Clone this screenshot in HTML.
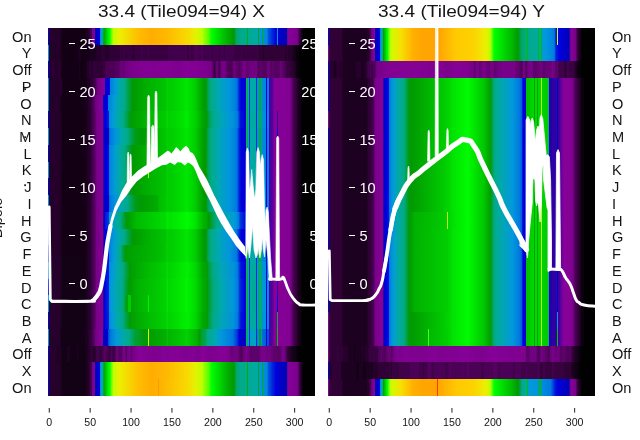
<!DOCTYPE html><html><head><meta charset="utf-8"><title>chart</title><style>html,body{margin:0;padding:0;background:#fff}body{width:640px;height:440px;overflow:hidden;position:relative;font-family:"Liberation Sans",sans-serif}svg{position:absolute;left:0;top:0;display:block}text{font-family:"Liberation Sans",sans-serif}svg{will-change:transform;opacity:0.9999}</style></head><body><svg width="640" height="440" viewBox="0 0 640 440"><defs><linearGradient id="g1"><stop offset="0" stop-color="#0000dd"/><stop offset="0.00367" stop-color="#0000dd"/><stop offset="0.00382" stop-color="#25002b"/><stop offset="0.04307" stop-color="#25002b"/><stop offset="0.04682" stop-color="#1c0020"/><stop offset="0.05056" stop-color="#1c0020"/><stop offset="0.05431" stop-color="#130015"/><stop offset="0.1404" stop-color="#130015"/><stop offset="0.1442" stop-color="#1c0020"/><stop offset="0.1479" stop-color="#1c0020"/><stop offset="0.1554" stop-color="#2f0035"/><stop offset="0.1592" stop-color="#41004b"/><stop offset="0.1647" stop-color="#4b0055"/><stop offset="0.1649" stop-color="#770088"/><stop offset="0.176" stop-color="#820093"/><stop offset="0.1761" stop-color="#0000b1"/><stop offset="0.1779" stop-color="#0000b1"/><stop offset="0.1816" stop-color="#0000c5"/><stop offset="0.1947" stop-color="#0000dd"/><stop offset="0.1948" stop-color="#008add"/><stop offset="0.1966" stop-color="#008add"/><stop offset="0.2004" stop-color="#009fcb"/><stop offset="0.2041" stop-color="#00aaa3"/><stop offset="0.2059" stop-color="#00aaa3"/><stop offset="0.2061" stop-color="#00a13d"/><stop offset="0.2097" stop-color="#00a13d"/><stop offset="0.2098" stop-color="#00aa00"/><stop offset="0.2116" stop-color="#00aa00"/><stop offset="0.2266" stop-color="#00f200"/><stop offset="0.2303" stop-color="#00fc00"/><stop offset="0.2341" stop-color="#2cff00"/><stop offset="0.2359" stop-color="#2cff00"/><stop offset="0.236" stop-color="#67ff00"/><stop offset="0.2378" stop-color="#67ff00"/><stop offset="0.2416" stop-color="#93ff00"/><stop offset="0.2434" stop-color="#93ff00"/><stop offset="0.2435" stop-color="#c0fd00"/><stop offset="0.2678" stop-color="#ecef00"/><stop offset="0.339" stop-color="#ffbd00"/><stop offset="0.3876" stop-color="#ffad00"/><stop offset="0.4476" stop-color="#ffb900"/><stop offset="0.5225" stop-color="#f8da00"/><stop offset="0.5524" stop-color="#e4f100"/><stop offset="0.5749" stop-color="#c0fd00"/><stop offset="0.5787" stop-color="#bcff00"/><stop offset="0.5824" stop-color="#a1ff00"/><stop offset="0.6011" stop-color="#58ff00"/><stop offset="0.6124" stop-color="#00ff00"/><stop offset="0.6685" stop-color="#00b400"/><stop offset="0.6948" stop-color="#009a00"/><stop offset="0.6985" stop-color="#009b13"/><stop offset="0.7022" stop-color="#00a13d"/><stop offset="0.704" stop-color="#00a13d"/><stop offset="0.7042" stop-color="#00a773"/><stop offset="0.7097" stop-color="#00a773"/><stop offset="0.7135" stop-color="#00a97d"/><stop offset="0.7172" stop-color="#00a97d"/><stop offset="0.721" stop-color="#00aa88"/><stop offset="0.7452" stop-color="#00aa93"/><stop offset="0.7454" stop-color="#00ac00"/><stop offset="0.749" stop-color="#00ac00"/><stop offset="0.7491" stop-color="#00aa95"/><stop offset="0.7809" stop-color="#00aaa0"/><stop offset="0.7864" stop-color="#00aaab"/><stop offset="0.7866" stop-color="#00ac00"/><stop offset="0.7902" stop-color="#00ac00"/><stop offset="0.7903" stop-color="#0098dd"/><stop offset="0.8014" stop-color="#0092dd"/><stop offset="0.8016" stop-color="#00ac00"/><stop offset="0.8052" stop-color="#00ac00"/><stop offset="0.8053" stop-color="#0090dd"/><stop offset="0.8184" stop-color="#0085dd"/><stop offset="0.8221" stop-color="#0078dd"/><stop offset="0.8258" stop-color="#0054dd"/><stop offset="0.8333" stop-color="#0041dd"/><stop offset="0.8408" stop-color="#0025dd"/><stop offset="0.8483" stop-color="#0013dd"/><stop offset="0.8521" stop-color="#0000dd"/><stop offset="0.8576" stop-color="#0000d9"/><stop offset="0.8578" stop-color="#0092dd"/><stop offset="0.8613" stop-color="#0092dd"/><stop offset="0.8615" stop-color="#0000d1"/><stop offset="0.8951" stop-color="#0000b1"/><stop offset="0.8952" stop-color="#6d009c"/><stop offset="0.897" stop-color="#6d009c"/><stop offset="0.9007" stop-color="#870098"/><stop offset="0.9307" stop-color="#7b008c"/><stop offset="0.9345" stop-color="#770088"/><stop offset="0.9419" stop-color="#41004b"/><stop offset="0.9532" stop-color="#09000b"/><stop offset="0.9569" stop-color="#000000"/><stop offset="1" stop-color="#000000"/></linearGradient><linearGradient id="g2"><stop offset="0" stop-color="#0098dd"/><stop offset="0.00367" stop-color="#0098dd"/><stop offset="0.00382" stop-color="#25002b"/><stop offset="0.02434" stop-color="#25002b"/><stop offset="0.02809" stop-color="#1c0020"/><stop offset="0.03184" stop-color="#25002b"/><stop offset="0.04307" stop-color="#25002b"/><stop offset="0.04682" stop-color="#1c0020"/><stop offset="0.05056" stop-color="#1c0020"/><stop offset="0.05431" stop-color="#130015"/><stop offset="0.1105" stop-color="#130015"/><stop offset="0.1142" stop-color="#1c0020"/><stop offset="0.1217" stop-color="#1c0020"/><stop offset="0.1255" stop-color="#130015"/><stop offset="0.1517" stop-color="#130015"/><stop offset="0.1554" stop-color="#1c0020"/><stop offset="0.1779" stop-color="#1c0020"/><stop offset="0.1816" stop-color="#25002b"/><stop offset="0.1966" stop-color="#25002b"/><stop offset="0.2004" stop-color="#2f0035"/><stop offset="0.2116" stop-color="#2f0035"/><stop offset="0.2154" stop-color="#25002b"/><stop offset="0.2266" stop-color="#25002b"/><stop offset="0.2303" stop-color="#2f0035"/><stop offset="0.2678" stop-color="#2f0035"/><stop offset="0.2715" stop-color="#380040"/><stop offset="0.2903" stop-color="#380040"/><stop offset="0.294" stop-color="#2f0035"/><stop offset="0.2978" stop-color="#380040"/><stop offset="0.3127" stop-color="#380040"/><stop offset="0.3165" stop-color="#2f0035"/><stop offset="0.324" stop-color="#2f0035"/><stop offset="0.3277" stop-color="#380040"/><stop offset="0.3464" stop-color="#380040"/><stop offset="0.3502" stop-color="#41004b"/><stop offset="0.3539" stop-color="#380040"/><stop offset="0.3727" stop-color="#380040"/><stop offset="0.3764" stop-color="#41004b"/><stop offset="0.3801" stop-color="#380040"/><stop offset="0.4476" stop-color="#380040"/><stop offset="0.4513" stop-color="#41004b"/><stop offset="0.5187" stop-color="#41004b"/><stop offset="0.5225" stop-color="#380040"/><stop offset="0.5262" stop-color="#380040"/><stop offset="0.53" stop-color="#41004b"/><stop offset="0.5337" stop-color="#41004b"/><stop offset="0.5375" stop-color="#380040"/><stop offset="0.5412" stop-color="#380040"/><stop offset="0.5449" stop-color="#41004b"/><stop offset="0.5487" stop-color="#41004b"/><stop offset="0.5524" stop-color="#4b0055"/><stop offset="0.5599" stop-color="#4b0055"/><stop offset="0.5637" stop-color="#41004b"/><stop offset="0.5712" stop-color="#41004b"/><stop offset="0.5749" stop-color="#4b0055"/><stop offset="0.5787" stop-color="#4b0055"/><stop offset="0.5824" stop-color="#41004b"/><stop offset="0.6124" stop-color="#41004b"/><stop offset="0.6161" stop-color="#380040"/><stop offset="0.6199" stop-color="#41004b"/><stop offset="0.6386" stop-color="#41004b"/><stop offset="0.6423" stop-color="#380040"/><stop offset="0.6461" stop-color="#41004b"/><stop offset="0.6573" stop-color="#41004b"/><stop offset="0.661" stop-color="#380040"/><stop offset="0.6648" stop-color="#41004b"/><stop offset="0.6948" stop-color="#41004b"/><stop offset="0.6985" stop-color="#380040"/><stop offset="0.721" stop-color="#380040"/><stop offset="0.7247" stop-color="#41004b"/><stop offset="0.7285" stop-color="#380040"/><stop offset="0.7884" stop-color="#380040"/><stop offset="0.7921" stop-color="#2f0035"/><stop offset="0.8034" stop-color="#2f0035"/><stop offset="0.8071" stop-color="#25002b"/><stop offset="0.8109" stop-color="#2f0035"/><stop offset="0.8858" stop-color="#2f0035"/><stop offset="0.8895" stop-color="#25002b"/><stop offset="0.8933" stop-color="#25002b"/><stop offset="0.897" stop-color="#2f0035"/><stop offset="0.9007" stop-color="#25002b"/><stop offset="0.912" stop-color="#25002b"/><stop offset="0.9157" stop-color="#1c0020"/><stop offset="0.9195" stop-color="#1c0020"/><stop offset="0.9232" stop-color="#130015"/><stop offset="0.927" stop-color="#130015"/><stop offset="0.9307" stop-color="#09000b"/><stop offset="0.9382" stop-color="#09000b"/><stop offset="0.9419" stop-color="#000000"/><stop offset="1" stop-color="#000000"/></linearGradient><linearGradient id="g3"><stop offset="0" stop-color="#0000dd"/><stop offset="0.00367" stop-color="#0000dd"/><stop offset="0.00382" stop-color="#25002b"/><stop offset="0.01311" stop-color="#25002b"/><stop offset="0.01685" stop-color="#2f0035"/><stop offset="0.0206" stop-color="#2f0035"/><stop offset="0.02434" stop-color="#25002b"/><stop offset="0.03933" stop-color="#25002b"/><stop offset="0.04307" stop-color="#2f0035"/><stop offset="0.05431" stop-color="#130015"/><stop offset="0.1142" stop-color="#130015"/><stop offset="0.118" stop-color="#1c0020"/><stop offset="0.1217" stop-color="#130015"/><stop offset="0.1404" stop-color="#130015"/><stop offset="0.1479" stop-color="#25002b"/><stop offset="0.1517" stop-color="#25002b"/><stop offset="0.1554" stop-color="#2f0035"/><stop offset="0.1592" stop-color="#2f0035"/><stop offset="0.1629" stop-color="#25002b"/><stop offset="0.1667" stop-color="#25002b"/><stop offset="0.1742" stop-color="#380040"/><stop offset="0.1779" stop-color="#2f0035"/><stop offset="0.2041" stop-color="#2f0035"/><stop offset="0.2079" stop-color="#380040"/><stop offset="0.2116" stop-color="#380040"/><stop offset="0.2191" stop-color="#4b0055"/><stop offset="0.2491" stop-color="#4b0055"/><stop offset="0.2528" stop-color="#540060"/><stop offset="0.264" stop-color="#540060"/><stop offset="0.2753" stop-color="#700080"/><stop offset="0.279" stop-color="#670075"/><stop offset="0.2865" stop-color="#670075"/><stop offset="0.2903" stop-color="#700080"/><stop offset="0.3127" stop-color="#7a008b"/><stop offset="0.3614" stop-color="#830094"/><stop offset="0.3914" stop-color="#810092"/><stop offset="0.4326" stop-color="#820093"/><stop offset="0.4551" stop-color="#830094"/><stop offset="0.4888" stop-color="#7d008e"/><stop offset="0.5075" stop-color="#830094"/><stop offset="0.5187" stop-color="#850096"/><stop offset="0.5562" stop-color="#820093"/><stop offset="0.6086" stop-color="#79008a"/><stop offset="0.6124" stop-color="#700080"/><stop offset="0.6236" stop-color="#380040"/><stop offset="0.6273" stop-color="#4b0055"/><stop offset="0.6311" stop-color="#670075"/><stop offset="0.6348" stop-color="#670075"/><stop offset="0.6423" stop-color="#41004b"/><stop offset="0.6461" stop-color="#5d006b"/><stop offset="0.6498" stop-color="#700080"/><stop offset="0.6573" stop-color="#770088"/><stop offset="0.6648" stop-color="#700080"/><stop offset="0.6685" stop-color="#5d006b"/><stop offset="0.6723" stop-color="#540060"/><stop offset="0.676" stop-color="#540060"/><stop offset="0.6798" stop-color="#4b0055"/><stop offset="0.6873" stop-color="#4b0055"/><stop offset="0.691" stop-color="#540060"/><stop offset="0.6948" stop-color="#670075"/><stop offset="0.6985" stop-color="#700080"/><stop offset="0.706" stop-color="#5d006b"/><stop offset="0.7097" stop-color="#5d006b"/><stop offset="0.7135" stop-color="#540060"/><stop offset="0.7172" stop-color="#540060"/><stop offset="0.721" stop-color="#5d006b"/><stop offset="0.7247" stop-color="#5d006b"/><stop offset="0.7285" stop-color="#700080"/><stop offset="0.736" stop-color="#770088"/><stop offset="0.7434" stop-color="#670075"/><stop offset="0.7509" stop-color="#670075"/><stop offset="0.7547" stop-color="#700080"/><stop offset="0.7809" stop-color="#700080"/><stop offset="0.7846" stop-color="#5d006b"/><stop offset="0.7884" stop-color="#540060"/><stop offset="0.7921" stop-color="#540060"/><stop offset="0.7959" stop-color="#5d006b"/><stop offset="0.7996" stop-color="#5d006b"/><stop offset="0.8034" stop-color="#540060"/><stop offset="0.8146" stop-color="#540060"/><stop offset="0.8258" stop-color="#700080"/><stop offset="0.8371" stop-color="#540060"/><stop offset="0.8408" stop-color="#5d006b"/><stop offset="0.8446" stop-color="#5d006b"/><stop offset="0.8483" stop-color="#540060"/><stop offset="0.8633" stop-color="#540060"/><stop offset="0.8708" stop-color="#670075"/><stop offset="0.8745" stop-color="#670075"/><stop offset="0.882" stop-color="#540060"/><stop offset="0.8858" stop-color="#540060"/><stop offset="0.8895" stop-color="#41004b"/><stop offset="0.8933" stop-color="#41004b"/><stop offset="0.897" stop-color="#380040"/><stop offset="0.9045" stop-color="#380040"/><stop offset="0.9082" stop-color="#2f0035"/><stop offset="0.9157" stop-color="#2f0035"/><stop offset="0.9195" stop-color="#25002b"/><stop offset="0.9232" stop-color="#25002b"/><stop offset="0.9345" stop-color="#09000b"/><stop offset="0.9419" stop-color="#09000b"/><stop offset="0.9457" stop-color="#000000"/><stop offset="1" stop-color="#000000"/></linearGradient><linearGradient id="g4"><stop offset="0" stop-color="#0098dd"/><stop offset="0.00367" stop-color="#0098dd"/><stop offset="0.00382" stop-color="#25002b"/><stop offset="0.05056" stop-color="#25002b"/><stop offset="0.05805" stop-color="#130015"/><stop offset="0.1442" stop-color="#130015"/><stop offset="0.1479" stop-color="#1c0020"/><stop offset="0.1554" stop-color="#1c0020"/><stop offset="0.1629" stop-color="#2f0035"/><stop offset="0.1667" stop-color="#2f0035"/><stop offset="0.1779" stop-color="#4b0055"/><stop offset="0.1854" stop-color="#700080"/><stop offset="0.1966" stop-color="#7f0090"/><stop offset="0.2134" stop-color="#870098"/><stop offset="0.2136" stop-color="#0000c5"/><stop offset="0.2154" stop-color="#0000c5"/><stop offset="0.2191" stop-color="#0000d5"/><stop offset="0.2266" stop-color="#0000dd"/><stop offset="0.2321" stop-color="#0009dd"/><stop offset="0.2323" stop-color="#007ddd"/><stop offset="0.2528" stop-color="#009adb"/><stop offset="0.2603" stop-color="#00a0c7"/><stop offset="0.264" stop-color="#00a8af"/><stop offset="0.2865" stop-color="#00aa8b"/><stop offset="0.294" stop-color="#00a668"/><stop offset="0.2978" stop-color="#00a353"/><stop offset="0.3015" stop-color="#00a248"/><stop offset="0.3052" stop-color="#009f33"/><stop offset="0.309" stop-color="#009e28"/><stop offset="0.3127" stop-color="#009b13"/><stop offset="0.3202" stop-color="#009a00"/><stop offset="0.3801" stop-color="#00b200"/><stop offset="0.4401" stop-color="#00c400"/><stop offset="0.4476" stop-color="#00d200"/><stop offset="0.4551" stop-color="#00ca00"/><stop offset="0.5075" stop-color="#00df00"/><stop offset="0.5187" stop-color="#00e700"/><stop offset="0.5524" stop-color="#00cc00"/><stop offset="0.5824" stop-color="#009c00"/><stop offset="0.5899" stop-color="#009a00"/><stop offset="0.5936" stop-color="#009b13"/><stop offset="0.5974" stop-color="#00a13d"/><stop offset="0.6011" stop-color="#00a55d"/><stop offset="0.6049" stop-color="#00a773"/><stop offset="0.6124" stop-color="#00aa8b"/><stop offset="0.6386" stop-color="#00a8af"/><stop offset="0.6461" stop-color="#00a3bf"/><stop offset="0.6798" stop-color="#0095dd"/><stop offset="0.706" stop-color="#007add"/><stop offset="0.7135" stop-color="#0041dd"/><stop offset="0.7172" stop-color="#001cdd"/><stop offset="0.7247" stop-color="#0000dd"/><stop offset="0.7415" stop-color="#0000d1"/><stop offset="0.7416" stop-color="#00a7b3"/><stop offset="0.7452" stop-color="#00a7b3"/><stop offset="0.7454" stop-color="#00bc00"/><stop offset="0.749" stop-color="#00bc00"/><stop offset="0.7491" stop-color="#00a8af"/><stop offset="0.7527" stop-color="#00a8af"/><stop offset="0.7529" stop-color="#002fdd"/><stop offset="0.7565" stop-color="#002fdd"/><stop offset="0.7566" stop-color="#00aaab"/><stop offset="0.779" stop-color="#00aaa0"/><stop offset="0.7791" stop-color="#002fdd"/><stop offset="0.7827" stop-color="#002fdd"/><stop offset="0.7828" stop-color="#0090dd"/><stop offset="0.7864" stop-color="#0090dd"/><stop offset="0.7866" stop-color="#00bc00"/><stop offset="0.7902" stop-color="#00bc00"/><stop offset="0.7903" stop-color="#008ddd"/><stop offset="0.7977" stop-color="#008ddd"/><stop offset="0.7978" stop-color="#00bc00"/><stop offset="0.8014" stop-color="#00bc00"/><stop offset="0.8016" stop-color="#008add"/><stop offset="0.8164" stop-color="#0085dd"/><stop offset="0.8166" stop-color="#0000dd"/><stop offset="0.8201" stop-color="#0000dd"/><stop offset="0.8203" stop-color="#0080dd"/><stop offset="0.8276" stop-color="#007ddd"/><stop offset="0.8278" stop-color="#4d00a0"/><stop offset="0.8371" stop-color="#4d00a0"/><stop offset="0.8408" stop-color="#58009f"/><stop offset="0.8483" stop-color="#870098"/><stop offset="0.9045" stop-color="#810092"/><stop offset="0.912" stop-color="#700080"/><stop offset="0.9157" stop-color="#540060"/><stop offset="0.9419" stop-color="#130015"/><stop offset="0.9457" stop-color="#130015"/><stop offset="0.9532" stop-color="#000000"/><stop offset="1" stop-color="#000000"/></linearGradient><linearGradient id="g5"><stop offset="0" stop-color="#0098dd"/><stop offset="0.00367" stop-color="#0098dd"/><stop offset="0.00382" stop-color="#25002b"/><stop offset="0.04307" stop-color="#25002b"/><stop offset="0.05056" stop-color="#130015"/><stop offset="0.1367" stop-color="#130015"/><stop offset="0.1404" stop-color="#1c0020"/><stop offset="0.1479" stop-color="#1c0020"/><stop offset="0.1554" stop-color="#2f0035"/><stop offset="0.1592" stop-color="#2f0035"/><stop offset="0.1704" stop-color="#4b0055"/><stop offset="0.1779" stop-color="#700080"/><stop offset="0.1891" stop-color="#7f0090"/><stop offset="0.2059" stop-color="#870098"/><stop offset="0.2061" stop-color="#0000c5"/><stop offset="0.2079" stop-color="#0000c5"/><stop offset="0.2116" stop-color="#0000d5"/><stop offset="0.2191" stop-color="#0000dd"/><stop offset="0.2246" stop-color="#0009dd"/><stop offset="0.2248" stop-color="#007ddd"/><stop offset="0.2453" stop-color="#009adb"/><stop offset="0.2603" stop-color="#00a7b3"/><stop offset="0.2865" stop-color="#00aa8b"/><stop offset="0.294" stop-color="#00a668"/><stop offset="0.2978" stop-color="#00a353"/><stop offset="0.3015" stop-color="#00a248"/><stop offset="0.3052" stop-color="#009f33"/><stop offset="0.309" stop-color="#009e28"/><stop offset="0.3127" stop-color="#009b13"/><stop offset="0.3202" stop-color="#009a00"/><stop offset="0.3801" stop-color="#00b200"/><stop offset="0.4401" stop-color="#00c400"/><stop offset="0.4476" stop-color="#00d200"/><stop offset="0.4551" stop-color="#00ca00"/><stop offset="0.5075" stop-color="#00df00"/><stop offset="0.5187" stop-color="#00e700"/><stop offset="0.5524" stop-color="#00cc00"/><stop offset="0.5824" stop-color="#009c00"/><stop offset="0.5899" stop-color="#009a00"/><stop offset="0.5936" stop-color="#009b13"/><stop offset="0.5974" stop-color="#00a13d"/><stop offset="0.6011" stop-color="#00a55d"/><stop offset="0.6049" stop-color="#00a773"/><stop offset="0.6124" stop-color="#00aa8b"/><stop offset="0.6386" stop-color="#00a8af"/><stop offset="0.6461" stop-color="#00a3bf"/><stop offset="0.6798" stop-color="#0095dd"/><stop offset="0.706" stop-color="#007add"/><stop offset="0.7135" stop-color="#0041dd"/><stop offset="0.7172" stop-color="#001cdd"/><stop offset="0.7247" stop-color="#0000dd"/><stop offset="0.7415" stop-color="#0000d1"/><stop offset="0.7416" stop-color="#00a7b3"/><stop offset="0.7452" stop-color="#00a7b3"/><stop offset="0.7454" stop-color="#00bc00"/><stop offset="0.749" stop-color="#00bc00"/><stop offset="0.7491" stop-color="#00a8af"/><stop offset="0.7527" stop-color="#00a8af"/><stop offset="0.7529" stop-color="#002fdd"/><stop offset="0.7565" stop-color="#002fdd"/><stop offset="0.7566" stop-color="#00aaab"/><stop offset="0.779" stop-color="#00aaa0"/><stop offset="0.7791" stop-color="#002fdd"/><stop offset="0.7827" stop-color="#002fdd"/><stop offset="0.7828" stop-color="#0090dd"/><stop offset="0.7864" stop-color="#0090dd"/><stop offset="0.7866" stop-color="#00bc00"/><stop offset="0.7902" stop-color="#00bc00"/><stop offset="0.7903" stop-color="#008ddd"/><stop offset="0.7977" stop-color="#008ddd"/><stop offset="0.7978" stop-color="#00bc00"/><stop offset="0.8014" stop-color="#00bc00"/><stop offset="0.8016" stop-color="#008add"/><stop offset="0.8164" stop-color="#0085dd"/><stop offset="0.8166" stop-color="#0000dd"/><stop offset="0.8201" stop-color="#0000dd"/><stop offset="0.8203" stop-color="#0080dd"/><stop offset="0.8276" stop-color="#007ddd"/><stop offset="0.8278" stop-color="#4d00a0"/><stop offset="0.8371" stop-color="#4d00a0"/><stop offset="0.8408" stop-color="#58009f"/><stop offset="0.8483" stop-color="#870098"/><stop offset="0.9045" stop-color="#810092"/><stop offset="0.912" stop-color="#700080"/><stop offset="0.9157" stop-color="#540060"/><stop offset="0.9419" stop-color="#130015"/><stop offset="0.9457" stop-color="#130015"/><stop offset="0.9532" stop-color="#000000"/><stop offset="1" stop-color="#000000"/></linearGradient><linearGradient id="g6"><stop offset="0" stop-color="#0000dd"/><stop offset="0.00367" stop-color="#0000dd"/><stop offset="0.00382" stop-color="#25002b"/><stop offset="0.04307" stop-color="#25002b"/><stop offset="0.04682" stop-color="#1c0020"/><stop offset="0.05056" stop-color="#1c0020"/><stop offset="0.05431" stop-color="#130015"/><stop offset="0.1404" stop-color="#130015"/><stop offset="0.1442" stop-color="#1c0020"/><stop offset="0.1479" stop-color="#1c0020"/><stop offset="0.1517" stop-color="#25002b"/><stop offset="0.1554" stop-color="#25002b"/><stop offset="0.1742" stop-color="#540060"/><stop offset="0.1816" stop-color="#770088"/><stop offset="0.2059" stop-color="#860097"/><stop offset="0.2061" stop-color="#2d00a4"/><stop offset="0.2097" stop-color="#2d00a4"/><stop offset="0.2098" stop-color="#0000d1"/><stop offset="0.2154" stop-color="#0000dd"/><stop offset="0.2228" stop-color="#0013dd"/><stop offset="0.2284" stop-color="#0013dd"/><stop offset="0.2285" stop-color="#0088dd"/><stop offset="0.2416" stop-color="#009adb"/><stop offset="0.264" stop-color="#00aaa5"/><stop offset="0.2828" stop-color="#00aa88"/><stop offset="0.2865" stop-color="#00a773"/><stop offset="0.2903" stop-color="#00a668"/><stop offset="0.3015" stop-color="#009e28"/><stop offset="0.3052" stop-color="#009d1d"/><stop offset="0.309" stop-color="#009a08"/><stop offset="0.3165" stop-color="#009f00"/><stop offset="0.3839" stop-color="#00ba00"/><stop offset="0.4401" stop-color="#00cc00"/><stop offset="0.4476" stop-color="#00da00"/><stop offset="0.4513" stop-color="#00cf00"/><stop offset="0.5037" stop-color="#00e200"/><stop offset="0.5187" stop-color="#00ec00"/><stop offset="0.5562" stop-color="#00cc00"/><stop offset="0.5787" stop-color="#00a700"/><stop offset="0.5936" stop-color="#009a00"/><stop offset="0.6011" stop-color="#00a13d"/><stop offset="0.6086" stop-color="#00a668"/><stop offset="0.6124" stop-color="#00a773"/><stop offset="0.6161" stop-color="#00aa88"/><stop offset="0.6348" stop-color="#00aaa0"/><stop offset="0.6536" stop-color="#00a3bf"/><stop offset="0.691" stop-color="#0092dd"/><stop offset="0.7097" stop-color="#0078dd"/><stop offset="0.7172" stop-color="#002fdd"/><stop offset="0.721" stop-color="#0013dd"/><stop offset="0.736" stop-color="#0000d9"/><stop offset="0.7415" stop-color="#0000d9"/><stop offset="0.7416" stop-color="#00aaab"/><stop offset="0.7452" stop-color="#00aaab"/><stop offset="0.7454" stop-color="#00bc00"/><stop offset="0.749" stop-color="#00bc00"/><stop offset="0.7491" stop-color="#00aaa5"/><stop offset="0.7527" stop-color="#00aaa5"/><stop offset="0.7529" stop-color="#002fdd"/><stop offset="0.7565" stop-color="#002fdd"/><stop offset="0.7566" stop-color="#00aaa3"/><stop offset="0.779" stop-color="#00aa9b"/><stop offset="0.7791" stop-color="#002fdd"/><stop offset="0.7827" stop-color="#002fdd"/><stop offset="0.7828" stop-color="#0098dd"/><stop offset="0.7864" stop-color="#0098dd"/><stop offset="0.7866" stop-color="#00bc00"/><stop offset="0.7902" stop-color="#00bc00"/><stop offset="0.7903" stop-color="#0095dd"/><stop offset="0.7977" stop-color="#0092dd"/><stop offset="0.7978" stop-color="#00bc00"/><stop offset="0.8014" stop-color="#00bc00"/><stop offset="0.8016" stop-color="#0090dd"/><stop offset="0.8164" stop-color="#008add"/><stop offset="0.8166" stop-color="#0000dd"/><stop offset="0.8201" stop-color="#0000dd"/><stop offset="0.8203" stop-color="#0088dd"/><stop offset="0.8276" stop-color="#0082dd"/><stop offset="0.8278" stop-color="#4d00a0"/><stop offset="0.8371" stop-color="#4d00a0"/><stop offset="0.8408" stop-color="#58009f"/><stop offset="0.8483" stop-color="#870098"/><stop offset="0.8576" stop-color="#860097"/><stop offset="0.8578" stop-color="#3800a3"/><stop offset="0.8613" stop-color="#3800a3"/><stop offset="0.8615" stop-color="#860097"/><stop offset="0.9045" stop-color="#810092"/><stop offset="0.912" stop-color="#700080"/><stop offset="0.9157" stop-color="#540060"/><stop offset="0.9419" stop-color="#130015"/><stop offset="0.9457" stop-color="#130015"/><stop offset="0.9532" stop-color="#000000"/><stop offset="1" stop-color="#000000"/></linearGradient><linearGradient id="g7"><stop offset="0" stop-color="#0098dd"/><stop offset="0.00367" stop-color="#0098dd"/><stop offset="0.00382" stop-color="#25002b"/><stop offset="0.04307" stop-color="#25002b"/><stop offset="0.04682" stop-color="#1c0020"/><stop offset="0.05056" stop-color="#1c0020"/><stop offset="0.05431" stop-color="#130015"/><stop offset="0.1404" stop-color="#130015"/><stop offset="0.1442" stop-color="#1c0020"/><stop offset="0.1479" stop-color="#1c0020"/><stop offset="0.1517" stop-color="#25002b"/><stop offset="0.1554" stop-color="#25002b"/><stop offset="0.1742" stop-color="#540060"/><stop offset="0.1816" stop-color="#770088"/><stop offset="0.2059" stop-color="#860097"/><stop offset="0.2061" stop-color="#2d00a4"/><stop offset="0.2097" stop-color="#2d00a4"/><stop offset="0.2098" stop-color="#0000c5"/><stop offset="0.2284" stop-color="#0000d5"/><stop offset="0.2285" stop-color="#0067dd"/><stop offset="0.2303" stop-color="#0067dd"/><stop offset="0.2341" stop-color="#007add"/><stop offset="0.2528" stop-color="#0095dd"/><stop offset="0.279" stop-color="#00aaa3"/><stop offset="0.2978" stop-color="#00aa8b"/><stop offset="0.3165" stop-color="#00a13d"/><stop offset="0.3202" stop-color="#009f33"/><stop offset="0.324" stop-color="#009d1d"/><stop offset="0.3277" stop-color="#009d1d"/><stop offset="0.3315" stop-color="#009b13"/><stop offset="0.3352" stop-color="#009b13"/><stop offset="0.339" stop-color="#009a08"/><stop offset="0.3577" stop-color="#009c00"/><stop offset="0.4101" stop-color="#00ac00"/><stop offset="0.4139" stop-color="#00ba00"/><stop offset="0.4438" stop-color="#00ca00"/><stop offset="0.4476" stop-color="#00d200"/><stop offset="0.4551" stop-color="#00ca00"/><stop offset="0.5075" stop-color="#00df00"/><stop offset="0.5187" stop-color="#00e700"/><stop offset="0.5524" stop-color="#00cc00"/><stop offset="0.5824" stop-color="#009c00"/><stop offset="0.5899" stop-color="#009a00"/><stop offset="0.5936" stop-color="#009b13"/><stop offset="0.5974" stop-color="#00a13d"/><stop offset="0.6011" stop-color="#00a55d"/><stop offset="0.6049" stop-color="#00a773"/><stop offset="0.6124" stop-color="#00aa8b"/><stop offset="0.6386" stop-color="#00a8af"/><stop offset="0.6461" stop-color="#00a3bf"/><stop offset="0.6798" stop-color="#0095dd"/><stop offset="0.706" stop-color="#007add"/><stop offset="0.7135" stop-color="#0041dd"/><stop offset="0.7172" stop-color="#001cdd"/><stop offset="0.7247" stop-color="#0000dd"/><stop offset="0.7415" stop-color="#0000d1"/><stop offset="0.7416" stop-color="#00a7b3"/><stop offset="0.7452" stop-color="#00a7b3"/><stop offset="0.7454" stop-color="#00bc00"/><stop offset="0.749" stop-color="#00bc00"/><stop offset="0.7491" stop-color="#00a8af"/><stop offset="0.7527" stop-color="#00a8af"/><stop offset="0.7529" stop-color="#002fdd"/><stop offset="0.7565" stop-color="#002fdd"/><stop offset="0.7566" stop-color="#00aaab"/><stop offset="0.779" stop-color="#00aaa0"/><stop offset="0.7791" stop-color="#002fdd"/><stop offset="0.7827" stop-color="#002fdd"/><stop offset="0.7828" stop-color="#0090dd"/><stop offset="0.7864" stop-color="#0090dd"/><stop offset="0.7866" stop-color="#00bc00"/><stop offset="0.7902" stop-color="#00bc00"/><stop offset="0.7903" stop-color="#008ddd"/><stop offset="0.7977" stop-color="#008ddd"/><stop offset="0.7978" stop-color="#00bc00"/><stop offset="0.8014" stop-color="#00bc00"/><stop offset="0.8016" stop-color="#008add"/><stop offset="0.8164" stop-color="#0085dd"/><stop offset="0.8166" stop-color="#0000dd"/><stop offset="0.8201" stop-color="#0000dd"/><stop offset="0.8203" stop-color="#0080dd"/><stop offset="0.8276" stop-color="#007ddd"/><stop offset="0.8278" stop-color="#4d00a0"/><stop offset="0.8371" stop-color="#4d00a0"/><stop offset="0.8408" stop-color="#58009f"/><stop offset="0.8483" stop-color="#870098"/><stop offset="0.8576" stop-color="#860097"/><stop offset="0.8578" stop-color="#0000dd"/><stop offset="0.8613" stop-color="#0000dd"/><stop offset="0.8615" stop-color="#860097"/><stop offset="0.9045" stop-color="#810092"/><stop offset="0.912" stop-color="#700080"/><stop offset="0.9157" stop-color="#540060"/><stop offset="0.9419" stop-color="#130015"/><stop offset="0.9457" stop-color="#130015"/><stop offset="0.9532" stop-color="#000000"/><stop offset="1" stop-color="#000000"/></linearGradient><linearGradient id="g8"><stop offset="0" stop-color="#0000dd"/><stop offset="0.00367" stop-color="#0000dd"/><stop offset="0.00382" stop-color="#25002b"/><stop offset="0.04307" stop-color="#25002b"/><stop offset="0.04682" stop-color="#1c0020"/><stop offset="0.05056" stop-color="#1c0020"/><stop offset="0.05431" stop-color="#130015"/><stop offset="0.1404" stop-color="#130015"/><stop offset="0.1442" stop-color="#1c0020"/><stop offset="0.1479" stop-color="#1c0020"/><stop offset="0.1517" stop-color="#25002b"/><stop offset="0.1554" stop-color="#25002b"/><stop offset="0.1742" stop-color="#540060"/><stop offset="0.1816" stop-color="#770088"/><stop offset="0.2059" stop-color="#860097"/><stop offset="0.2061" stop-color="#2d00a4"/><stop offset="0.2097" stop-color="#2d00a4"/><stop offset="0.2098" stop-color="#0000cd"/><stop offset="0.2191" stop-color="#0000dd"/><stop offset="0.2284" stop-color="#0009dd"/><stop offset="0.2285" stop-color="#0080dd"/><stop offset="0.2491" stop-color="#009bd7"/><stop offset="0.2678" stop-color="#00aaa5"/><stop offset="0.2865" stop-color="#00aa8b"/><stop offset="0.294" stop-color="#00a668"/><stop offset="0.2978" stop-color="#00a353"/><stop offset="0.3015" stop-color="#00a248"/><stop offset="0.3052" stop-color="#009f33"/><stop offset="0.309" stop-color="#009e28"/><stop offset="0.3127" stop-color="#009b13"/><stop offset="0.3202" stop-color="#009a00"/><stop offset="0.3801" stop-color="#00b200"/><stop offset="0.4401" stop-color="#00c400"/><stop offset="0.4476" stop-color="#00d200"/><stop offset="0.4551" stop-color="#00ca00"/><stop offset="0.5075" stop-color="#00df00"/><stop offset="0.5187" stop-color="#00e700"/><stop offset="0.5524" stop-color="#00cc00"/><stop offset="0.5824" stop-color="#009c00"/><stop offset="0.5899" stop-color="#009a00"/><stop offset="0.5936" stop-color="#009b13"/><stop offset="0.5974" stop-color="#00a13d"/><stop offset="0.6011" stop-color="#00a55d"/><stop offset="0.6049" stop-color="#00a773"/><stop offset="0.6124" stop-color="#00aa8b"/><stop offset="0.6386" stop-color="#00a8af"/><stop offset="0.6461" stop-color="#00a3bf"/><stop offset="0.6798" stop-color="#0095dd"/><stop offset="0.706" stop-color="#007add"/><stop offset="0.7135" stop-color="#0041dd"/><stop offset="0.7172" stop-color="#001cdd"/><stop offset="0.7247" stop-color="#0000dd"/><stop offset="0.7415" stop-color="#0000d1"/><stop offset="0.7416" stop-color="#00a7b3"/><stop offset="0.7452" stop-color="#00a7b3"/><stop offset="0.7454" stop-color="#00bc00"/><stop offset="0.749" stop-color="#00bc00"/><stop offset="0.7491" stop-color="#00a8af"/><stop offset="0.7527" stop-color="#00a8af"/><stop offset="0.7529" stop-color="#002fdd"/><stop offset="0.7565" stop-color="#002fdd"/><stop offset="0.7566" stop-color="#00aaab"/><stop offset="0.779" stop-color="#00aaa0"/><stop offset="0.7791" stop-color="#002fdd"/><stop offset="0.7827" stop-color="#002fdd"/><stop offset="0.7828" stop-color="#0090dd"/><stop offset="0.7864" stop-color="#0090dd"/><stop offset="0.7866" stop-color="#00bc00"/><stop offset="0.7902" stop-color="#00bc00"/><stop offset="0.7903" stop-color="#008ddd"/><stop offset="0.7977" stop-color="#008ddd"/><stop offset="0.7978" stop-color="#00bc00"/><stop offset="0.8014" stop-color="#00bc00"/><stop offset="0.8016" stop-color="#008add"/><stop offset="0.8164" stop-color="#0085dd"/><stop offset="0.8166" stop-color="#0000dd"/><stop offset="0.8201" stop-color="#0000dd"/><stop offset="0.8203" stop-color="#0080dd"/><stop offset="0.8276" stop-color="#007ddd"/><stop offset="0.8278" stop-color="#4d00a0"/><stop offset="0.8371" stop-color="#4d00a0"/><stop offset="0.8408" stop-color="#58009f"/><stop offset="0.8483" stop-color="#870098"/><stop offset="0.8576" stop-color="#860097"/><stop offset="0.8578" stop-color="#0300aa"/><stop offset="0.8613" stop-color="#0300aa"/><stop offset="0.8615" stop-color="#860097"/><stop offset="0.9045" stop-color="#810092"/><stop offset="0.912" stop-color="#700080"/><stop offset="0.9157" stop-color="#540060"/><stop offset="0.9419" stop-color="#130015"/><stop offset="0.9457" stop-color="#130015"/><stop offset="0.9532" stop-color="#000000"/><stop offset="1" stop-color="#000000"/></linearGradient><linearGradient id="g9"><stop offset="0" stop-color="#0098dd"/><stop offset="0.00367" stop-color="#0098dd"/><stop offset="0.00382" stop-color="#25002b"/><stop offset="0.04307" stop-color="#25002b"/><stop offset="0.04682" stop-color="#1c0020"/><stop offset="0.05056" stop-color="#1c0020"/><stop offset="0.05431" stop-color="#130015"/><stop offset="0.1404" stop-color="#130015"/><stop offset="0.1442" stop-color="#1c0020"/><stop offset="0.1479" stop-color="#1c0020"/><stop offset="0.1517" stop-color="#25002b"/><stop offset="0.1554" stop-color="#25002b"/><stop offset="0.1742" stop-color="#540060"/><stop offset="0.1816" stop-color="#770088"/><stop offset="0.2059" stop-color="#860097"/><stop offset="0.2061" stop-color="#2d00a4"/><stop offset="0.2097" stop-color="#2d00a4"/><stop offset="0.2098" stop-color="#0000cd"/><stop offset="0.2191" stop-color="#0000dd"/><stop offset="0.2284" stop-color="#0009dd"/><stop offset="0.2285" stop-color="#0080dd"/><stop offset="0.2491" stop-color="#009bd7"/><stop offset="0.2678" stop-color="#00aaa5"/><stop offset="0.2865" stop-color="#00aa8b"/><stop offset="0.294" stop-color="#00a668"/><stop offset="0.2978" stop-color="#00a353"/><stop offset="0.3015" stop-color="#00a248"/><stop offset="0.3052" stop-color="#009f33"/><stop offset="0.309" stop-color="#009e28"/><stop offset="0.3127" stop-color="#009b13"/><stop offset="0.3202" stop-color="#009a00"/><stop offset="0.3727" stop-color="#00af00"/><stop offset="0.3745" stop-color="#00af00"/><stop offset="0.3746" stop-color="#c4fc00"/><stop offset="0.3782" stop-color="#c4fc00"/><stop offset="0.3784" stop-color="#00b200"/><stop offset="0.4401" stop-color="#00c400"/><stop offset="0.4476" stop-color="#00d200"/><stop offset="0.4551" stop-color="#00ca00"/><stop offset="0.5075" stop-color="#00df00"/><stop offset="0.5187" stop-color="#00e700"/><stop offset="0.5524" stop-color="#00cc00"/><stop offset="0.5824" stop-color="#009c00"/><stop offset="0.5899" stop-color="#009a00"/><stop offset="0.5936" stop-color="#009b13"/><stop offset="0.5974" stop-color="#00a13d"/><stop offset="0.6011" stop-color="#00a55d"/><stop offset="0.6049" stop-color="#00a773"/><stop offset="0.6124" stop-color="#00aa8b"/><stop offset="0.6386" stop-color="#00a8af"/><stop offset="0.6461" stop-color="#00a3bf"/><stop offset="0.6798" stop-color="#0095dd"/><stop offset="0.706" stop-color="#007add"/><stop offset="0.7135" stop-color="#0041dd"/><stop offset="0.7172" stop-color="#001cdd"/><stop offset="0.7247" stop-color="#0000dd"/><stop offset="0.7415" stop-color="#0000d1"/><stop offset="0.7416" stop-color="#00a7b3"/><stop offset="0.7452" stop-color="#00a7b3"/><stop offset="0.7454" stop-color="#00bc00"/><stop offset="0.749" stop-color="#00bc00"/><stop offset="0.7491" stop-color="#00a8af"/><stop offset="0.7527" stop-color="#00a8af"/><stop offset="0.7529" stop-color="#002fdd"/><stop offset="0.7565" stop-color="#002fdd"/><stop offset="0.7566" stop-color="#00aaab"/><stop offset="0.779" stop-color="#00aaa0"/><stop offset="0.7791" stop-color="#002fdd"/><stop offset="0.7827" stop-color="#002fdd"/><stop offset="0.7828" stop-color="#0090dd"/><stop offset="0.7864" stop-color="#0090dd"/><stop offset="0.7866" stop-color="#00bc00"/><stop offset="0.7902" stop-color="#00bc00"/><stop offset="0.7903" stop-color="#008ddd"/><stop offset="0.7977" stop-color="#008ddd"/><stop offset="0.7978" stop-color="#00bc00"/><stop offset="0.8014" stop-color="#00bc00"/><stop offset="0.8016" stop-color="#008add"/><stop offset="0.8164" stop-color="#0085dd"/><stop offset="0.8166" stop-color="#0000dd"/><stop offset="0.8201" stop-color="#0000dd"/><stop offset="0.8203" stop-color="#0080dd"/><stop offset="0.8276" stop-color="#007ddd"/><stop offset="0.8278" stop-color="#4d00a0"/><stop offset="0.8371" stop-color="#4d00a0"/><stop offset="0.8408" stop-color="#58009f"/><stop offset="0.8483" stop-color="#870098"/><stop offset="0.8576" stop-color="#860097"/><stop offset="0.8578" stop-color="#3800a3"/><stop offset="0.8613" stop-color="#3800a3"/><stop offset="0.8615" stop-color="#860097"/><stop offset="0.9045" stop-color="#810092"/><stop offset="0.912" stop-color="#700080"/><stop offset="0.9157" stop-color="#540060"/><stop offset="0.9419" stop-color="#130015"/><stop offset="0.9457" stop-color="#130015"/><stop offset="0.9532" stop-color="#000000"/><stop offset="1" stop-color="#000000"/></linearGradient><linearGradient id="g10"><stop offset="0" stop-color="#0000dd"/><stop offset="0.00367" stop-color="#0000dd"/><stop offset="0.00382" stop-color="#25002b"/><stop offset="0.04307" stop-color="#25002b"/><stop offset="0.04682" stop-color="#1c0020"/><stop offset="0.05056" stop-color="#1c0020"/><stop offset="0.05431" stop-color="#130015"/><stop offset="0.1404" stop-color="#130015"/><stop offset="0.1442" stop-color="#1c0020"/><stop offset="0.1479" stop-color="#1c0020"/><stop offset="0.1517" stop-color="#25002b"/><stop offset="0.1554" stop-color="#25002b"/><stop offset="0.1742" stop-color="#540060"/><stop offset="0.1816" stop-color="#770088"/><stop offset="0.2059" stop-color="#860097"/><stop offset="0.2061" stop-color="#2d00a4"/><stop offset="0.2097" stop-color="#2d00a4"/><stop offset="0.2098" stop-color="#0000cd"/><stop offset="0.2191" stop-color="#0000dd"/><stop offset="0.2284" stop-color="#0009dd"/><stop offset="0.2285" stop-color="#0080dd"/><stop offset="0.2491" stop-color="#009bd7"/><stop offset="0.2678" stop-color="#00aaa5"/><stop offset="0.2865" stop-color="#00aa8b"/><stop offset="0.294" stop-color="#00a668"/><stop offset="0.2978" stop-color="#00a353"/><stop offset="0.3015" stop-color="#00a248"/><stop offset="0.3052" stop-color="#009f33"/><stop offset="0.309" stop-color="#009e28"/><stop offset="0.3127" stop-color="#009b13"/><stop offset="0.3202" stop-color="#009a00"/><stop offset="0.3801" stop-color="#00b200"/><stop offset="0.4401" stop-color="#00c400"/><stop offset="0.4476" stop-color="#00d200"/><stop offset="0.4551" stop-color="#00ca00"/><stop offset="0.5075" stop-color="#00df00"/><stop offset="0.5187" stop-color="#00e700"/><stop offset="0.5524" stop-color="#00cc00"/><stop offset="0.5824" stop-color="#009c00"/><stop offset="0.5899" stop-color="#009a00"/><stop offset="0.5936" stop-color="#009b13"/><stop offset="0.5974" stop-color="#00a13d"/><stop offset="0.6011" stop-color="#00a55d"/><stop offset="0.6049" stop-color="#00a773"/><stop offset="0.6124" stop-color="#00aa8b"/><stop offset="0.6386" stop-color="#00a8af"/><stop offset="0.6461" stop-color="#00a3bf"/><stop offset="0.6798" stop-color="#0095dd"/><stop offset="0.706" stop-color="#007add"/><stop offset="0.7135" stop-color="#0041dd"/><stop offset="0.7172" stop-color="#001cdd"/><stop offset="0.7247" stop-color="#0000dd"/><stop offset="0.7415" stop-color="#0000d1"/><stop offset="0.7416" stop-color="#00a7b3"/><stop offset="0.7452" stop-color="#00a7b3"/><stop offset="0.7454" stop-color="#00bc00"/><stop offset="0.749" stop-color="#00bc00"/><stop offset="0.7491" stop-color="#00a8af"/><stop offset="0.7527" stop-color="#00a8af"/><stop offset="0.7529" stop-color="#002fdd"/><stop offset="0.7565" stop-color="#002fdd"/><stop offset="0.7566" stop-color="#00aaab"/><stop offset="0.779" stop-color="#00aaa0"/><stop offset="0.7791" stop-color="#002fdd"/><stop offset="0.7827" stop-color="#002fdd"/><stop offset="0.7828" stop-color="#0090dd"/><stop offset="0.7864" stop-color="#0090dd"/><stop offset="0.7866" stop-color="#00bc00"/><stop offset="0.7902" stop-color="#00bc00"/><stop offset="0.7903" stop-color="#008ddd"/><stop offset="0.7977" stop-color="#008ddd"/><stop offset="0.7978" stop-color="#00bc00"/><stop offset="0.8014" stop-color="#00bc00"/><stop offset="0.8016" stop-color="#008add"/><stop offset="0.8164" stop-color="#0085dd"/><stop offset="0.8166" stop-color="#0000dd"/><stop offset="0.8201" stop-color="#0000dd"/><stop offset="0.8203" stop-color="#0080dd"/><stop offset="0.8276" stop-color="#007ddd"/><stop offset="0.8278" stop-color="#4d00a0"/><stop offset="0.8371" stop-color="#4d00a0"/><stop offset="0.8408" stop-color="#58009f"/><stop offset="0.8483" stop-color="#870098"/><stop offset="0.8576" stop-color="#860097"/><stop offset="0.8578" stop-color="#58009f"/><stop offset="0.8613" stop-color="#58009f"/><stop offset="0.8615" stop-color="#860097"/><stop offset="0.9045" stop-color="#810092"/><stop offset="0.912" stop-color="#700080"/><stop offset="0.9157" stop-color="#540060"/><stop offset="0.9419" stop-color="#130015"/><stop offset="0.9457" stop-color="#130015"/><stop offset="0.9532" stop-color="#000000"/><stop offset="1" stop-color="#000000"/></linearGradient><linearGradient id="g11"><stop offset="0" stop-color="#0098dd"/><stop offset="0.00367" stop-color="#0098dd"/><stop offset="0.00382" stop-color="#25002b"/><stop offset="0.04307" stop-color="#25002b"/><stop offset="0.04682" stop-color="#1c0020"/><stop offset="0.05056" stop-color="#1c0020"/><stop offset="0.05431" stop-color="#130015"/><stop offset="0.1404" stop-color="#130015"/><stop offset="0.1442" stop-color="#1c0020"/><stop offset="0.1479" stop-color="#1c0020"/><stop offset="0.1517" stop-color="#25002b"/><stop offset="0.1554" stop-color="#25002b"/><stop offset="0.1742" stop-color="#540060"/><stop offset="0.1816" stop-color="#770088"/><stop offset="0.2059" stop-color="#860097"/><stop offset="0.2061" stop-color="#2d00a4"/><stop offset="0.2097" stop-color="#2d00a4"/><stop offset="0.2098" stop-color="#0000c5"/><stop offset="0.2284" stop-color="#0000d5"/><stop offset="0.2285" stop-color="#0067dd"/><stop offset="0.2303" stop-color="#0067dd"/><stop offset="0.2341" stop-color="#007add"/><stop offset="0.2528" stop-color="#0095dd"/><stop offset="0.279" stop-color="#00aaa3"/><stop offset="0.2978" stop-color="#00aa8b"/><stop offset="0.3165" stop-color="#00a13d"/><stop offset="0.3202" stop-color="#009f33"/><stop offset="0.324" stop-color="#009d1d"/><stop offset="0.3277" stop-color="#009d1d"/><stop offset="0.3315" stop-color="#009b13"/><stop offset="0.3352" stop-color="#009b13"/><stop offset="0.339" stop-color="#009a08"/><stop offset="0.3577" stop-color="#009c00"/><stop offset="0.4101" stop-color="#00ac00"/><stop offset="0.4139" stop-color="#00ba00"/><stop offset="0.4438" stop-color="#00ca00"/><stop offset="0.4476" stop-color="#00d200"/><stop offset="0.4551" stop-color="#00ca00"/><stop offset="0.5075" stop-color="#00df00"/><stop offset="0.5187" stop-color="#00e700"/><stop offset="0.5524" stop-color="#00cc00"/><stop offset="0.5824" stop-color="#009c00"/><stop offset="0.5899" stop-color="#009a00"/><stop offset="0.5936" stop-color="#009b13"/><stop offset="0.5974" stop-color="#00a13d"/><stop offset="0.6011" stop-color="#00a55d"/><stop offset="0.6049" stop-color="#00a773"/><stop offset="0.6124" stop-color="#00aa8b"/><stop offset="0.6386" stop-color="#00a8af"/><stop offset="0.6461" stop-color="#00a3bf"/><stop offset="0.6798" stop-color="#0095dd"/><stop offset="0.706" stop-color="#007add"/><stop offset="0.7135" stop-color="#0041dd"/><stop offset="0.7172" stop-color="#001cdd"/><stop offset="0.7247" stop-color="#0000dd"/><stop offset="0.7415" stop-color="#0000d1"/><stop offset="0.7416" stop-color="#00a7b3"/><stop offset="0.7452" stop-color="#00a7b3"/><stop offset="0.7454" stop-color="#00bc00"/><stop offset="0.749" stop-color="#00bc00"/><stop offset="0.7491" stop-color="#00a8af"/><stop offset="0.7527" stop-color="#00a8af"/><stop offset="0.7529" stop-color="#002fdd"/><stop offset="0.7565" stop-color="#002fdd"/><stop offset="0.7566" stop-color="#00aaab"/><stop offset="0.779" stop-color="#00aaa0"/><stop offset="0.7791" stop-color="#002fdd"/><stop offset="0.7827" stop-color="#002fdd"/><stop offset="0.7828" stop-color="#0090dd"/><stop offset="0.7864" stop-color="#0090dd"/><stop offset="0.7866" stop-color="#00bc00"/><stop offset="0.7902" stop-color="#00bc00"/><stop offset="0.7903" stop-color="#008ddd"/><stop offset="0.7977" stop-color="#008ddd"/><stop offset="0.7978" stop-color="#00bc00"/><stop offset="0.8014" stop-color="#00bc00"/><stop offset="0.8016" stop-color="#008add"/><stop offset="0.8164" stop-color="#0085dd"/><stop offset="0.8166" stop-color="#0000dd"/><stop offset="0.8201" stop-color="#0000dd"/><stop offset="0.8203" stop-color="#0080dd"/><stop offset="0.8276" stop-color="#007ddd"/><stop offset="0.8278" stop-color="#4d00a0"/><stop offset="0.8371" stop-color="#4d00a0"/><stop offset="0.8408" stop-color="#58009f"/><stop offset="0.8483" stop-color="#870098"/><stop offset="0.8576" stop-color="#860097"/><stop offset="0.8578" stop-color="#58009f"/><stop offset="0.8613" stop-color="#58009f"/><stop offset="0.8615" stop-color="#860097"/><stop offset="0.9045" stop-color="#810092"/><stop offset="0.912" stop-color="#700080"/><stop offset="0.9157" stop-color="#540060"/><stop offset="0.9419" stop-color="#130015"/><stop offset="0.9457" stop-color="#130015"/><stop offset="0.9532" stop-color="#000000"/><stop offset="1" stop-color="#000000"/></linearGradient><linearGradient id="g12"><stop offset="0" stop-color="#0000dd"/><stop offset="0.00367" stop-color="#0000dd"/><stop offset="0.00382" stop-color="#25002b"/><stop offset="0.04307" stop-color="#25002b"/><stop offset="0.04682" stop-color="#1c0020"/><stop offset="0.05056" stop-color="#1c0020"/><stop offset="0.05431" stop-color="#130015"/><stop offset="0.1404" stop-color="#130015"/><stop offset="0.1442" stop-color="#1c0020"/><stop offset="0.1479" stop-color="#1c0020"/><stop offset="0.1517" stop-color="#25002b"/><stop offset="0.1554" stop-color="#25002b"/><stop offset="0.1742" stop-color="#540060"/><stop offset="0.1816" stop-color="#770088"/><stop offset="0.2059" stop-color="#860097"/><stop offset="0.2061" stop-color="#2300a6"/><stop offset="0.2097" stop-color="#2300a6"/><stop offset="0.2098" stop-color="#0000dd"/><stop offset="0.2116" stop-color="#0000dd"/><stop offset="0.2154" stop-color="#001cdd"/><stop offset="0.2284" stop-color="#0038dd"/><stop offset="0.2285" stop-color="#0098dd"/><stop offset="0.2603" stop-color="#00aa9b"/><stop offset="0.2715" stop-color="#00aa88"/><stop offset="0.294" stop-color="#009a08"/><stop offset="0.3015" stop-color="#009f00"/><stop offset="0.3315" stop-color="#00ba00"/><stop offset="0.4401" stop-color="#00dc00"/><stop offset="0.4476" stop-color="#00ea00"/><stop offset="0.4551" stop-color="#00e200"/><stop offset="0.5037" stop-color="#00f400"/><stop offset="0.5225" stop-color="#00fc00"/><stop offset="0.5524" stop-color="#00e400"/><stop offset="0.5824" stop-color="#00b400"/><stop offset="0.5936" stop-color="#00ac00"/><stop offset="0.6011" stop-color="#009a00"/><stop offset="0.6199" stop-color="#00a353"/><stop offset="0.6236" stop-color="#00a668"/><stop offset="0.6273" stop-color="#00a773"/><stop offset="0.6311" stop-color="#00aa88"/><stop offset="0.6461" stop-color="#00aaa0"/><stop offset="0.6948" stop-color="#009cd3"/><stop offset="0.706" stop-color="#0090dd"/><stop offset="0.7135" stop-color="#007add"/><stop offset="0.7172" stop-color="#0054dd"/><stop offset="0.721" stop-color="#0038dd"/><stop offset="0.736" stop-color="#0013dd"/><stop offset="0.7415" stop-color="#0013dd"/><stop offset="0.7416" stop-color="#00aa98"/><stop offset="0.7452" stop-color="#00aa98"/><stop offset="0.7454" stop-color="#00bc00"/><stop offset="0.749" stop-color="#00bc00"/><stop offset="0.7491" stop-color="#00aa95"/><stop offset="0.7527" stop-color="#00aa95"/><stop offset="0.7529" stop-color="#002fdd"/><stop offset="0.7565" stop-color="#002fdd"/><stop offset="0.7566" stop-color="#00aa93"/><stop offset="0.779" stop-color="#00aa88"/><stop offset="0.7791" stop-color="#002fdd"/><stop offset="0.7827" stop-color="#002fdd"/><stop offset="0.7828" stop-color="#00a0c7"/><stop offset="0.7864" stop-color="#00a0c7"/><stop offset="0.7866" stop-color="#00bc00"/><stop offset="0.7902" stop-color="#00bc00"/><stop offset="0.7903" stop-color="#009fcb"/><stop offset="0.7977" stop-color="#009fcb"/><stop offset="0.7978" stop-color="#00bc00"/><stop offset="0.8014" stop-color="#00bc00"/><stop offset="0.8016" stop-color="#009ecf"/><stop offset="0.8164" stop-color="#009bd7"/><stop offset="0.8166" stop-color="#0000dd"/><stop offset="0.8201" stop-color="#0000dd"/><stop offset="0.8203" stop-color="#0098dd"/><stop offset="0.8276" stop-color="#0092dd"/><stop offset="0.8278" stop-color="#4300a2"/><stop offset="0.8408" stop-color="#58009f"/><stop offset="0.8483" stop-color="#870098"/><stop offset="0.8576" stop-color="#860097"/><stop offset="0.8578" stop-color="#58009f"/><stop offset="0.8613" stop-color="#58009f"/><stop offset="0.8615" stop-color="#860097"/><stop offset="0.9045" stop-color="#810092"/><stop offset="0.912" stop-color="#700080"/><stop offset="0.9157" stop-color="#540060"/><stop offset="0.9419" stop-color="#130015"/><stop offset="0.9457" stop-color="#130015"/><stop offset="0.9532" stop-color="#000000"/><stop offset="1" stop-color="#000000"/></linearGradient><linearGradient id="g13"><stop offset="0" stop-color="#0098dd"/><stop offset="0.00367" stop-color="#0098dd"/><stop offset="0.00382" stop-color="#25002b"/><stop offset="0.04307" stop-color="#25002b"/><stop offset="0.04682" stop-color="#1c0020"/><stop offset="0.05056" stop-color="#1c0020"/><stop offset="0.05431" stop-color="#130015"/><stop offset="0.1404" stop-color="#130015"/><stop offset="0.1442" stop-color="#1c0020"/><stop offset="0.1479" stop-color="#1c0020"/><stop offset="0.1517" stop-color="#25002b"/><stop offset="0.1554" stop-color="#25002b"/><stop offset="0.1742" stop-color="#540060"/><stop offset="0.1816" stop-color="#770088"/><stop offset="0.2059" stop-color="#860097"/><stop offset="0.2061" stop-color="#2d00a4"/><stop offset="0.2097" stop-color="#2d00a4"/><stop offset="0.2098" stop-color="#0000cd"/><stop offset="0.2191" stop-color="#0000dd"/><stop offset="0.2284" stop-color="#0009dd"/><stop offset="0.2285" stop-color="#0080dd"/><stop offset="0.2491" stop-color="#009bd7"/><stop offset="0.2678" stop-color="#00aaa5"/><stop offset="0.2865" stop-color="#00aa8b"/><stop offset="0.294" stop-color="#00a668"/><stop offset="0.2978" stop-color="#00a353"/><stop offset="0.3015" stop-color="#00a248"/><stop offset="0.3052" stop-color="#009f33"/><stop offset="0.309" stop-color="#009e28"/><stop offset="0.3127" stop-color="#009b13"/><stop offset="0.3202" stop-color="#009a00"/><stop offset="0.3801" stop-color="#00b200"/><stop offset="0.4401" stop-color="#00c400"/><stop offset="0.4476" stop-color="#00d200"/><stop offset="0.4551" stop-color="#00ca00"/><stop offset="0.5075" stop-color="#00df00"/><stop offset="0.5187" stop-color="#00e700"/><stop offset="0.5524" stop-color="#00cc00"/><stop offset="0.5824" stop-color="#009c00"/><stop offset="0.5899" stop-color="#009a00"/><stop offset="0.5936" stop-color="#009b13"/><stop offset="0.5974" stop-color="#00a13d"/><stop offset="0.6011" stop-color="#00a55d"/><stop offset="0.6049" stop-color="#00a773"/><stop offset="0.6124" stop-color="#00aa8b"/><stop offset="0.6386" stop-color="#00a8af"/><stop offset="0.6461" stop-color="#00a3bf"/><stop offset="0.6798" stop-color="#0095dd"/><stop offset="0.706" stop-color="#007add"/><stop offset="0.7135" stop-color="#0041dd"/><stop offset="0.7172" stop-color="#001cdd"/><stop offset="0.7247" stop-color="#0000dd"/><stop offset="0.7415" stop-color="#0000d1"/><stop offset="0.7416" stop-color="#00a7b3"/><stop offset="0.7452" stop-color="#00a7b3"/><stop offset="0.7454" stop-color="#00bc00"/><stop offset="0.749" stop-color="#00bc00"/><stop offset="0.7491" stop-color="#00a8af"/><stop offset="0.7527" stop-color="#00a8af"/><stop offset="0.7529" stop-color="#002fdd"/><stop offset="0.7565" stop-color="#002fdd"/><stop offset="0.7566" stop-color="#00aaab"/><stop offset="0.779" stop-color="#00aaa0"/><stop offset="0.7791" stop-color="#002fdd"/><stop offset="0.7827" stop-color="#002fdd"/><stop offset="0.7828" stop-color="#0090dd"/><stop offset="0.7864" stop-color="#0090dd"/><stop offset="0.7866" stop-color="#00bc00"/><stop offset="0.7902" stop-color="#00bc00"/><stop offset="0.7903" stop-color="#008ddd"/><stop offset="0.7977" stop-color="#008ddd"/><stop offset="0.7978" stop-color="#00bc00"/><stop offset="0.8014" stop-color="#00bc00"/><stop offset="0.8016" stop-color="#008add"/><stop offset="0.8164" stop-color="#0085dd"/><stop offset="0.8166" stop-color="#0000dd"/><stop offset="0.8201" stop-color="#0000dd"/><stop offset="0.8203" stop-color="#0080dd"/><stop offset="0.8276" stop-color="#007ddd"/><stop offset="0.8278" stop-color="#4d00a0"/><stop offset="0.8371" stop-color="#4d00a0"/><stop offset="0.8408" stop-color="#58009f"/><stop offset="0.8483" stop-color="#870098"/><stop offset="0.8576" stop-color="#860097"/><stop offset="0.8578" stop-color="#58009f"/><stop offset="0.8613" stop-color="#58009f"/><stop offset="0.8615" stop-color="#860097"/><stop offset="0.9045" stop-color="#810092"/><stop offset="0.912" stop-color="#700080"/><stop offset="0.9157" stop-color="#540060"/><stop offset="0.9419" stop-color="#130015"/><stop offset="0.9457" stop-color="#130015"/><stop offset="0.9532" stop-color="#000000"/><stop offset="1" stop-color="#000000"/></linearGradient><linearGradient id="g14"><stop offset="0" stop-color="#0000dd"/><stop offset="0.00367" stop-color="#0000dd"/><stop offset="0.00382" stop-color="#25002b"/><stop offset="0.04307" stop-color="#25002b"/><stop offset="0.04682" stop-color="#1c0020"/><stop offset="0.05056" stop-color="#1c0020"/><stop offset="0.05431" stop-color="#130015"/><stop offset="0.1404" stop-color="#130015"/><stop offset="0.1442" stop-color="#1c0020"/><stop offset="0.1479" stop-color="#1c0020"/><stop offset="0.1517" stop-color="#25002b"/><stop offset="0.1554" stop-color="#25002b"/><stop offset="0.1742" stop-color="#540060"/><stop offset="0.1816" stop-color="#770088"/><stop offset="0.2059" stop-color="#860097"/><stop offset="0.2061" stop-color="#2d00a4"/><stop offset="0.2097" stop-color="#2d00a4"/><stop offset="0.2098" stop-color="#0000cd"/><stop offset="0.2191" stop-color="#0000dd"/><stop offset="0.2284" stop-color="#0009dd"/><stop offset="0.2285" stop-color="#0080dd"/><stop offset="0.2453" stop-color="#009adb"/><stop offset="0.2566" stop-color="#00a6b7"/><stop offset="0.2715" stop-color="#00aa8d"/><stop offset="0.2828" stop-color="#009f33"/><stop offset="0.2903" stop-color="#009a08"/><stop offset="0.2978" stop-color="#009f00"/><stop offset="0.4288" stop-color="#00bf00"/><stop offset="0.4438" stop-color="#00ca00"/><stop offset="0.4476" stop-color="#00d200"/><stop offset="0.4551" stop-color="#00ca00"/><stop offset="0.5075" stop-color="#00df00"/><stop offset="0.5187" stop-color="#00e700"/><stop offset="0.5524" stop-color="#00cc00"/><stop offset="0.5824" stop-color="#009c00"/><stop offset="0.5899" stop-color="#009a00"/><stop offset="0.5936" stop-color="#009b13"/><stop offset="0.5974" stop-color="#00a13d"/><stop offset="0.6011" stop-color="#00a55d"/><stop offset="0.6049" stop-color="#00a773"/><stop offset="0.6124" stop-color="#00aa8b"/><stop offset="0.6386" stop-color="#00a8af"/><stop offset="0.6461" stop-color="#00a3bf"/><stop offset="0.6798" stop-color="#0095dd"/><stop offset="0.706" stop-color="#007add"/><stop offset="0.7135" stop-color="#0041dd"/><stop offset="0.7172" stop-color="#001cdd"/><stop offset="0.7247" stop-color="#0000dd"/><stop offset="0.7415" stop-color="#0000d1"/><stop offset="0.7416" stop-color="#00a7b3"/><stop offset="0.7452" stop-color="#00a7b3"/><stop offset="0.7454" stop-color="#00bc00"/><stop offset="0.749" stop-color="#00bc00"/><stop offset="0.7491" stop-color="#00a8af"/><stop offset="0.7527" stop-color="#00a8af"/><stop offset="0.7529" stop-color="#002fdd"/><stop offset="0.7565" stop-color="#002fdd"/><stop offset="0.7566" stop-color="#00aaab"/><stop offset="0.779" stop-color="#00aaa0"/><stop offset="0.7791" stop-color="#002fdd"/><stop offset="0.7827" stop-color="#002fdd"/><stop offset="0.7828" stop-color="#0090dd"/><stop offset="0.7864" stop-color="#0090dd"/><stop offset="0.7866" stop-color="#00bc00"/><stop offset="0.7902" stop-color="#00bc00"/><stop offset="0.7903" stop-color="#008ddd"/><stop offset="0.7977" stop-color="#008ddd"/><stop offset="0.7978" stop-color="#00bc00"/><stop offset="0.8014" stop-color="#00bc00"/><stop offset="0.8016" stop-color="#008add"/><stop offset="0.8164" stop-color="#0085dd"/><stop offset="0.8166" stop-color="#0000dd"/><stop offset="0.8201" stop-color="#0000dd"/><stop offset="0.8203" stop-color="#0080dd"/><stop offset="0.8276" stop-color="#007ddd"/><stop offset="0.8278" stop-color="#4d00a0"/><stop offset="0.8371" stop-color="#4d00a0"/><stop offset="0.8408" stop-color="#58009f"/><stop offset="0.8483" stop-color="#870098"/><stop offset="0.8576" stop-color="#860097"/><stop offset="0.8578" stop-color="#58009f"/><stop offset="0.8613" stop-color="#58009f"/><stop offset="0.8615" stop-color="#860097"/><stop offset="0.9045" stop-color="#810092"/><stop offset="0.912" stop-color="#700080"/><stop offset="0.9157" stop-color="#540060"/><stop offset="0.9419" stop-color="#130015"/><stop offset="0.9457" stop-color="#130015"/><stop offset="0.9532" stop-color="#000000"/><stop offset="1" stop-color="#000000"/></linearGradient><linearGradient id="g15"><stop offset="0" stop-color="#0098dd"/><stop offset="0.00367" stop-color="#0098dd"/><stop offset="0.00382" stop-color="#25002b"/><stop offset="0.04307" stop-color="#25002b"/><stop offset="0.04682" stop-color="#1c0020"/><stop offset="0.05056" stop-color="#1c0020"/><stop offset="0.05431" stop-color="#130015"/><stop offset="0.1404" stop-color="#130015"/><stop offset="0.1442" stop-color="#1c0020"/><stop offset="0.1479" stop-color="#1c0020"/><stop offset="0.1517" stop-color="#25002b"/><stop offset="0.1554" stop-color="#25002b"/><stop offset="0.1742" stop-color="#540060"/><stop offset="0.1816" stop-color="#770088"/><stop offset="0.2059" stop-color="#860097"/><stop offset="0.2061" stop-color="#2d00a4"/><stop offset="0.2097" stop-color="#2d00a4"/><stop offset="0.2098" stop-color="#0000d5"/><stop offset="0.2191" stop-color="#0013dd"/><stop offset="0.2284" stop-color="#001cdd"/><stop offset="0.2285" stop-color="#008add"/><stop offset="0.2416" stop-color="#009bd7"/><stop offset="0.2528" stop-color="#00a3bf"/><stop offset="0.2603" stop-color="#00aaa8"/><stop offset="0.279" stop-color="#00aa8b"/><stop offset="0.2865" stop-color="#00a668"/><stop offset="0.294" stop-color="#00a13d"/><stop offset="0.2978" stop-color="#009f33"/><stop offset="0.3052" stop-color="#009a08"/><stop offset="0.3127" stop-color="#009f00"/><stop offset="0.3764" stop-color="#00bc00"/><stop offset="0.4401" stop-color="#00cf00"/><stop offset="0.4476" stop-color="#00dc00"/><stop offset="0.4513" stop-color="#00d200"/><stop offset="0.5075" stop-color="#00ea00"/><stop offset="0.5225" stop-color="#00ef00"/><stop offset="0.5524" stop-color="#00d700"/><stop offset="0.5787" stop-color="#00aa00"/><stop offset="0.5936" stop-color="#009f00"/><stop offset="0.5974" stop-color="#009b13"/><stop offset="0.6011" stop-color="#009f33"/><stop offset="0.6049" stop-color="#00a248"/><stop offset="0.6086" stop-color="#00a353"/><stop offset="0.6161" stop-color="#00a97d"/><stop offset="0.6461" stop-color="#00a7b3"/><stop offset="0.6948" stop-color="#0092dd"/><stop offset="0.7097" stop-color="#007add"/><stop offset="0.721" stop-color="#001cdd"/><stop offset="0.7285" stop-color="#0009dd"/><stop offset="0.7415" stop-color="#0000d9"/><stop offset="0.7416" stop-color="#00aaa5"/><stop offset="0.7452" stop-color="#00aaa5"/><stop offset="0.7454" stop-color="#00bc00"/><stop offset="0.749" stop-color="#00bc00"/><stop offset="0.7491" stop-color="#00aaa3"/><stop offset="0.7527" stop-color="#00aaa3"/><stop offset="0.7529" stop-color="#002fdd"/><stop offset="0.7565" stop-color="#002fdd"/><stop offset="0.7566" stop-color="#00aaa0"/><stop offset="0.779" stop-color="#00aa98"/><stop offset="0.7791" stop-color="#002fdd"/><stop offset="0.7827" stop-color="#002fdd"/><stop offset="0.7828" stop-color="#009adb"/><stop offset="0.7864" stop-color="#009adb"/><stop offset="0.7866" stop-color="#00bc00"/><stop offset="0.7902" stop-color="#00bc00"/><stop offset="0.7903" stop-color="#0098dd"/><stop offset="0.7977" stop-color="#0098dd"/><stop offset="0.7978" stop-color="#00bc00"/><stop offset="0.8014" stop-color="#00bc00"/><stop offset="0.8016" stop-color="#0092dd"/><stop offset="0.8164" stop-color="#0090dd"/><stop offset="0.8166" stop-color="#0000dd"/><stop offset="0.8201" stop-color="#0000dd"/><stop offset="0.8203" stop-color="#008add"/><stop offset="0.8276" stop-color="#0088dd"/><stop offset="0.8278" stop-color="#4d00a0"/><stop offset="0.8371" stop-color="#4d00a0"/><stop offset="0.8408" stop-color="#58009f"/><stop offset="0.8483" stop-color="#870098"/><stop offset="0.8558" stop-color="#860097"/><stop offset="0.8596" stop-color="#6d009c"/><stop offset="0.8633" stop-color="#860097"/><stop offset="0.9045" stop-color="#810092"/><stop offset="0.912" stop-color="#700080"/><stop offset="0.9157" stop-color="#540060"/><stop offset="0.9419" stop-color="#130015"/><stop offset="0.9457" stop-color="#130015"/><stop offset="0.9532" stop-color="#000000"/><stop offset="1" stop-color="#000000"/></linearGradient><linearGradient id="g16"><stop offset="0" stop-color="#0000dd"/><stop offset="0.00367" stop-color="#0000dd"/><stop offset="0.00382" stop-color="#25002b"/><stop offset="0.04307" stop-color="#25002b"/><stop offset="0.04682" stop-color="#1c0020"/><stop offset="0.05056" stop-color="#1c0020"/><stop offset="0.05431" stop-color="#130015"/><stop offset="0.1404" stop-color="#130015"/><stop offset="0.1442" stop-color="#1c0020"/><stop offset="0.1479" stop-color="#1c0020"/><stop offset="0.1517" stop-color="#25002b"/><stop offset="0.1554" stop-color="#25002b"/><stop offset="0.1742" stop-color="#540060"/><stop offset="0.1816" stop-color="#770088"/><stop offset="0.2059" stop-color="#860097"/><stop offset="0.2061" stop-color="#2300a6"/><stop offset="0.2097" stop-color="#2300a6"/><stop offset="0.2098" stop-color="#0000d5"/><stop offset="0.2228" stop-color="#001cdd"/><stop offset="0.2284" stop-color="#0025dd"/><stop offset="0.2285" stop-color="#008ddd"/><stop offset="0.2378" stop-color="#009bd7"/><stop offset="0.2528" stop-color="#00a6b7"/><stop offset="0.2715" stop-color="#00aa93"/><stop offset="0.279" stop-color="#00aa88"/><stop offset="0.2978" stop-color="#009d1d"/><stop offset="0.3052" stop-color="#009a00"/><stop offset="0.3352" stop-color="#00b200"/><stop offset="0.4401" stop-color="#00d200"/><stop offset="0.4476" stop-color="#00e200"/><stop offset="0.4513" stop-color="#00d700"/><stop offset="0.5075" stop-color="#00ec00"/><stop offset="0.5187" stop-color="#00f400"/><stop offset="0.5524" stop-color="#00da00"/><stop offset="0.5824" stop-color="#00aa00"/><stop offset="0.5936" stop-color="#00a200"/><stop offset="0.5974" stop-color="#009a08"/><stop offset="0.6011" stop-color="#009e28"/><stop offset="0.6049" stop-color="#009f33"/><stop offset="0.6124" stop-color="#00a55d"/><stop offset="0.6161" stop-color="#00a668"/><stop offset="0.6199" stop-color="#00a97d"/><stop offset="0.6461" stop-color="#00aaab"/><stop offset="0.6948" stop-color="#0095dd"/><stop offset="0.7097" stop-color="#007ddd"/><stop offset="0.7135" stop-color="#0067dd"/><stop offset="0.7153" stop-color="#0067dd"/><stop offset="0.7154" stop-color="#0038dd"/><stop offset="0.7172" stop-color="#0038dd"/><stop offset="0.7247" stop-color="#001cdd"/><stop offset="0.7322" stop-color="#0009dd"/><stop offset="0.7415" stop-color="#0000dd"/><stop offset="0.7416" stop-color="#00aaa3"/><stop offset="0.7452" stop-color="#00aaa3"/><stop offset="0.7454" stop-color="#00bc00"/><stop offset="0.749" stop-color="#00bc00"/><stop offset="0.7491" stop-color="#00aaa0"/><stop offset="0.7527" stop-color="#00aaa0"/><stop offset="0.7529" stop-color="#002fdd"/><stop offset="0.7565" stop-color="#002fdd"/><stop offset="0.7566" stop-color="#00aa9b"/><stop offset="0.779" stop-color="#00aa93"/><stop offset="0.7791" stop-color="#002fdd"/><stop offset="0.7827" stop-color="#002fdd"/><stop offset="0.7828" stop-color="#009cd3"/><stop offset="0.7864" stop-color="#009cd3"/><stop offset="0.7866" stop-color="#00bc00"/><stop offset="0.7902" stop-color="#00bc00"/><stop offset="0.7903" stop-color="#009adb"/><stop offset="0.7977" stop-color="#009adb"/><stop offset="0.7978" stop-color="#00bc00"/><stop offset="0.8014" stop-color="#00bc00"/><stop offset="0.8016" stop-color="#0098dd"/><stop offset="0.8164" stop-color="#0092dd"/><stop offset="0.8166" stop-color="#0000dd"/><stop offset="0.8201" stop-color="#0000dd"/><stop offset="0.8203" stop-color="#008ddd"/><stop offset="0.8276" stop-color="#008add"/><stop offset="0.8278" stop-color="#4d00a0"/><stop offset="0.8371" stop-color="#4d00a0"/><stop offset="0.8408" stop-color="#58009f"/><stop offset="0.8483" stop-color="#870098"/><stop offset="0.8576" stop-color="#860097"/><stop offset="0.8578" stop-color="#3800a3"/><stop offset="0.8613" stop-color="#3800a3"/><stop offset="0.8615" stop-color="#860097"/><stop offset="0.9045" stop-color="#810092"/><stop offset="0.912" stop-color="#700080"/><stop offset="0.9157" stop-color="#540060"/><stop offset="0.9419" stop-color="#130015"/><stop offset="0.9457" stop-color="#130015"/><stop offset="0.9532" stop-color="#000000"/><stop offset="1" stop-color="#000000"/></linearGradient><linearGradient id="g17"><stop offset="0" stop-color="#0098dd"/><stop offset="0.00367" stop-color="#0098dd"/><stop offset="0.00382" stop-color="#25002b"/><stop offset="0.04307" stop-color="#25002b"/><stop offset="0.04682" stop-color="#1c0020"/><stop offset="0.05056" stop-color="#1c0020"/><stop offset="0.05431" stop-color="#130015"/><stop offset="0.1404" stop-color="#130015"/><stop offset="0.1442" stop-color="#1c0020"/><stop offset="0.1479" stop-color="#1c0020"/><stop offset="0.1517" stop-color="#25002b"/><stop offset="0.1554" stop-color="#25002b"/><stop offset="0.1742" stop-color="#540060"/><stop offset="0.1816" stop-color="#770088"/><stop offset="0.2059" stop-color="#860097"/><stop offset="0.2061" stop-color="#2300a6"/><stop offset="0.2097" stop-color="#2300a6"/><stop offset="0.2098" stop-color="#0000d5"/><stop offset="0.2228" stop-color="#001cdd"/><stop offset="0.2284" stop-color="#0025dd"/><stop offset="0.2285" stop-color="#008ddd"/><stop offset="0.2378" stop-color="#009bd7"/><stop offset="0.2528" stop-color="#00a6b7"/><stop offset="0.2715" stop-color="#00aa93"/><stop offset="0.279" stop-color="#00aa88"/><stop offset="0.2865" stop-color="#00a55d"/><stop offset="0.2883" stop-color="#00a55d"/><stop offset="0.2885" stop-color="#00a700"/><stop offset="0.294" stop-color="#00a700"/><stop offset="0.2978" stop-color="#009d1d"/><stop offset="0.3015" stop-color="#00ca00"/><stop offset="0.309" stop-color="#00ca00"/><stop offset="0.3127" stop-color="#00a200"/><stop offset="0.3427" stop-color="#00b400"/><stop offset="0.3745" stop-color="#00bf00"/><stop offset="0.3746" stop-color="#00f200"/><stop offset="0.3782" stop-color="#00f200"/><stop offset="0.3784" stop-color="#00bf00"/><stop offset="0.4401" stop-color="#00d200"/><stop offset="0.4476" stop-color="#00e200"/><stop offset="0.4513" stop-color="#00d700"/><stop offset="0.5075" stop-color="#00ec00"/><stop offset="0.5187" stop-color="#00f400"/><stop offset="0.5524" stop-color="#00da00"/><stop offset="0.5824" stop-color="#00aa00"/><stop offset="0.5936" stop-color="#00a200"/><stop offset="0.5974" stop-color="#009a08"/><stop offset="0.6011" stop-color="#009e28"/><stop offset="0.6049" stop-color="#009f33"/><stop offset="0.6124" stop-color="#00a55d"/><stop offset="0.6161" stop-color="#00a668"/><stop offset="0.6199" stop-color="#00a97d"/><stop offset="0.6461" stop-color="#00aaab"/><stop offset="0.6948" stop-color="#0095dd"/><stop offset="0.7097" stop-color="#007ddd"/><stop offset="0.7135" stop-color="#0067dd"/><stop offset="0.7153" stop-color="#0067dd"/><stop offset="0.7154" stop-color="#0038dd"/><stop offset="0.7172" stop-color="#0038dd"/><stop offset="0.7247" stop-color="#001cdd"/><stop offset="0.7322" stop-color="#0009dd"/><stop offset="0.7415" stop-color="#0000dd"/><stop offset="0.7416" stop-color="#00aaa3"/><stop offset="0.7452" stop-color="#00aaa3"/><stop offset="0.7454" stop-color="#00bc00"/><stop offset="0.749" stop-color="#00bc00"/><stop offset="0.7491" stop-color="#00aaa0"/><stop offset="0.7527" stop-color="#00aaa0"/><stop offset="0.7529" stop-color="#002fdd"/><stop offset="0.7565" stop-color="#002fdd"/><stop offset="0.7566" stop-color="#00aa9b"/><stop offset="0.779" stop-color="#00aa93"/><stop offset="0.7791" stop-color="#002fdd"/><stop offset="0.7827" stop-color="#002fdd"/><stop offset="0.7828" stop-color="#009cd3"/><stop offset="0.7864" stop-color="#009cd3"/><stop offset="0.7866" stop-color="#00bc00"/><stop offset="0.7902" stop-color="#00bc00"/><stop offset="0.7903" stop-color="#009adb"/><stop offset="0.7977" stop-color="#009adb"/><stop offset="0.7978" stop-color="#00bc00"/><stop offset="0.8014" stop-color="#00bc00"/><stop offset="0.8016" stop-color="#0098dd"/><stop offset="0.8164" stop-color="#0092dd"/><stop offset="0.8166" stop-color="#0000dd"/><stop offset="0.8201" stop-color="#0000dd"/><stop offset="0.8203" stop-color="#008ddd"/><stop offset="0.8276" stop-color="#008add"/><stop offset="0.8278" stop-color="#4d00a0"/><stop offset="0.8371" stop-color="#4d00a0"/><stop offset="0.8408" stop-color="#58009f"/><stop offset="0.8483" stop-color="#870098"/><stop offset="0.8576" stop-color="#860097"/><stop offset="0.8578" stop-color="#0000dd"/><stop offset="0.8613" stop-color="#0000dd"/><stop offset="0.8615" stop-color="#860097"/><stop offset="0.9045" stop-color="#810092"/><stop offset="0.912" stop-color="#700080"/><stop offset="0.9157" stop-color="#540060"/><stop offset="0.9419" stop-color="#130015"/><stop offset="0.9457" stop-color="#130015"/><stop offset="0.9532" stop-color="#000000"/><stop offset="1" stop-color="#000000"/></linearGradient><linearGradient id="g18"><stop offset="0" stop-color="#0000dd"/><stop offset="0.00367" stop-color="#0000dd"/><stop offset="0.00382" stop-color="#25002b"/><stop offset="0.04307" stop-color="#25002b"/><stop offset="0.04682" stop-color="#1c0020"/><stop offset="0.05056" stop-color="#1c0020"/><stop offset="0.05431" stop-color="#130015"/><stop offset="0.1404" stop-color="#130015"/><stop offset="0.1442" stop-color="#1c0020"/><stop offset="0.1479" stop-color="#1c0020"/><stop offset="0.1517" stop-color="#25002b"/><stop offset="0.1554" stop-color="#25002b"/><stop offset="0.1742" stop-color="#540060"/><stop offset="0.1816" stop-color="#770088"/><stop offset="0.2059" stop-color="#860097"/><stop offset="0.2061" stop-color="#2d00a4"/><stop offset="0.2097" stop-color="#2d00a4"/><stop offset="0.2098" stop-color="#0000d5"/><stop offset="0.2191" stop-color="#0013dd"/><stop offset="0.2284" stop-color="#001cdd"/><stop offset="0.2285" stop-color="#008add"/><stop offset="0.2416" stop-color="#009bd7"/><stop offset="0.2528" stop-color="#00a3bf"/><stop offset="0.2603" stop-color="#00aaa8"/><stop offset="0.279" stop-color="#00aa8b"/><stop offset="0.2865" stop-color="#00a668"/><stop offset="0.294" stop-color="#00a13d"/><stop offset="0.2978" stop-color="#009f33"/><stop offset="0.3052" stop-color="#009a08"/><stop offset="0.3127" stop-color="#009f00"/><stop offset="0.3764" stop-color="#00bc00"/><stop offset="0.4401" stop-color="#00cf00"/><stop offset="0.4476" stop-color="#00dc00"/><stop offset="0.4513" stop-color="#00d200"/><stop offset="0.5075" stop-color="#00ea00"/><stop offset="0.5225" stop-color="#00ef00"/><stop offset="0.5524" stop-color="#00d700"/><stop offset="0.5787" stop-color="#00aa00"/><stop offset="0.5936" stop-color="#009f00"/><stop offset="0.5974" stop-color="#009b13"/><stop offset="0.6011" stop-color="#009f33"/><stop offset="0.6049" stop-color="#00a248"/><stop offset="0.6086" stop-color="#00a353"/><stop offset="0.6161" stop-color="#00a97d"/><stop offset="0.6461" stop-color="#00a7b3"/><stop offset="0.6948" stop-color="#0092dd"/><stop offset="0.7097" stop-color="#007add"/><stop offset="0.721" stop-color="#001cdd"/><stop offset="0.7285" stop-color="#0009dd"/><stop offset="0.7415" stop-color="#0000d9"/><stop offset="0.7416" stop-color="#00aaa5"/><stop offset="0.7452" stop-color="#00aaa5"/><stop offset="0.7454" stop-color="#00bc00"/><stop offset="0.749" stop-color="#00bc00"/><stop offset="0.7491" stop-color="#00aaa3"/><stop offset="0.7527" stop-color="#00aaa3"/><stop offset="0.7529" stop-color="#002fdd"/><stop offset="0.7565" stop-color="#002fdd"/><stop offset="0.7566" stop-color="#00aaa0"/><stop offset="0.779" stop-color="#00aa98"/><stop offset="0.7791" stop-color="#002fdd"/><stop offset="0.7827" stop-color="#002fdd"/><stop offset="0.7828" stop-color="#009adb"/><stop offset="0.7864" stop-color="#009adb"/><stop offset="0.7866" stop-color="#00bc00"/><stop offset="0.7902" stop-color="#00bc00"/><stop offset="0.7903" stop-color="#0098dd"/><stop offset="0.7977" stop-color="#0098dd"/><stop offset="0.7978" stop-color="#00bc00"/><stop offset="0.8014" stop-color="#00bc00"/><stop offset="0.8016" stop-color="#0092dd"/><stop offset="0.8164" stop-color="#0090dd"/><stop offset="0.8166" stop-color="#0000dd"/><stop offset="0.8201" stop-color="#0000dd"/><stop offset="0.8203" stop-color="#008add"/><stop offset="0.8276" stop-color="#0088dd"/><stop offset="0.8278" stop-color="#4d00a0"/><stop offset="0.8371" stop-color="#4d00a0"/><stop offset="0.8408" stop-color="#58009f"/><stop offset="0.8483" stop-color="#870098"/><stop offset="0.8576" stop-color="#860097"/><stop offset="0.8578" stop-color="#00a353"/><stop offset="0.8613" stop-color="#00a353"/><stop offset="0.8615" stop-color="#860097"/><stop offset="0.9045" stop-color="#810092"/><stop offset="0.912" stop-color="#700080"/><stop offset="0.9157" stop-color="#540060"/><stop offset="0.9419" stop-color="#130015"/><stop offset="0.9457" stop-color="#130015"/><stop offset="0.9532" stop-color="#000000"/><stop offset="1" stop-color="#000000"/></linearGradient><linearGradient id="g19"><stop offset="0" stop-color="#0098dd"/><stop offset="0.00367" stop-color="#0098dd"/><stop offset="0.00382" stop-color="#25002b"/><stop offset="0.04307" stop-color="#25002b"/><stop offset="0.05056" stop-color="#130015"/><stop offset="0.1367" stop-color="#130015"/><stop offset="0.1404" stop-color="#1c0020"/><stop offset="0.1479" stop-color="#1c0020"/><stop offset="0.1554" stop-color="#2f0035"/><stop offset="0.1592" stop-color="#2f0035"/><stop offset="0.1667" stop-color="#41004b"/><stop offset="0.1704" stop-color="#540060"/><stop offset="0.1742" stop-color="#5d006b"/><stop offset="0.1779" stop-color="#700080"/><stop offset="0.1891" stop-color="#7f0090"/><stop offset="0.2059" stop-color="#870098"/><stop offset="0.2061" stop-color="#0000b9"/><stop offset="0.2079" stop-color="#0000b9"/><stop offset="0.2116" stop-color="#0000c9"/><stop offset="0.2246" stop-color="#0000cd"/><stop offset="0.2248" stop-color="#004bdd"/><stop offset="0.2266" stop-color="#004bdd"/><stop offset="0.2341" stop-color="#0078dd"/><stop offset="0.2566" stop-color="#009bd7"/><stop offset="0.2903" stop-color="#00aa9b"/><stop offset="0.3052" stop-color="#00aa88"/><stop offset="0.309" stop-color="#00a773"/><stop offset="0.3165" stop-color="#00a55d"/><stop offset="0.3202" stop-color="#00a248"/><stop offset="0.3277" stop-color="#009f33"/><stop offset="0.3315" stop-color="#009f33"/><stop offset="0.3352" stop-color="#009e28"/><stop offset="0.339" stop-color="#009e28"/><stop offset="0.3427" stop-color="#009d1d"/><stop offset="0.3464" stop-color="#009d1d"/><stop offset="0.3502" stop-color="#009b13"/><stop offset="0.3539" stop-color="#009b13"/><stop offset="0.3577" stop-color="#009a08"/><stop offset="0.3745" stop-color="#009c00"/><stop offset="0.3746" stop-color="#dcf400"/><stop offset="0.3782" stop-color="#dcf400"/><stop offset="0.3784" stop-color="#009c00"/><stop offset="0.4401" stop-color="#00af00"/><stop offset="0.4476" stop-color="#00bf00"/><stop offset="0.4513" stop-color="#00b400"/><stop offset="0.5075" stop-color="#00ca00"/><stop offset="0.5187" stop-color="#00d200"/><stop offset="0.5562" stop-color="#00b200"/><stop offset="0.5674" stop-color="#009c00"/><stop offset="0.5787" stop-color="#00a13d"/><stop offset="0.5824" stop-color="#00a13d"/><stop offset="0.5899" stop-color="#00a353"/><stop offset="0.5936" stop-color="#00a668"/><stop offset="0.5974" stop-color="#00aa8b"/><stop offset="0.6273" stop-color="#00a7b3"/><stop offset="0.6461" stop-color="#0098dd"/><stop offset="0.691" stop-color="#0078dd"/><stop offset="0.6985" stop-color="#005ddd"/><stop offset="0.706" stop-color="#0041dd"/><stop offset="0.7135" stop-color="#0013dd"/><stop offset="0.7172" stop-color="#0000d5"/><stop offset="0.736" stop-color="#0000c5"/><stop offset="0.7415" stop-color="#0000c5"/><stop offset="0.7416" stop-color="#009cd3"/><stop offset="0.7452" stop-color="#009cd3"/><stop offset="0.7454" stop-color="#00bc00"/><stop offset="0.749" stop-color="#00bc00"/><stop offset="0.7491" stop-color="#009ecf"/><stop offset="0.7527" stop-color="#009ecf"/><stop offset="0.7529" stop-color="#002fdd"/><stop offset="0.7565" stop-color="#002fdd"/><stop offset="0.7566" stop-color="#00a0c7"/><stop offset="0.779" stop-color="#00a4bb"/><stop offset="0.7791" stop-color="#002fdd"/><stop offset="0.7827" stop-color="#002fdd"/><stop offset="0.7828" stop-color="#007ddd"/><stop offset="0.7864" stop-color="#007ddd"/><stop offset="0.7866" stop-color="#00bc00"/><stop offset="0.7902" stop-color="#00bc00"/><stop offset="0.7903" stop-color="#007add"/><stop offset="0.7977" stop-color="#0078dd"/><stop offset="0.7978" stop-color="#00bc00"/><stop offset="0.8014" stop-color="#00bc00"/><stop offset="0.8016" stop-color="#0070dd"/><stop offset="0.8164" stop-color="#005ddd"/><stop offset="0.8166" stop-color="#0000dd"/><stop offset="0.8201" stop-color="#0000dd"/><stop offset="0.8203" stop-color="#0054dd"/><stop offset="0.8276" stop-color="#004bdd"/><stop offset="0.8278" stop-color="#4d00a0"/><stop offset="0.8371" stop-color="#4d00a0"/><stop offset="0.8408" stop-color="#58009f"/><stop offset="0.8483" stop-color="#870098"/><stop offset="0.8576" stop-color="#860097"/><stop offset="0.8578" stop-color="#00bc00"/><stop offset="0.8613" stop-color="#00bc00"/><stop offset="0.8615" stop-color="#860097"/><stop offset="0.9045" stop-color="#810092"/><stop offset="0.912" stop-color="#700080"/><stop offset="0.9157" stop-color="#540060"/><stop offset="0.9419" stop-color="#130015"/><stop offset="0.9457" stop-color="#130015"/><stop offset="0.9532" stop-color="#000000"/><stop offset="1" stop-color="#000000"/></linearGradient><linearGradient id="g20"><stop offset="0" stop-color="#0000dd"/><stop offset="0.00367" stop-color="#0000dd"/><stop offset="0.00382" stop-color="#25002b"/><stop offset="0.03184" stop-color="#25002b"/><stop offset="0.03558" stop-color="#1c0020"/><stop offset="0.03933" stop-color="#1c0020"/><stop offset="0.04307" stop-color="#25002b"/><stop offset="0.04682" stop-color="#1c0020"/><stop offset="0.05056" stop-color="#1c0020"/><stop offset="0.05431" stop-color="#130015"/><stop offset="0.06929" stop-color="#130015"/><stop offset="0.07303" stop-color="#1c0020"/><stop offset="0.08052" stop-color="#1c0020"/><stop offset="0.08427" stop-color="#130015"/><stop offset="0.1067" stop-color="#130015"/><stop offset="0.1105" stop-color="#1c0020"/><stop offset="0.1142" stop-color="#130015"/><stop offset="0.1404" stop-color="#130015"/><stop offset="0.1442" stop-color="#1c0020"/><stop offset="0.1479" stop-color="#1c0020"/><stop offset="0.1517" stop-color="#25002b"/><stop offset="0.1554" stop-color="#25002b"/><stop offset="0.1592" stop-color="#2f0035"/><stop offset="0.1667" stop-color="#2f0035"/><stop offset="0.1704" stop-color="#25002b"/><stop offset="0.1742" stop-color="#25002b"/><stop offset="0.1779" stop-color="#2f0035"/><stop offset="0.1816" stop-color="#41004b"/><stop offset="0.1891" stop-color="#41004b"/><stop offset="0.1929" stop-color="#380040"/><stop offset="0.2004" stop-color="#380040"/><stop offset="0.2116" stop-color="#540060"/><stop offset="0.2154" stop-color="#540060"/><stop offset="0.2228" stop-color="#41004b"/><stop offset="0.2266" stop-color="#41004b"/><stop offset="0.2303" stop-color="#380040"/><stop offset="0.2378" stop-color="#4b0055"/><stop offset="0.2453" stop-color="#380040"/><stop offset="0.2491" stop-color="#380040"/><stop offset="0.2528" stop-color="#540060"/><stop offset="0.2566" stop-color="#670075"/><stop offset="0.2603" stop-color="#670075"/><stop offset="0.2678" stop-color="#540060"/><stop offset="0.2753" stop-color="#540060"/><stop offset="0.2828" stop-color="#770088"/><stop offset="0.2865" stop-color="#770088"/><stop offset="0.294" stop-color="#540060"/><stop offset="0.2978" stop-color="#700080"/><stop offset="0.3052" stop-color="#79008a"/><stop offset="0.309" stop-color="#700080"/><stop offset="0.3127" stop-color="#5d006b"/><stop offset="0.3165" stop-color="#700080"/><stop offset="0.324" stop-color="#79008a"/><stop offset="0.3427" stop-color="#870098"/><stop offset="0.3614" stop-color="#810092"/><stop offset="0.3951" stop-color="#7d008e"/><stop offset="0.4176" stop-color="#7e008f"/><stop offset="0.4326" stop-color="#83009a"/><stop offset="0.4513" stop-color="#810092"/><stop offset="0.4625" stop-color="#860097"/><stop offset="0.5187" stop-color="#7f0090"/><stop offset="0.5449" stop-color="#830094"/><stop offset="0.5637" stop-color="#7b008c"/><stop offset="0.5787" stop-color="#870098"/><stop offset="0.6049" stop-color="#7b008c"/><stop offset="0.6386" stop-color="#820093"/><stop offset="0.6461" stop-color="#830094"/><stop offset="0.6723" stop-color="#820093"/><stop offset="0.6835" stop-color="#700080"/><stop offset="0.6873" stop-color="#670075"/><stop offset="0.691" stop-color="#670075"/><stop offset="0.6948" stop-color="#700080"/><stop offset="0.7097" stop-color="#700080"/><stop offset="0.7247" stop-color="#4b0055"/><stop offset="0.7285" stop-color="#5d006b"/><stop offset="0.736" stop-color="#700080"/><stop offset="0.7434" stop-color="#770088"/><stop offset="0.7547" stop-color="#670075"/><stop offset="0.7622" stop-color="#540060"/><stop offset="0.7659" stop-color="#5d006b"/><stop offset="0.7884" stop-color="#5d006b"/><stop offset="0.7996" stop-color="#770088"/><stop offset="0.8109" stop-color="#770088"/><stop offset="0.8184" stop-color="#700080"/><stop offset="0.8333" stop-color="#700080"/><stop offset="0.8371" stop-color="#670075"/><stop offset="0.8408" stop-color="#670075"/><stop offset="0.8446" stop-color="#5d006b"/><stop offset="0.8596" stop-color="#5d006b"/><stop offset="0.8633" stop-color="#540060"/><stop offset="0.867" stop-color="#5d006b"/><stop offset="0.8708" stop-color="#5d006b"/><stop offset="0.8783" stop-color="#770088"/><stop offset="0.882" stop-color="#79008a"/><stop offset="0.8858" stop-color="#700080"/><stop offset="0.897" stop-color="#380040"/><stop offset="0.9045" stop-color="#25002b"/><stop offset="0.9082" stop-color="#25002b"/><stop offset="0.912" stop-color="#1c0020"/><stop offset="0.9157" stop-color="#1c0020"/><stop offset="0.9195" stop-color="#130015"/><stop offset="0.927" stop-color="#130015"/><stop offset="0.9307" stop-color="#09000b"/><stop offset="0.9345" stop-color="#09000b"/><stop offset="0.9382" stop-color="#000000"/><stop offset="1" stop-color="#000000"/></linearGradient><linearGradient id="g21"><stop offset="0" stop-color="#0000dd"/><stop offset="0.00367" stop-color="#0000dd"/><stop offset="0.00382" stop-color="#25002b"/><stop offset="0.04307" stop-color="#25002b"/><stop offset="0.04682" stop-color="#1c0020"/><stop offset="0.05056" stop-color="#1c0020"/><stop offset="0.05431" stop-color="#130015"/><stop offset="0.1404" stop-color="#130015"/><stop offset="0.1442" stop-color="#1c0020"/><stop offset="0.1479" stop-color="#1c0020"/><stop offset="0.1554" stop-color="#2f0035"/><stop offset="0.1592" stop-color="#41004b"/><stop offset="0.1647" stop-color="#4b0055"/><stop offset="0.1649" stop-color="#770088"/><stop offset="0.176" stop-color="#820093"/><stop offset="0.1761" stop-color="#0000b1"/><stop offset="0.1779" stop-color="#0000b1"/><stop offset="0.1816" stop-color="#0000c5"/><stop offset="0.1947" stop-color="#0000dd"/><stop offset="0.1948" stop-color="#008add"/><stop offset="0.1966" stop-color="#008add"/><stop offset="0.2004" stop-color="#009fcb"/><stop offset="0.2041" stop-color="#00aaa3"/><stop offset="0.2059" stop-color="#00aaa3"/><stop offset="0.2061" stop-color="#00a13d"/><stop offset="0.2097" stop-color="#00a13d"/><stop offset="0.2098" stop-color="#00aa00"/><stop offset="0.2116" stop-color="#00aa00"/><stop offset="0.2266" stop-color="#00f200"/><stop offset="0.2303" stop-color="#00fc00"/><stop offset="0.2341" stop-color="#2cff00"/><stop offset="0.2359" stop-color="#2cff00"/><stop offset="0.236" stop-color="#67ff00"/><stop offset="0.2378" stop-color="#67ff00"/><stop offset="0.2416" stop-color="#93ff00"/><stop offset="0.2434" stop-color="#93ff00"/><stop offset="0.2435" stop-color="#c0fd00"/><stop offset="0.2678" stop-color="#ecef00"/><stop offset="0.339" stop-color="#ffbd00"/><stop offset="0.3876" stop-color="#ffad00"/><stop offset="0.4476" stop-color="#ffb900"/><stop offset="0.5225" stop-color="#f8da00"/><stop offset="0.5524" stop-color="#e4f100"/><stop offset="0.5749" stop-color="#c0fd00"/><stop offset="0.5787" stop-color="#bcff00"/><stop offset="0.5824" stop-color="#a1ff00"/><stop offset="0.6011" stop-color="#58ff00"/><stop offset="0.6124" stop-color="#00ff00"/><stop offset="0.6685" stop-color="#00b400"/><stop offset="0.6948" stop-color="#009a00"/><stop offset="0.6985" stop-color="#009b13"/><stop offset="0.7022" stop-color="#00a13d"/><stop offset="0.704" stop-color="#00a13d"/><stop offset="0.7042" stop-color="#00a773"/><stop offset="0.7097" stop-color="#00a773"/><stop offset="0.7135" stop-color="#00a97d"/><stop offset="0.7172" stop-color="#00a97d"/><stop offset="0.721" stop-color="#00aa88"/><stop offset="0.7452" stop-color="#00aa93"/><stop offset="0.7454" stop-color="#00ac00"/><stop offset="0.749" stop-color="#00ac00"/><stop offset="0.7491" stop-color="#00aa95"/><stop offset="0.7809" stop-color="#00aaa0"/><stop offset="0.7864" stop-color="#00aaab"/><stop offset="0.7866" stop-color="#00ac00"/><stop offset="0.7902" stop-color="#00ac00"/><stop offset="0.7903" stop-color="#0098dd"/><stop offset="0.8014" stop-color="#0092dd"/><stop offset="0.8016" stop-color="#00ac00"/><stop offset="0.8052" stop-color="#00ac00"/><stop offset="0.8053" stop-color="#0090dd"/><stop offset="0.8184" stop-color="#0085dd"/><stop offset="0.8221" stop-color="#0078dd"/><stop offset="0.8258" stop-color="#0054dd"/><stop offset="0.8333" stop-color="#0041dd"/><stop offset="0.8408" stop-color="#0025dd"/><stop offset="0.8483" stop-color="#0013dd"/><stop offset="0.8521" stop-color="#0000dd"/><stop offset="0.8951" stop-color="#0000b1"/><stop offset="0.8952" stop-color="#6d009c"/><stop offset="0.897" stop-color="#6d009c"/><stop offset="0.9007" stop-color="#870098"/><stop offset="0.9307" stop-color="#7b008c"/><stop offset="0.9345" stop-color="#770088"/><stop offset="0.9419" stop-color="#41004b"/><stop offset="0.9532" stop-color="#09000b"/><stop offset="0.9569" stop-color="#000000"/><stop offset="1" stop-color="#000000"/></linearGradient><linearGradient id="g22"><stop offset="0" stop-color="#0000dd"/><stop offset="0.00367" stop-color="#0000dd"/><stop offset="0.00382" stop-color="#25002b"/><stop offset="0.04307" stop-color="#25002b"/><stop offset="0.04682" stop-color="#1c0020"/><stop offset="0.05056" stop-color="#1c0020"/><stop offset="0.05431" stop-color="#130015"/><stop offset="0.1404" stop-color="#130015"/><stop offset="0.1442" stop-color="#1c0020"/><stop offset="0.1479" stop-color="#1c0020"/><stop offset="0.1554" stop-color="#2f0035"/><stop offset="0.1592" stop-color="#41004b"/><stop offset="0.1647" stop-color="#4b0055"/><stop offset="0.1649" stop-color="#770088"/><stop offset="0.176" stop-color="#820093"/><stop offset="0.1761" stop-color="#0000b1"/><stop offset="0.1779" stop-color="#0000b1"/><stop offset="0.1816" stop-color="#0000c5"/><stop offset="0.1947" stop-color="#0000dd"/><stop offset="0.1948" stop-color="#008add"/><stop offset="0.1966" stop-color="#008add"/><stop offset="0.2004" stop-color="#009fcb"/><stop offset="0.2041" stop-color="#00aaa3"/><stop offset="0.2059" stop-color="#00aaa3"/><stop offset="0.2061" stop-color="#00a13d"/><stop offset="0.2097" stop-color="#00a13d"/><stop offset="0.2098" stop-color="#00aa00"/><stop offset="0.2116" stop-color="#00aa00"/><stop offset="0.2266" stop-color="#00f200"/><stop offset="0.2303" stop-color="#00fc00"/><stop offset="0.2341" stop-color="#2cff00"/><stop offset="0.2359" stop-color="#2cff00"/><stop offset="0.236" stop-color="#67ff00"/><stop offset="0.2378" stop-color="#67ff00"/><stop offset="0.2416" stop-color="#93ff00"/><stop offset="0.2434" stop-color="#93ff00"/><stop offset="0.2435" stop-color="#c0fd00"/><stop offset="0.2678" stop-color="#ecef00"/><stop offset="0.339" stop-color="#ffbd00"/><stop offset="0.3876" stop-color="#ffad00"/><stop offset="0.4101" stop-color="#ffb100"/><stop offset="0.4139" stop-color="#ff9900"/><stop offset="0.4176" stop-color="#ffb100"/><stop offset="0.5225" stop-color="#f8da00"/><stop offset="0.5524" stop-color="#e4f100"/><stop offset="0.5749" stop-color="#c0fd00"/><stop offset="0.5787" stop-color="#bcff00"/><stop offset="0.5824" stop-color="#a1ff00"/><stop offset="0.6011" stop-color="#58ff00"/><stop offset="0.6124" stop-color="#00ff00"/><stop offset="0.6685" stop-color="#00b400"/><stop offset="0.6948" stop-color="#009a00"/><stop offset="0.6985" stop-color="#009b13"/><stop offset="0.7022" stop-color="#00a13d"/><stop offset="0.704" stop-color="#00a13d"/><stop offset="0.7042" stop-color="#00a773"/><stop offset="0.7097" stop-color="#00a773"/><stop offset="0.7135" stop-color="#00a97d"/><stop offset="0.7172" stop-color="#00a97d"/><stop offset="0.721" stop-color="#00aa88"/><stop offset="0.7452" stop-color="#00aa93"/><stop offset="0.7454" stop-color="#00ac00"/><stop offset="0.749" stop-color="#00ac00"/><stop offset="0.7491" stop-color="#00aa95"/><stop offset="0.7809" stop-color="#00aaa0"/><stop offset="0.7864" stop-color="#00aaab"/><stop offset="0.7866" stop-color="#00ac00"/><stop offset="0.7902" stop-color="#00ac00"/><stop offset="0.7903" stop-color="#0098dd"/><stop offset="0.8014" stop-color="#0092dd"/><stop offset="0.8016" stop-color="#00ac00"/><stop offset="0.8052" stop-color="#00ac00"/><stop offset="0.8053" stop-color="#0090dd"/><stop offset="0.8184" stop-color="#0085dd"/><stop offset="0.8221" stop-color="#0078dd"/><stop offset="0.8258" stop-color="#0054dd"/><stop offset="0.8333" stop-color="#0041dd"/><stop offset="0.8408" stop-color="#0025dd"/><stop offset="0.8483" stop-color="#0013dd"/><stop offset="0.8521" stop-color="#0000dd"/><stop offset="0.8951" stop-color="#0000b1"/><stop offset="0.8952" stop-color="#6d009c"/><stop offset="0.897" stop-color="#6d009c"/><stop offset="0.9007" stop-color="#870098"/><stop offset="0.9307" stop-color="#7b008c"/><stop offset="0.9345" stop-color="#770088"/><stop offset="0.9419" stop-color="#41004b"/><stop offset="0.9532" stop-color="#09000b"/><stop offset="0.9569" stop-color="#000000"/><stop offset="1" stop-color="#000000"/></linearGradient><linearGradient id="g23"><stop offset="0" stop-color="#0000dd"/><stop offset="0.00367" stop-color="#0000dd"/><stop offset="0.00382" stop-color="#2f0035"/><stop offset="0.05056" stop-color="#2f0035"/><stop offset="0.05805" stop-color="#1c0020"/><stop offset="0.1442" stop-color="#1c0020"/><stop offset="0.1479" stop-color="#25002b"/><stop offset="0.1517" stop-color="#25002b"/><stop offset="0.1592" stop-color="#4b0055"/><stop offset="0.1629" stop-color="#670075"/><stop offset="0.1667" stop-color="#7a008b"/><stop offset="0.176" stop-color="#850096"/><stop offset="0.1761" stop-color="#0000b5"/><stop offset="0.1779" stop-color="#0000b5"/><stop offset="0.1854" stop-color="#0000cd"/><stop offset="0.1947" stop-color="#0000dd"/><stop offset="0.1948" stop-color="#008add"/><stop offset="0.1966" stop-color="#008add"/><stop offset="0.2004" stop-color="#00a4bb"/><stop offset="0.2022" stop-color="#00a4bb"/><stop offset="0.2023" stop-color="#00aa8d"/><stop offset="0.2059" stop-color="#00aa8d"/><stop offset="0.2061" stop-color="#009f00"/><stop offset="0.2079" stop-color="#009f00"/><stop offset="0.2191" stop-color="#00ea00"/><stop offset="0.2228" stop-color="#00fc00"/><stop offset="0.2246" stop-color="#00fc00"/><stop offset="0.2248" stop-color="#49ff00"/><stop offset="0.2284" stop-color="#49ff00"/><stop offset="0.2285" stop-color="#84ff00"/><stop offset="0.2321" stop-color="#84ff00"/><stop offset="0.2323" stop-color="#bcff00"/><stop offset="0.2453" stop-color="#d8f500"/><stop offset="0.2715" stop-color="#f4e200"/><stop offset="0.3015" stop-color="#ffc100"/><stop offset="0.3165" stop-color="#ffb100"/><stop offset="0.3539" stop-color="#ffa500"/><stop offset="0.4176" stop-color="#ffa500"/><stop offset="0.4775" stop-color="#ffc900"/><stop offset="0.5449" stop-color="#fcd200"/><stop offset="0.5899" stop-color="#ecef00"/><stop offset="0.6011" stop-color="#d4f700"/><stop offset="0.6086" stop-color="#b0ff00"/><stop offset="0.6124" stop-color="#84ff00"/><stop offset="0.6142" stop-color="#84ff00"/><stop offset="0.6143" stop-color="#49ff00"/><stop offset="0.6161" stop-color="#49ff00"/><stop offset="0.6199" stop-color="#1dff00"/><stop offset="0.6236" stop-color="#00fc00"/><stop offset="0.6873" stop-color="#00ba00"/><stop offset="0.7097" stop-color="#009c00"/><stop offset="0.7172" stop-color="#009e28"/><stop offset="0.721" stop-color="#00a248"/><stop offset="0.7285" stop-color="#00a773"/><stop offset="0.7322" stop-color="#00a773"/><stop offset="0.736" stop-color="#00a97d"/><stop offset="0.7397" stop-color="#00a97d"/><stop offset="0.7452" stop-color="#00aa88"/><stop offset="0.7454" stop-color="#00bc00"/><stop offset="0.749" stop-color="#00bc00"/><stop offset="0.7491" stop-color="#00aa8b"/><stop offset="0.7864" stop-color="#00aa9d"/><stop offset="0.7866" stop-color="#00bc00"/><stop offset="0.7902" stop-color="#00bc00"/><stop offset="0.7903" stop-color="#00aaa8"/><stop offset="0.7921" stop-color="#00aaa8"/><stop offset="0.7959" stop-color="#00a3bf"/><stop offset="0.7977" stop-color="#00a3bf"/><stop offset="0.7978" stop-color="#00bc00"/><stop offset="0.8014" stop-color="#00bc00"/><stop offset="0.8016" stop-color="#009ecf"/><stop offset="0.8184" stop-color="#0095dd"/><stop offset="0.8446" stop-color="#0080dd"/><stop offset="0.8483" stop-color="#0070dd"/><stop offset="0.8501" stop-color="#0070dd"/><stop offset="0.8503" stop-color="#0038dd"/><stop offset="0.8521" stop-color="#0038dd"/><stop offset="0.8558" stop-color="#001cdd"/><stop offset="0.8576" stop-color="#001cdd"/><stop offset="0.8578" stop-color="#e4f100"/><stop offset="0.8613" stop-color="#e4f100"/><stop offset="0.8615" stop-color="#0009dd"/><stop offset="0.8708" stop-color="#0000d9"/><stop offset="0.897" stop-color="#0000c1"/><stop offset="0.9007" stop-color="#0000b1"/><stop offset="0.9025" stop-color="#0000b1"/><stop offset="0.9027" stop-color="#2d00a4"/><stop offset="0.9063" stop-color="#2d00a4"/><stop offset="0.9064" stop-color="#6d009c"/><stop offset="0.9082" stop-color="#6d009c"/><stop offset="0.912" stop-color="#860097"/><stop offset="0.927" stop-color="#770088"/><stop offset="0.9345" stop-color="#380040"/><stop offset="0.9382" stop-color="#25002b"/><stop offset="0.9532" stop-color="#000000"/><stop offset="1" stop-color="#000000"/></linearGradient><linearGradient id="g24"><stop offset="0" stop-color="#810092"/><stop offset="0.00367" stop-color="#810092"/><stop offset="0.00382" stop-color="#2f0035"/><stop offset="0.05056" stop-color="#2f0035"/><stop offset="0.05805" stop-color="#1c0020"/><stop offset="0.1442" stop-color="#1c0020"/><stop offset="0.1479" stop-color="#25002b"/><stop offset="0.1517" stop-color="#25002b"/><stop offset="0.1592" stop-color="#4b0055"/><stop offset="0.1629" stop-color="#670075"/><stop offset="0.1667" stop-color="#7a008b"/><stop offset="0.176" stop-color="#850096"/><stop offset="0.1761" stop-color="#0000b5"/><stop offset="0.1779" stop-color="#0000b5"/><stop offset="0.1854" stop-color="#0000cd"/><stop offset="0.1947" stop-color="#0000dd"/><stop offset="0.1948" stop-color="#008add"/><stop offset="0.1966" stop-color="#008add"/><stop offset="0.2004" stop-color="#00a4bb"/><stop offset="0.2022" stop-color="#00a4bb"/><stop offset="0.2023" stop-color="#00aa8d"/><stop offset="0.2059" stop-color="#00aa8d"/><stop offset="0.2061" stop-color="#009f00"/><stop offset="0.2079" stop-color="#009f00"/><stop offset="0.2191" stop-color="#00ea00"/><stop offset="0.2228" stop-color="#00fc00"/><stop offset="0.2246" stop-color="#00fc00"/><stop offset="0.2248" stop-color="#49ff00"/><stop offset="0.2284" stop-color="#49ff00"/><stop offset="0.2285" stop-color="#84ff00"/><stop offset="0.2321" stop-color="#84ff00"/><stop offset="0.2323" stop-color="#bcff00"/><stop offset="0.2453" stop-color="#d8f500"/><stop offset="0.2715" stop-color="#f4e200"/><stop offset="0.3015" stop-color="#ffc100"/><stop offset="0.3165" stop-color="#ffb100"/><stop offset="0.3539" stop-color="#ffa500"/><stop offset="0.4176" stop-color="#ffa500"/><stop offset="0.4775" stop-color="#ffc900"/><stop offset="0.5449" stop-color="#fcd200"/><stop offset="0.5899" stop-color="#ecef00"/><stop offset="0.6011" stop-color="#d4f700"/><stop offset="0.6086" stop-color="#b0ff00"/><stop offset="0.6124" stop-color="#84ff00"/><stop offset="0.6142" stop-color="#84ff00"/><stop offset="0.6143" stop-color="#49ff00"/><stop offset="0.6161" stop-color="#49ff00"/><stop offset="0.6199" stop-color="#1dff00"/><stop offset="0.6236" stop-color="#00fc00"/><stop offset="0.6873" stop-color="#00ba00"/><stop offset="0.7097" stop-color="#009c00"/><stop offset="0.7172" stop-color="#009e28"/><stop offset="0.721" stop-color="#00a248"/><stop offset="0.7285" stop-color="#00a773"/><stop offset="0.7322" stop-color="#00a773"/><stop offset="0.736" stop-color="#00a97d"/><stop offset="0.7397" stop-color="#00a97d"/><stop offset="0.7452" stop-color="#00aa88"/><stop offset="0.7454" stop-color="#00bc00"/><stop offset="0.749" stop-color="#00bc00"/><stop offset="0.7491" stop-color="#00aa8b"/><stop offset="0.7864" stop-color="#00aa9d"/><stop offset="0.7866" stop-color="#00bc00"/><stop offset="0.7902" stop-color="#00bc00"/><stop offset="0.7903" stop-color="#00aaa8"/><stop offset="0.7921" stop-color="#00aaa8"/><stop offset="0.7959" stop-color="#00a3bf"/><stop offset="0.7977" stop-color="#00a3bf"/><stop offset="0.7978" stop-color="#00bc00"/><stop offset="0.8014" stop-color="#00bc00"/><stop offset="0.8016" stop-color="#009ecf"/><stop offset="0.8184" stop-color="#0095dd"/><stop offset="0.8446" stop-color="#0080dd"/><stop offset="0.8483" stop-color="#0070dd"/><stop offset="0.8501" stop-color="#0070dd"/><stop offset="0.8503" stop-color="#0038dd"/><stop offset="0.8521" stop-color="#0038dd"/><stop offset="0.8558" stop-color="#001cdd"/><stop offset="0.867" stop-color="#0000dd"/><stop offset="0.897" stop-color="#0000c1"/><stop offset="0.9007" stop-color="#0000b1"/><stop offset="0.9025" stop-color="#0000b1"/><stop offset="0.9027" stop-color="#2d00a4"/><stop offset="0.9063" stop-color="#2d00a4"/><stop offset="0.9064" stop-color="#6d009c"/><stop offset="0.9082" stop-color="#6d009c"/><stop offset="0.912" stop-color="#860097"/><stop offset="0.927" stop-color="#770088"/><stop offset="0.9345" stop-color="#380040"/><stop offset="0.9382" stop-color="#25002b"/><stop offset="0.9532" stop-color="#000000"/><stop offset="1" stop-color="#000000"/></linearGradient><linearGradient id="g25"><stop offset="0" stop-color="#0000dd"/><stop offset="0.00367" stop-color="#0000dd"/><stop offset="0.00382" stop-color="#2f0035"/><stop offset="0.01311" stop-color="#25002b"/><stop offset="0.0206" stop-color="#25002b"/><stop offset="0.02434" stop-color="#1c0020"/><stop offset="0.02809" stop-color="#1c0020"/><stop offset="0.03184" stop-color="#25002b"/><stop offset="0.03558" stop-color="#25002b"/><stop offset="0.03933" stop-color="#2f0035"/><stop offset="0.04307" stop-color="#25002b"/><stop offset="0.05431" stop-color="#25002b"/><stop offset="0.05805" stop-color="#1c0020"/><stop offset="0.103" stop-color="#1c0020"/><stop offset="0.1067" stop-color="#25002b"/><stop offset="0.1217" stop-color="#25002b"/><stop offset="0.1255" stop-color="#1c0020"/><stop offset="0.1367" stop-color="#1c0020"/><stop offset="0.1517" stop-color="#41004b"/><stop offset="0.1554" stop-color="#41004b"/><stop offset="0.1592" stop-color="#4b0055"/><stop offset="0.1629" stop-color="#41004b"/><stop offset="0.1667" stop-color="#41004b"/><stop offset="0.1704" stop-color="#4b0055"/><stop offset="0.1742" stop-color="#4b0055"/><stop offset="0.1816" stop-color="#700080"/><stop offset="0.1891" stop-color="#770088"/><stop offset="0.2228" stop-color="#810092"/><stop offset="0.3352" stop-color="#850096"/><stop offset="0.3539" stop-color="#810092"/><stop offset="0.3614" stop-color="#830094"/><stop offset="0.3839" stop-color="#7f0090"/><stop offset="0.4064" stop-color="#820093"/><stop offset="0.4213" stop-color="#810092"/><stop offset="0.4476" stop-color="#7b008c"/><stop offset="0.4775" stop-color="#850096"/><stop offset="0.5187" stop-color="#810092"/><stop offset="0.5412" stop-color="#770088"/><stop offset="0.5449" stop-color="#700080"/><stop offset="0.5487" stop-color="#5d006b"/><stop offset="0.5562" stop-color="#770088"/><stop offset="0.5637" stop-color="#770088"/><stop offset="0.5674" stop-color="#670075"/><stop offset="0.5712" stop-color="#670075"/><stop offset="0.5749" stop-color="#700080"/><stop offset="0.5861" stop-color="#7b008c"/><stop offset="0.5974" stop-color="#670075"/><stop offset="0.6049" stop-color="#670075"/><stop offset="0.6124" stop-color="#79008a"/><stop offset="0.6199" stop-color="#700080"/><stop offset="0.6236" stop-color="#5d006b"/><stop offset="0.6273" stop-color="#670075"/><stop offset="0.6311" stop-color="#670075"/><stop offset="0.6348" stop-color="#700080"/><stop offset="0.6536" stop-color="#770088"/><stop offset="0.6985" stop-color="#770088"/><stop offset="0.706" stop-color="#670075"/><stop offset="0.7135" stop-color="#670075"/><stop offset="0.7247" stop-color="#4b0055"/><stop offset="0.7322" stop-color="#700080"/><stop offset="0.736" stop-color="#700080"/><stop offset="0.7397" stop-color="#5d006b"/><stop offset="0.7434" stop-color="#540060"/><stop offset="0.7472" stop-color="#670075"/><stop offset="0.7547" stop-color="#79008a"/><stop offset="0.7622" stop-color="#79008a"/><stop offset="0.7659" stop-color="#700080"/><stop offset="0.7697" stop-color="#5d006b"/><stop offset="0.7809" stop-color="#5d006b"/><stop offset="0.7846" stop-color="#670075"/><stop offset="0.7921" stop-color="#670075"/><stop offset="0.7959" stop-color="#700080"/><stop offset="0.7996" stop-color="#700080"/><stop offset="0.8071" stop-color="#5d006b"/><stop offset="0.8109" stop-color="#5d006b"/><stop offset="0.8146" stop-color="#670075"/><stop offset="0.8333" stop-color="#670075"/><stop offset="0.8408" stop-color="#770088"/><stop offset="0.8483" stop-color="#700080"/><stop offset="0.8521" stop-color="#5d006b"/><stop offset="0.8596" stop-color="#5d006b"/><stop offset="0.8633" stop-color="#4b0055"/><stop offset="0.867" stop-color="#41004b"/><stop offset="0.882" stop-color="#41004b"/><stop offset="0.8895" stop-color="#2f0035"/><stop offset="0.897" stop-color="#41004b"/><stop offset="0.9007" stop-color="#41004b"/><stop offset="0.9045" stop-color="#380040"/><stop offset="0.9195" stop-color="#380040"/><stop offset="0.9382" stop-color="#09000b"/><stop offset="0.9457" stop-color="#09000b"/><stop offset="0.9494" stop-color="#000000"/><stop offset="1" stop-color="#000000"/></linearGradient><linearGradient id="g26"><stop offset="0" stop-color="#0000dd"/><stop offset="0.00367" stop-color="#0000dd"/><stop offset="0.00382" stop-color="#2f0035"/><stop offset="0.05056" stop-color="#2f0035"/><stop offset="0.05805" stop-color="#1c0020"/><stop offset="0.1442" stop-color="#1c0020"/><stop offset="0.1517" stop-color="#2f0035"/><stop offset="0.1554" stop-color="#2f0035"/><stop offset="0.1592" stop-color="#380040"/><stop offset="0.1629" stop-color="#380040"/><stop offset="0.1704" stop-color="#4b0055"/><stop offset="0.1742" stop-color="#670075"/><stop offset="0.1779" stop-color="#7a008b"/><stop offset="0.2059" stop-color="#870098"/><stop offset="0.2061" stop-color="#2d00a4"/><stop offset="0.2097" stop-color="#2d00a4"/><stop offset="0.2098" stop-color="#0000c9"/><stop offset="0.2116" stop-color="#0000c9"/><stop offset="0.2154" stop-color="#0000dd"/><stop offset="0.2284" stop-color="#0013dd"/><stop offset="0.2285" stop-color="#0078dd"/><stop offset="0.2303" stop-color="#0078dd"/><stop offset="0.2341" stop-color="#0088dd"/><stop offset="0.2453" stop-color="#009bd7"/><stop offset="0.264" stop-color="#00aaa0"/><stop offset="0.2828" stop-color="#00aa8b"/><stop offset="0.2865" stop-color="#00a97d"/><stop offset="0.2903" stop-color="#00a55d"/><stop offset="0.294" stop-color="#00a248"/><stop offset="0.2978" stop-color="#009e28"/><stop offset="0.3015" stop-color="#009b13"/><stop offset="0.3052" stop-color="#009b13"/><stop offset="0.3127" stop-color="#009a00"/><stop offset="0.4326" stop-color="#00ca00"/><stop offset="0.4513" stop-color="#00d400"/><stop offset="0.4663" stop-color="#00e200"/><stop offset="0.515" stop-color="#00f700"/><stop offset="0.5225" stop-color="#00fc00"/><stop offset="0.5524" stop-color="#00e200"/><stop offset="0.5861" stop-color="#00c400"/><stop offset="0.6049" stop-color="#00a200"/><stop offset="0.6086" stop-color="#009a08"/><stop offset="0.6236" stop-color="#00aa88"/><stop offset="0.6423" stop-color="#00aaa5"/><stop offset="0.691" stop-color="#0098dd"/><stop offset="0.7172" stop-color="#007add"/><stop offset="0.7247" stop-color="#005ddd"/><stop offset="0.7265" stop-color="#005ddd"/><stop offset="0.7267" stop-color="#001cdd"/><stop offset="0.7285" stop-color="#001cdd"/><stop offset="0.7322" stop-color="#0000d9"/><stop offset="0.7415" stop-color="#0000cd"/><stop offset="0.7416" stop-color="#00bc00"/><stop offset="0.7697" stop-color="#00d700"/><stop offset="0.7715" stop-color="#00d700"/><stop offset="0.7716" stop-color="#009f00"/><stop offset="0.7752" stop-color="#009f00"/><stop offset="0.7754" stop-color="#00d700"/><stop offset="0.7827" stop-color="#00d700"/><stop offset="0.7828" stop-color="#00a700"/><stop offset="0.7864" stop-color="#00a700"/><stop offset="0.7866" stop-color="#00d700"/><stop offset="0.7977" stop-color="#00d400"/><stop offset="0.7978" stop-color="#c4fc00"/><stop offset="0.8014" stop-color="#c4fc00"/><stop offset="0.8016" stop-color="#00d200"/><stop offset="0.8239" stop-color="#00ca00"/><stop offset="0.824" stop-color="#00aa95"/><stop offset="0.8276" stop-color="#00aa95"/><stop offset="0.8278" stop-color="#2300a6"/><stop offset="0.8371" stop-color="#2300a6"/><stop offset="0.8408" stop-color="#2d00a4"/><stop offset="0.8521" stop-color="#2d00a4"/><stop offset="0.8576" stop-color="#3800a3"/><stop offset="0.8578" stop-color="#0000bd"/><stop offset="0.8613" stop-color="#0000bd"/><stop offset="0.8615" stop-color="#3800a3"/><stop offset="0.867" stop-color="#4300a2"/><stop offset="0.8708" stop-color="#58009f"/><stop offset="0.8745" stop-color="#63009e"/><stop offset="0.8783" stop-color="#78009b"/><stop offset="0.8858" stop-color="#870098"/><stop offset="0.912" stop-color="#810092"/><stop offset="0.9195" stop-color="#700080"/><stop offset="0.9232" stop-color="#540060"/><stop offset="0.9532" stop-color="#09000b"/><stop offset="0.9569" stop-color="#09000b"/><stop offset="0.9607" stop-color="#000000"/><stop offset="1" stop-color="#000000"/></linearGradient><linearGradient id="g27"><stop offset="0" stop-color="#0000dd"/><stop offset="0.00367" stop-color="#0000dd"/><stop offset="0.00382" stop-color="#2f0035"/><stop offset="0.05056" stop-color="#2f0035"/><stop offset="0.05805" stop-color="#1c0020"/><stop offset="0.1442" stop-color="#1c0020"/><stop offset="0.1517" stop-color="#2f0035"/><stop offset="0.1554" stop-color="#2f0035"/><stop offset="0.1592" stop-color="#380040"/><stop offset="0.1629" stop-color="#380040"/><stop offset="0.1704" stop-color="#4b0055"/><stop offset="0.1742" stop-color="#670075"/><stop offset="0.1779" stop-color="#7a008b"/><stop offset="0.2059" stop-color="#870098"/><stop offset="0.2061" stop-color="#2d00a4"/><stop offset="0.2097" stop-color="#2d00a4"/><stop offset="0.2098" stop-color="#0000c9"/><stop offset="0.2116" stop-color="#0000c9"/><stop offset="0.2154" stop-color="#0000dd"/><stop offset="0.2284" stop-color="#0013dd"/><stop offset="0.2285" stop-color="#0078dd"/><stop offset="0.2303" stop-color="#0078dd"/><stop offset="0.2341" stop-color="#0088dd"/><stop offset="0.2453" stop-color="#009bd7"/><stop offset="0.264" stop-color="#00aaa0"/><stop offset="0.2828" stop-color="#00aa8b"/><stop offset="0.2865" stop-color="#00a97d"/><stop offset="0.2903" stop-color="#00a55d"/><stop offset="0.294" stop-color="#00a248"/><stop offset="0.2978" stop-color="#009e28"/><stop offset="0.3015" stop-color="#009b13"/><stop offset="0.3052" stop-color="#009b13"/><stop offset="0.3127" stop-color="#009a00"/><stop offset="0.4326" stop-color="#00ca00"/><stop offset="0.4513" stop-color="#00d400"/><stop offset="0.4663" stop-color="#00e200"/><stop offset="0.515" stop-color="#00f700"/><stop offset="0.5225" stop-color="#00fc00"/><stop offset="0.5524" stop-color="#00e200"/><stop offset="0.5861" stop-color="#00c400"/><stop offset="0.6049" stop-color="#00a200"/><stop offset="0.6086" stop-color="#009a08"/><stop offset="0.6236" stop-color="#00aa88"/><stop offset="0.6423" stop-color="#00aaa5"/><stop offset="0.691" stop-color="#0098dd"/><stop offset="0.7172" stop-color="#007add"/><stop offset="0.7247" stop-color="#005ddd"/><stop offset="0.7265" stop-color="#005ddd"/><stop offset="0.7267" stop-color="#001cdd"/><stop offset="0.7285" stop-color="#001cdd"/><stop offset="0.7322" stop-color="#0000d9"/><stop offset="0.7415" stop-color="#0000cd"/><stop offset="0.7416" stop-color="#00bc00"/><stop offset="0.7697" stop-color="#00d700"/><stop offset="0.7715" stop-color="#00d700"/><stop offset="0.7716" stop-color="#009f00"/><stop offset="0.7752" stop-color="#009f00"/><stop offset="0.7754" stop-color="#00d700"/><stop offset="0.7827" stop-color="#00d700"/><stop offset="0.7828" stop-color="#00a700"/><stop offset="0.7864" stop-color="#00a700"/><stop offset="0.7866" stop-color="#00d700"/><stop offset="0.7977" stop-color="#00d400"/><stop offset="0.7978" stop-color="#c4fc00"/><stop offset="0.8014" stop-color="#c4fc00"/><stop offset="0.8016" stop-color="#00d200"/><stop offset="0.8239" stop-color="#00ca00"/><stop offset="0.824" stop-color="#00aa95"/><stop offset="0.8276" stop-color="#00aa95"/><stop offset="0.8278" stop-color="#2300a6"/><stop offset="0.8371" stop-color="#2300a6"/><stop offset="0.8408" stop-color="#2d00a4"/><stop offset="0.8521" stop-color="#2d00a4"/><stop offset="0.8576" stop-color="#3800a3"/><stop offset="0.8578" stop-color="#0000bd"/><stop offset="0.8613" stop-color="#0000bd"/><stop offset="0.8615" stop-color="#3800a3"/><stop offset="0.867" stop-color="#4300a2"/><stop offset="0.8708" stop-color="#58009f"/><stop offset="0.8745" stop-color="#63009e"/><stop offset="0.8783" stop-color="#78009b"/><stop offset="0.8858" stop-color="#870098"/><stop offset="0.912" stop-color="#810092"/><stop offset="0.9195" stop-color="#700080"/><stop offset="0.9232" stop-color="#540060"/><stop offset="0.9532" stop-color="#09000b"/><stop offset="0.9569" stop-color="#09000b"/><stop offset="0.9607" stop-color="#000000"/><stop offset="1" stop-color="#000000"/></linearGradient><linearGradient id="g28"><stop offset="0" stop-color="#810092"/><stop offset="0.00367" stop-color="#810092"/><stop offset="0.00382" stop-color="#2f0035"/><stop offset="0.05056" stop-color="#2f0035"/><stop offset="0.05805" stop-color="#1c0020"/><stop offset="0.1442" stop-color="#1c0020"/><stop offset="0.1517" stop-color="#2f0035"/><stop offset="0.1554" stop-color="#2f0035"/><stop offset="0.1592" stop-color="#380040"/><stop offset="0.1629" stop-color="#380040"/><stop offset="0.1704" stop-color="#4b0055"/><stop offset="0.1742" stop-color="#670075"/><stop offset="0.1779" stop-color="#7a008b"/><stop offset="0.2059" stop-color="#870098"/><stop offset="0.2061" stop-color="#2d00a4"/><stop offset="0.2097" stop-color="#2d00a4"/><stop offset="0.2098" stop-color="#0000c9"/><stop offset="0.2116" stop-color="#0000c9"/><stop offset="0.2154" stop-color="#0000dd"/><stop offset="0.2284" stop-color="#0013dd"/><stop offset="0.2285" stop-color="#0078dd"/><stop offset="0.2303" stop-color="#0078dd"/><stop offset="0.2341" stop-color="#0088dd"/><stop offset="0.2453" stop-color="#009bd7"/><stop offset="0.264" stop-color="#00aaa0"/><stop offset="0.2828" stop-color="#00aa8b"/><stop offset="0.2865" stop-color="#00a97d"/><stop offset="0.2903" stop-color="#00a55d"/><stop offset="0.294" stop-color="#00a248"/><stop offset="0.2978" stop-color="#009e28"/><stop offset="0.3015" stop-color="#009b13"/><stop offset="0.3052" stop-color="#009b13"/><stop offset="0.3127" stop-color="#009a00"/><stop offset="0.4326" stop-color="#00ca00"/><stop offset="0.4513" stop-color="#00d400"/><stop offset="0.4663" stop-color="#00e200"/><stop offset="0.515" stop-color="#00f700"/><stop offset="0.5225" stop-color="#00fc00"/><stop offset="0.5524" stop-color="#00e200"/><stop offset="0.5861" stop-color="#00c400"/><stop offset="0.6049" stop-color="#00a200"/><stop offset="0.6086" stop-color="#009a08"/><stop offset="0.6236" stop-color="#00aa88"/><stop offset="0.6423" stop-color="#00aaa5"/><stop offset="0.691" stop-color="#0098dd"/><stop offset="0.7172" stop-color="#007add"/><stop offset="0.7247" stop-color="#005ddd"/><stop offset="0.7265" stop-color="#005ddd"/><stop offset="0.7267" stop-color="#001cdd"/><stop offset="0.7285" stop-color="#001cdd"/><stop offset="0.7322" stop-color="#0000d9"/><stop offset="0.7415" stop-color="#0000cd"/><stop offset="0.7416" stop-color="#00bc00"/><stop offset="0.7697" stop-color="#00d700"/><stop offset="0.7715" stop-color="#00d700"/><stop offset="0.7716" stop-color="#009f00"/><stop offset="0.7752" stop-color="#009f00"/><stop offset="0.7754" stop-color="#00d700"/><stop offset="0.7827" stop-color="#00d700"/><stop offset="0.7828" stop-color="#00a700"/><stop offset="0.7864" stop-color="#00a700"/><stop offset="0.7866" stop-color="#00d700"/><stop offset="0.7977" stop-color="#00d400"/><stop offset="0.7978" stop-color="#c4fc00"/><stop offset="0.8014" stop-color="#c4fc00"/><stop offset="0.8016" stop-color="#00d200"/><stop offset="0.8239" stop-color="#00ca00"/><stop offset="0.824" stop-color="#00aa95"/><stop offset="0.8276" stop-color="#00aa95"/><stop offset="0.8278" stop-color="#2300a6"/><stop offset="0.8371" stop-color="#2300a6"/><stop offset="0.8408" stop-color="#2d00a4"/><stop offset="0.8521" stop-color="#2d00a4"/><stop offset="0.8576" stop-color="#3800a3"/><stop offset="0.8578" stop-color="#0000bd"/><stop offset="0.8613" stop-color="#0000bd"/><stop offset="0.8615" stop-color="#3800a3"/><stop offset="0.867" stop-color="#4300a2"/><stop offset="0.8708" stop-color="#58009f"/><stop offset="0.8745" stop-color="#63009e"/><stop offset="0.8783" stop-color="#78009b"/><stop offset="0.8858" stop-color="#870098"/><stop offset="0.912" stop-color="#810092"/><stop offset="0.9195" stop-color="#700080"/><stop offset="0.9232" stop-color="#540060"/><stop offset="0.9532" stop-color="#09000b"/><stop offset="0.9569" stop-color="#09000b"/><stop offset="0.9607" stop-color="#000000"/><stop offset="1" stop-color="#000000"/></linearGradient><linearGradient id="g29"><stop offset="0" stop-color="#0000dd"/><stop offset="0.00367" stop-color="#0000dd"/><stop offset="0.00382" stop-color="#2f0035"/><stop offset="0.05056" stop-color="#2f0035"/><stop offset="0.05805" stop-color="#1c0020"/><stop offset="0.1442" stop-color="#1c0020"/><stop offset="0.1517" stop-color="#2f0035"/><stop offset="0.1554" stop-color="#2f0035"/><stop offset="0.1592" stop-color="#380040"/><stop offset="0.1629" stop-color="#380040"/><stop offset="0.1704" stop-color="#4b0055"/><stop offset="0.1742" stop-color="#670075"/><stop offset="0.1779" stop-color="#7a008b"/><stop offset="0.2059" stop-color="#870098"/><stop offset="0.2061" stop-color="#2d00a4"/><stop offset="0.2097" stop-color="#2d00a4"/><stop offset="0.2098" stop-color="#0000c9"/><stop offset="0.2116" stop-color="#0000c9"/><stop offset="0.2154" stop-color="#0000dd"/><stop offset="0.2284" stop-color="#0013dd"/><stop offset="0.2285" stop-color="#0078dd"/><stop offset="0.2303" stop-color="#0078dd"/><stop offset="0.2341" stop-color="#0088dd"/><stop offset="0.2453" stop-color="#009bd7"/><stop offset="0.264" stop-color="#00aaa0"/><stop offset="0.2828" stop-color="#00aa8b"/><stop offset="0.2865" stop-color="#00a97d"/><stop offset="0.2903" stop-color="#00a55d"/><stop offset="0.294" stop-color="#00a248"/><stop offset="0.2978" stop-color="#009e28"/><stop offset="0.3015" stop-color="#009b13"/><stop offset="0.3052" stop-color="#009b13"/><stop offset="0.3127" stop-color="#009a00"/><stop offset="0.4326" stop-color="#00ca00"/><stop offset="0.4513" stop-color="#00d400"/><stop offset="0.4663" stop-color="#00e200"/><stop offset="0.515" stop-color="#00f700"/><stop offset="0.5225" stop-color="#00fc00"/><stop offset="0.5524" stop-color="#00e200"/><stop offset="0.5861" stop-color="#00c400"/><stop offset="0.6049" stop-color="#00a200"/><stop offset="0.6086" stop-color="#009a08"/><stop offset="0.6236" stop-color="#00aa88"/><stop offset="0.6423" stop-color="#00aaa5"/><stop offset="0.691" stop-color="#0098dd"/><stop offset="0.7172" stop-color="#007add"/><stop offset="0.7247" stop-color="#005ddd"/><stop offset="0.7265" stop-color="#005ddd"/><stop offset="0.7267" stop-color="#001cdd"/><stop offset="0.7285" stop-color="#001cdd"/><stop offset="0.7322" stop-color="#0000d9"/><stop offset="0.7415" stop-color="#0000cd"/><stop offset="0.7416" stop-color="#00bc00"/><stop offset="0.7697" stop-color="#00d700"/><stop offset="0.7715" stop-color="#00d700"/><stop offset="0.7716" stop-color="#009f00"/><stop offset="0.7752" stop-color="#009f00"/><stop offset="0.7754" stop-color="#00d700"/><stop offset="0.7827" stop-color="#00d700"/><stop offset="0.7828" stop-color="#00a700"/><stop offset="0.7864" stop-color="#00a700"/><stop offset="0.7866" stop-color="#00d700"/><stop offset="0.7977" stop-color="#00d400"/><stop offset="0.7978" stop-color="#c4fc00"/><stop offset="0.8014" stop-color="#c4fc00"/><stop offset="0.8016" stop-color="#00d200"/><stop offset="0.8239" stop-color="#00ca00"/><stop offset="0.824" stop-color="#00aa95"/><stop offset="0.8276" stop-color="#00aa95"/><stop offset="0.8278" stop-color="#2300a6"/><stop offset="0.8371" stop-color="#2300a6"/><stop offset="0.8408" stop-color="#2d00a4"/><stop offset="0.8521" stop-color="#2d00a4"/><stop offset="0.8576" stop-color="#3800a3"/><stop offset="0.8578" stop-color="#0000bd"/><stop offset="0.8613" stop-color="#0000bd"/><stop offset="0.8615" stop-color="#3800a3"/><stop offset="0.867" stop-color="#4300a2"/><stop offset="0.8708" stop-color="#58009f"/><stop offset="0.8745" stop-color="#63009e"/><stop offset="0.8783" stop-color="#78009b"/><stop offset="0.8858" stop-color="#870098"/><stop offset="0.912" stop-color="#810092"/><stop offset="0.9195" stop-color="#700080"/><stop offset="0.9232" stop-color="#540060"/><stop offset="0.9532" stop-color="#09000b"/><stop offset="0.9569" stop-color="#09000b"/><stop offset="0.9607" stop-color="#000000"/><stop offset="1" stop-color="#000000"/></linearGradient><linearGradient id="g30"><stop offset="0" stop-color="#0000dd"/><stop offset="0.00367" stop-color="#0000dd"/><stop offset="0.00382" stop-color="#2f0035"/><stop offset="0.05056" stop-color="#2f0035"/><stop offset="0.05805" stop-color="#1c0020"/><stop offset="0.1442" stop-color="#1c0020"/><stop offset="0.1517" stop-color="#2f0035"/><stop offset="0.1554" stop-color="#2f0035"/><stop offset="0.1592" stop-color="#380040"/><stop offset="0.1629" stop-color="#380040"/><stop offset="0.1704" stop-color="#4b0055"/><stop offset="0.1742" stop-color="#670075"/><stop offset="0.1779" stop-color="#7a008b"/><stop offset="0.2059" stop-color="#870098"/><stop offset="0.2061" stop-color="#2d00a4"/><stop offset="0.2097" stop-color="#2d00a4"/><stop offset="0.2098" stop-color="#0000c9"/><stop offset="0.2116" stop-color="#0000c9"/><stop offset="0.2154" stop-color="#0000dd"/><stop offset="0.2284" stop-color="#0013dd"/><stop offset="0.2285" stop-color="#0078dd"/><stop offset="0.2303" stop-color="#0078dd"/><stop offset="0.2341" stop-color="#0088dd"/><stop offset="0.2453" stop-color="#009bd7"/><stop offset="0.264" stop-color="#00aaa0"/><stop offset="0.2828" stop-color="#00aa8b"/><stop offset="0.2865" stop-color="#00a97d"/><stop offset="0.2903" stop-color="#00a55d"/><stop offset="0.294" stop-color="#00a248"/><stop offset="0.2978" stop-color="#009e28"/><stop offset="0.3015" stop-color="#009b13"/><stop offset="0.3052" stop-color="#009b13"/><stop offset="0.3127" stop-color="#009a00"/><stop offset="0.4326" stop-color="#00ca00"/><stop offset="0.4513" stop-color="#00d400"/><stop offset="0.4663" stop-color="#00e200"/><stop offset="0.515" stop-color="#00f700"/><stop offset="0.5225" stop-color="#00fc00"/><stop offset="0.5524" stop-color="#00e200"/><stop offset="0.5861" stop-color="#00c400"/><stop offset="0.6049" stop-color="#00a200"/><stop offset="0.6086" stop-color="#009a08"/><stop offset="0.6236" stop-color="#00aa88"/><stop offset="0.6423" stop-color="#00aaa5"/><stop offset="0.691" stop-color="#0098dd"/><stop offset="0.7172" stop-color="#007add"/><stop offset="0.7247" stop-color="#005ddd"/><stop offset="0.7265" stop-color="#005ddd"/><stop offset="0.7267" stop-color="#001cdd"/><stop offset="0.7285" stop-color="#001cdd"/><stop offset="0.7322" stop-color="#0000d9"/><stop offset="0.7415" stop-color="#0000cd"/><stop offset="0.7416" stop-color="#00bc00"/><stop offset="0.7697" stop-color="#00d700"/><stop offset="0.7715" stop-color="#00d700"/><stop offset="0.7716" stop-color="#009f00"/><stop offset="0.7752" stop-color="#009f00"/><stop offset="0.7754" stop-color="#00d700"/><stop offset="0.7827" stop-color="#00d700"/><stop offset="0.7828" stop-color="#00a700"/><stop offset="0.7864" stop-color="#00a700"/><stop offset="0.7866" stop-color="#00d700"/><stop offset="0.7977" stop-color="#00d400"/><stop offset="0.7978" stop-color="#c4fc00"/><stop offset="0.8014" stop-color="#c4fc00"/><stop offset="0.8016" stop-color="#00d200"/><stop offset="0.8239" stop-color="#00ca00"/><stop offset="0.824" stop-color="#00aa95"/><stop offset="0.8276" stop-color="#00aa95"/><stop offset="0.8278" stop-color="#2300a6"/><stop offset="0.8371" stop-color="#2300a6"/><stop offset="0.8408" stop-color="#2d00a4"/><stop offset="0.8521" stop-color="#2d00a4"/><stop offset="0.8576" stop-color="#3800a3"/><stop offset="0.8578" stop-color="#0000bd"/><stop offset="0.8613" stop-color="#0000bd"/><stop offset="0.8615" stop-color="#3800a3"/><stop offset="0.867" stop-color="#4300a2"/><stop offset="0.8708" stop-color="#58009f"/><stop offset="0.8745" stop-color="#63009e"/><stop offset="0.8783" stop-color="#78009b"/><stop offset="0.8858" stop-color="#870098"/><stop offset="0.912" stop-color="#810092"/><stop offset="0.9195" stop-color="#700080"/><stop offset="0.9232" stop-color="#540060"/><stop offset="0.9532" stop-color="#09000b"/><stop offset="0.9569" stop-color="#09000b"/><stop offset="0.9607" stop-color="#000000"/><stop offset="1" stop-color="#000000"/></linearGradient><linearGradient id="g31"><stop offset="0" stop-color="#0000dd"/><stop offset="0.00367" stop-color="#0000dd"/><stop offset="0.00382" stop-color="#2f0035"/><stop offset="0.05056" stop-color="#2f0035"/><stop offset="0.05805" stop-color="#1c0020"/><stop offset="0.1442" stop-color="#1c0020"/><stop offset="0.1517" stop-color="#2f0035"/><stop offset="0.1554" stop-color="#2f0035"/><stop offset="0.1592" stop-color="#380040"/><stop offset="0.1629" stop-color="#380040"/><stop offset="0.1704" stop-color="#4b0055"/><stop offset="0.1742" stop-color="#670075"/><stop offset="0.1779" stop-color="#7a008b"/><stop offset="0.2059" stop-color="#870098"/><stop offset="0.2061" stop-color="#2d00a4"/><stop offset="0.2097" stop-color="#2d00a4"/><stop offset="0.2098" stop-color="#0000c9"/><stop offset="0.2116" stop-color="#0000c9"/><stop offset="0.2154" stop-color="#0000dd"/><stop offset="0.2284" stop-color="#0013dd"/><stop offset="0.2285" stop-color="#0078dd"/><stop offset="0.2303" stop-color="#0078dd"/><stop offset="0.2341" stop-color="#0088dd"/><stop offset="0.2453" stop-color="#009bd7"/><stop offset="0.264" stop-color="#00aaa0"/><stop offset="0.2828" stop-color="#00aa8b"/><stop offset="0.2865" stop-color="#00a97d"/><stop offset="0.2903" stop-color="#00a55d"/><stop offset="0.294" stop-color="#00a248"/><stop offset="0.2978" stop-color="#009e28"/><stop offset="0.3015" stop-color="#009b13"/><stop offset="0.3052" stop-color="#009b13"/><stop offset="0.3127" stop-color="#009a00"/><stop offset="0.4326" stop-color="#00ca00"/><stop offset="0.4513" stop-color="#00d400"/><stop offset="0.4663" stop-color="#00e200"/><stop offset="0.515" stop-color="#00f700"/><stop offset="0.5225" stop-color="#00fc00"/><stop offset="0.5524" stop-color="#00e200"/><stop offset="0.5861" stop-color="#00c400"/><stop offset="0.6049" stop-color="#00a200"/><stop offset="0.6086" stop-color="#009a08"/><stop offset="0.6236" stop-color="#00aa88"/><stop offset="0.6423" stop-color="#00aaa5"/><stop offset="0.691" stop-color="#0098dd"/><stop offset="0.7172" stop-color="#007add"/><stop offset="0.7247" stop-color="#005ddd"/><stop offset="0.7265" stop-color="#005ddd"/><stop offset="0.7267" stop-color="#001cdd"/><stop offset="0.7285" stop-color="#001cdd"/><stop offset="0.7322" stop-color="#0000d9"/><stop offset="0.7415" stop-color="#0000cd"/><stop offset="0.7416" stop-color="#00bc00"/><stop offset="0.7697" stop-color="#00d700"/><stop offset="0.7715" stop-color="#00d700"/><stop offset="0.7716" stop-color="#009f00"/><stop offset="0.7752" stop-color="#009f00"/><stop offset="0.7754" stop-color="#00d700"/><stop offset="0.7827" stop-color="#00d700"/><stop offset="0.7828" stop-color="#00a700"/><stop offset="0.7864" stop-color="#00a700"/><stop offset="0.7866" stop-color="#00d700"/><stop offset="0.7977" stop-color="#00d400"/><stop offset="0.7978" stop-color="#c4fc00"/><stop offset="0.8014" stop-color="#c4fc00"/><stop offset="0.8016" stop-color="#00d200"/><stop offset="0.8239" stop-color="#00ca00"/><stop offset="0.824" stop-color="#00aa95"/><stop offset="0.8276" stop-color="#00aa95"/><stop offset="0.8278" stop-color="#2300a6"/><stop offset="0.8371" stop-color="#2300a6"/><stop offset="0.8408" stop-color="#2d00a4"/><stop offset="0.8521" stop-color="#2d00a4"/><stop offset="0.8576" stop-color="#3800a3"/><stop offset="0.8578" stop-color="#0000bd"/><stop offset="0.8613" stop-color="#0000bd"/><stop offset="0.8615" stop-color="#3800a3"/><stop offset="0.867" stop-color="#4300a2"/><stop offset="0.8708" stop-color="#58009f"/><stop offset="0.8745" stop-color="#63009e"/><stop offset="0.8783" stop-color="#78009b"/><stop offset="0.8858" stop-color="#870098"/><stop offset="0.912" stop-color="#810092"/><stop offset="0.9195" stop-color="#700080"/><stop offset="0.9232" stop-color="#540060"/><stop offset="0.9532" stop-color="#09000b"/><stop offset="0.9569" stop-color="#09000b"/><stop offset="0.9607" stop-color="#000000"/><stop offset="1" stop-color="#000000"/></linearGradient><linearGradient id="g32"><stop offset="0" stop-color="#0000dd"/><stop offset="0.00367" stop-color="#0000dd"/><stop offset="0.00382" stop-color="#2f0035"/><stop offset="0.05056" stop-color="#2f0035"/><stop offset="0.05805" stop-color="#1c0020"/><stop offset="0.1442" stop-color="#1c0020"/><stop offset="0.1517" stop-color="#2f0035"/><stop offset="0.1554" stop-color="#2f0035"/><stop offset="0.1592" stop-color="#380040"/><stop offset="0.1629" stop-color="#380040"/><stop offset="0.1704" stop-color="#4b0055"/><stop offset="0.1742" stop-color="#670075"/><stop offset="0.1779" stop-color="#7a008b"/><stop offset="0.2059" stop-color="#870098"/><stop offset="0.2061" stop-color="#2d00a4"/><stop offset="0.2097" stop-color="#2d00a4"/><stop offset="0.2098" stop-color="#0000c9"/><stop offset="0.2116" stop-color="#0000c9"/><stop offset="0.2154" stop-color="#0000dd"/><stop offset="0.2284" stop-color="#0013dd"/><stop offset="0.2285" stop-color="#0078dd"/><stop offset="0.2303" stop-color="#0078dd"/><stop offset="0.2341" stop-color="#0088dd"/><stop offset="0.2453" stop-color="#009bd7"/><stop offset="0.264" stop-color="#00aaa0"/><stop offset="0.2828" stop-color="#00aa8b"/><stop offset="0.2865" stop-color="#00a97d"/><stop offset="0.2903" stop-color="#00a55d"/><stop offset="0.294" stop-color="#00a248"/><stop offset="0.2978" stop-color="#009e28"/><stop offset="0.3015" stop-color="#009b13"/><stop offset="0.3052" stop-color="#009b13"/><stop offset="0.3127" stop-color="#009a00"/><stop offset="0.4326" stop-color="#00ca00"/><stop offset="0.4513" stop-color="#00d400"/><stop offset="0.4663" stop-color="#00e200"/><stop offset="0.515" stop-color="#00f700"/><stop offset="0.5225" stop-color="#00fc00"/><stop offset="0.5524" stop-color="#00e200"/><stop offset="0.5861" stop-color="#00c400"/><stop offset="0.6049" stop-color="#00a200"/><stop offset="0.6086" stop-color="#009a08"/><stop offset="0.6236" stop-color="#00aa88"/><stop offset="0.6423" stop-color="#00aaa5"/><stop offset="0.691" stop-color="#0098dd"/><stop offset="0.7172" stop-color="#007add"/><stop offset="0.7247" stop-color="#005ddd"/><stop offset="0.7265" stop-color="#005ddd"/><stop offset="0.7267" stop-color="#001cdd"/><stop offset="0.7285" stop-color="#001cdd"/><stop offset="0.7322" stop-color="#0000d9"/><stop offset="0.7415" stop-color="#0000cd"/><stop offset="0.7416" stop-color="#00bc00"/><stop offset="0.7697" stop-color="#00d700"/><stop offset="0.7715" stop-color="#00d700"/><stop offset="0.7716" stop-color="#009f00"/><stop offset="0.7752" stop-color="#009f00"/><stop offset="0.7754" stop-color="#00d700"/><stop offset="0.7827" stop-color="#00d700"/><stop offset="0.7828" stop-color="#00a700"/><stop offset="0.7864" stop-color="#00a700"/><stop offset="0.7866" stop-color="#00d700"/><stop offset="0.7977" stop-color="#00d400"/><stop offset="0.7978" stop-color="#c4fc00"/><stop offset="0.8014" stop-color="#c4fc00"/><stop offset="0.8016" stop-color="#00d200"/><stop offset="0.8239" stop-color="#00ca00"/><stop offset="0.824" stop-color="#00aa95"/><stop offset="0.8276" stop-color="#00aa95"/><stop offset="0.8278" stop-color="#2300a6"/><stop offset="0.8371" stop-color="#2300a6"/><stop offset="0.8408" stop-color="#2d00a4"/><stop offset="0.8521" stop-color="#2d00a4"/><stop offset="0.8576" stop-color="#3800a3"/><stop offset="0.8578" stop-color="#0000bd"/><stop offset="0.8613" stop-color="#0000bd"/><stop offset="0.8615" stop-color="#3800a3"/><stop offset="0.867" stop-color="#4300a2"/><stop offset="0.8708" stop-color="#58009f"/><stop offset="0.8745" stop-color="#63009e"/><stop offset="0.8783" stop-color="#78009b"/><stop offset="0.8858" stop-color="#870098"/><stop offset="0.912" stop-color="#810092"/><stop offset="0.9195" stop-color="#700080"/><stop offset="0.9232" stop-color="#540060"/><stop offset="0.9532" stop-color="#09000b"/><stop offset="0.9569" stop-color="#09000b"/><stop offset="0.9607" stop-color="#000000"/><stop offset="1" stop-color="#000000"/></linearGradient><linearGradient id="g33"><stop offset="0" stop-color="#0000dd"/><stop offset="0.00367" stop-color="#0000dd"/><stop offset="0.00382" stop-color="#2f0035"/><stop offset="0.05056" stop-color="#2f0035"/><stop offset="0.05805" stop-color="#1c0020"/><stop offset="0.1442" stop-color="#1c0020"/><stop offset="0.1517" stop-color="#2f0035"/><stop offset="0.1554" stop-color="#2f0035"/><stop offset="0.1592" stop-color="#380040"/><stop offset="0.1629" stop-color="#380040"/><stop offset="0.1704" stop-color="#4b0055"/><stop offset="0.1742" stop-color="#670075"/><stop offset="0.1779" stop-color="#7a008b"/><stop offset="0.2059" stop-color="#870098"/><stop offset="0.2061" stop-color="#2d00a4"/><stop offset="0.2097" stop-color="#2d00a4"/><stop offset="0.2098" stop-color="#0000c9"/><stop offset="0.2116" stop-color="#0000c9"/><stop offset="0.2154" stop-color="#0000dd"/><stop offset="0.2284" stop-color="#0013dd"/><stop offset="0.2285" stop-color="#0078dd"/><stop offset="0.2303" stop-color="#0078dd"/><stop offset="0.2341" stop-color="#0088dd"/><stop offset="0.2453" stop-color="#009bd7"/><stop offset="0.264" stop-color="#00aaa0"/><stop offset="0.2828" stop-color="#00aa8b"/><stop offset="0.2865" stop-color="#00a97d"/><stop offset="0.2903" stop-color="#00a55d"/><stop offset="0.294" stop-color="#00a248"/><stop offset="0.2978" stop-color="#009e28"/><stop offset="0.3015" stop-color="#009b13"/><stop offset="0.3052" stop-color="#009b13"/><stop offset="0.3127" stop-color="#009a00"/><stop offset="0.4326" stop-color="#00ca00"/><stop offset="0.4513" stop-color="#00d400"/><stop offset="0.4663" stop-color="#00e200"/><stop offset="0.515" stop-color="#00f700"/><stop offset="0.5225" stop-color="#00fc00"/><stop offset="0.5524" stop-color="#00e200"/><stop offset="0.5861" stop-color="#00c400"/><stop offset="0.6049" stop-color="#00a200"/><stop offset="0.6086" stop-color="#009a08"/><stop offset="0.6236" stop-color="#00aa88"/><stop offset="0.6423" stop-color="#00aaa5"/><stop offset="0.691" stop-color="#0098dd"/><stop offset="0.7172" stop-color="#007add"/><stop offset="0.7247" stop-color="#005ddd"/><stop offset="0.7265" stop-color="#005ddd"/><stop offset="0.7267" stop-color="#001cdd"/><stop offset="0.7285" stop-color="#001cdd"/><stop offset="0.7322" stop-color="#0000d9"/><stop offset="0.7415" stop-color="#0000cd"/><stop offset="0.7416" stop-color="#00bc00"/><stop offset="0.7697" stop-color="#00d700"/><stop offset="0.7715" stop-color="#00d700"/><stop offset="0.7716" stop-color="#009f00"/><stop offset="0.7752" stop-color="#009f00"/><stop offset="0.7754" stop-color="#00d700"/><stop offset="0.7827" stop-color="#00d700"/><stop offset="0.7828" stop-color="#00a700"/><stop offset="0.7864" stop-color="#00a700"/><stop offset="0.7866" stop-color="#00d700"/><stop offset="0.7977" stop-color="#00d400"/><stop offset="0.7978" stop-color="#c4fc00"/><stop offset="0.8014" stop-color="#c4fc00"/><stop offset="0.8016" stop-color="#00d200"/><stop offset="0.8239" stop-color="#00ca00"/><stop offset="0.824" stop-color="#00aa95"/><stop offset="0.8276" stop-color="#00aa95"/><stop offset="0.8278" stop-color="#2300a6"/><stop offset="0.8371" stop-color="#2300a6"/><stop offset="0.8408" stop-color="#2d00a4"/><stop offset="0.8521" stop-color="#2d00a4"/><stop offset="0.8576" stop-color="#3800a3"/><stop offset="0.8578" stop-color="#0000bd"/><stop offset="0.8613" stop-color="#0000bd"/><stop offset="0.8615" stop-color="#3800a3"/><stop offset="0.867" stop-color="#4300a2"/><stop offset="0.8708" stop-color="#58009f"/><stop offset="0.8745" stop-color="#63009e"/><stop offset="0.8783" stop-color="#78009b"/><stop offset="0.8858" stop-color="#870098"/><stop offset="0.912" stop-color="#810092"/><stop offset="0.9195" stop-color="#700080"/><stop offset="0.9232" stop-color="#540060"/><stop offset="0.9532" stop-color="#09000b"/><stop offset="0.9569" stop-color="#09000b"/><stop offset="0.9607" stop-color="#000000"/><stop offset="1" stop-color="#000000"/></linearGradient><linearGradient id="g34"><stop offset="0" stop-color="#0000dd"/><stop offset="0.00367" stop-color="#0000dd"/><stop offset="0.00382" stop-color="#2f0035"/><stop offset="0.05056" stop-color="#2f0035"/><stop offset="0.05805" stop-color="#1c0020"/><stop offset="0.1442" stop-color="#1c0020"/><stop offset="0.1517" stop-color="#2f0035"/><stop offset="0.1554" stop-color="#2f0035"/><stop offset="0.1592" stop-color="#380040"/><stop offset="0.1629" stop-color="#380040"/><stop offset="0.1704" stop-color="#4b0055"/><stop offset="0.1742" stop-color="#670075"/><stop offset="0.1779" stop-color="#7a008b"/><stop offset="0.2059" stop-color="#870098"/><stop offset="0.2061" stop-color="#2d00a4"/><stop offset="0.2097" stop-color="#2d00a4"/><stop offset="0.2098" stop-color="#0000c9"/><stop offset="0.2116" stop-color="#0000c9"/><stop offset="0.2154" stop-color="#0000dd"/><stop offset="0.2284" stop-color="#0013dd"/><stop offset="0.2285" stop-color="#0078dd"/><stop offset="0.2303" stop-color="#0078dd"/><stop offset="0.2341" stop-color="#0088dd"/><stop offset="0.2453" stop-color="#009bd7"/><stop offset="0.264" stop-color="#00aaa0"/><stop offset="0.2828" stop-color="#00aa8b"/><stop offset="0.2865" stop-color="#00a97d"/><stop offset="0.2903" stop-color="#00a55d"/><stop offset="0.294" stop-color="#00a248"/><stop offset="0.2978" stop-color="#009e28"/><stop offset="0.3015" stop-color="#009b13"/><stop offset="0.3052" stop-color="#009b13"/><stop offset="0.309" stop-color="#009f00"/><stop offset="0.3277" stop-color="#00b200"/><stop offset="0.4456" stop-color="#00cc00"/><stop offset="0.4458" stop-color="#c4fc00"/><stop offset="0.4494" stop-color="#c4fc00"/><stop offset="0.4495" stop-color="#00d400"/><stop offset="0.4738" stop-color="#00e400"/><stop offset="0.515" stop-color="#00f700"/><stop offset="0.5225" stop-color="#00fc00"/><stop offset="0.5524" stop-color="#00e200"/><stop offset="0.5861" stop-color="#00c400"/><stop offset="0.6049" stop-color="#00a200"/><stop offset="0.6086" stop-color="#009a08"/><stop offset="0.6236" stop-color="#00aa88"/><stop offset="0.6423" stop-color="#00aaa5"/><stop offset="0.691" stop-color="#0098dd"/><stop offset="0.7172" stop-color="#007add"/><stop offset="0.7247" stop-color="#005ddd"/><stop offset="0.7265" stop-color="#005ddd"/><stop offset="0.7267" stop-color="#001cdd"/><stop offset="0.7285" stop-color="#001cdd"/><stop offset="0.7322" stop-color="#0000d9"/><stop offset="0.7415" stop-color="#0000cd"/><stop offset="0.7416" stop-color="#00bc00"/><stop offset="0.7697" stop-color="#00d700"/><stop offset="0.7715" stop-color="#00d700"/><stop offset="0.7716" stop-color="#009f00"/><stop offset="0.7752" stop-color="#009f00"/><stop offset="0.7754" stop-color="#00d700"/><stop offset="0.7827" stop-color="#00d700"/><stop offset="0.7828" stop-color="#00a700"/><stop offset="0.7864" stop-color="#00a700"/><stop offset="0.7866" stop-color="#00d700"/><stop offset="0.7977" stop-color="#00d400"/><stop offset="0.7978" stop-color="#c4fc00"/><stop offset="0.8014" stop-color="#c4fc00"/><stop offset="0.8016" stop-color="#00d200"/><stop offset="0.8239" stop-color="#00ca00"/><stop offset="0.824" stop-color="#00aa95"/><stop offset="0.8276" stop-color="#00aa95"/><stop offset="0.8278" stop-color="#2300a6"/><stop offset="0.8371" stop-color="#2300a6"/><stop offset="0.8408" stop-color="#2d00a4"/><stop offset="0.8521" stop-color="#2d00a4"/><stop offset="0.8576" stop-color="#3800a3"/><stop offset="0.8578" stop-color="#0000bd"/><stop offset="0.8613" stop-color="#0000bd"/><stop offset="0.8615" stop-color="#3800a3"/><stop offset="0.867" stop-color="#4300a2"/><stop offset="0.8708" stop-color="#58009f"/><stop offset="0.8745" stop-color="#63009e"/><stop offset="0.8783" stop-color="#78009b"/><stop offset="0.8858" stop-color="#870098"/><stop offset="0.912" stop-color="#810092"/><stop offset="0.9195" stop-color="#700080"/><stop offset="0.9232" stop-color="#540060"/><stop offset="0.9532" stop-color="#09000b"/><stop offset="0.9569" stop-color="#09000b"/><stop offset="0.9607" stop-color="#000000"/><stop offset="1" stop-color="#000000"/></linearGradient><linearGradient id="g35"><stop offset="0" stop-color="#0000dd"/><stop offset="0.00367" stop-color="#0000dd"/><stop offset="0.00382" stop-color="#2f0035"/><stop offset="0.05056" stop-color="#2f0035"/><stop offset="0.05805" stop-color="#1c0020"/><stop offset="0.1442" stop-color="#1c0020"/><stop offset="0.1517" stop-color="#2f0035"/><stop offset="0.1554" stop-color="#2f0035"/><stop offset="0.1592" stop-color="#380040"/><stop offset="0.1629" stop-color="#380040"/><stop offset="0.1704" stop-color="#4b0055"/><stop offset="0.1742" stop-color="#670075"/><stop offset="0.1779" stop-color="#7a008b"/><stop offset="0.2059" stop-color="#870098"/><stop offset="0.2061" stop-color="#2d00a4"/><stop offset="0.2097" stop-color="#2d00a4"/><stop offset="0.2098" stop-color="#0000c9"/><stop offset="0.2116" stop-color="#0000c9"/><stop offset="0.2154" stop-color="#0000dd"/><stop offset="0.2284" stop-color="#0013dd"/><stop offset="0.2285" stop-color="#0078dd"/><stop offset="0.2303" stop-color="#0078dd"/><stop offset="0.2341" stop-color="#0088dd"/><stop offset="0.2453" stop-color="#009bd7"/><stop offset="0.264" stop-color="#00aaa0"/><stop offset="0.2828" stop-color="#00aa8b"/><stop offset="0.2865" stop-color="#00a97d"/><stop offset="0.2903" stop-color="#00a55d"/><stop offset="0.294" stop-color="#00a248"/><stop offset="0.2978" stop-color="#009e28"/><stop offset="0.3015" stop-color="#009b13"/><stop offset="0.3052" stop-color="#009b13"/><stop offset="0.309" stop-color="#009f00"/><stop offset="0.3277" stop-color="#00b200"/><stop offset="0.4476" stop-color="#00cf00"/><stop offset="0.4663" stop-color="#00e200"/><stop offset="0.515" stop-color="#00f700"/><stop offset="0.5225" stop-color="#00fc00"/><stop offset="0.5524" stop-color="#00e200"/><stop offset="0.5861" stop-color="#00c400"/><stop offset="0.6049" stop-color="#00a200"/><stop offset="0.6086" stop-color="#009a08"/><stop offset="0.6236" stop-color="#00aa88"/><stop offset="0.6423" stop-color="#00aaa5"/><stop offset="0.691" stop-color="#0098dd"/><stop offset="0.7172" stop-color="#007add"/><stop offset="0.7247" stop-color="#005ddd"/><stop offset="0.7265" stop-color="#005ddd"/><stop offset="0.7267" stop-color="#001cdd"/><stop offset="0.7285" stop-color="#001cdd"/><stop offset="0.7322" stop-color="#0000d9"/><stop offset="0.7415" stop-color="#0000cd"/><stop offset="0.7416" stop-color="#00bc00"/><stop offset="0.7697" stop-color="#00d700"/><stop offset="0.7715" stop-color="#00d700"/><stop offset="0.7716" stop-color="#009f00"/><stop offset="0.7752" stop-color="#009f00"/><stop offset="0.7754" stop-color="#00d700"/><stop offset="0.7827" stop-color="#00d700"/><stop offset="0.7828" stop-color="#00a700"/><stop offset="0.7864" stop-color="#00a700"/><stop offset="0.7866" stop-color="#00d700"/><stop offset="0.7977" stop-color="#00d400"/><stop offset="0.7978" stop-color="#c4fc00"/><stop offset="0.8014" stop-color="#c4fc00"/><stop offset="0.8016" stop-color="#00d200"/><stop offset="0.8239" stop-color="#00ca00"/><stop offset="0.824" stop-color="#00aa95"/><stop offset="0.8276" stop-color="#00aa95"/><stop offset="0.8278" stop-color="#2300a6"/><stop offset="0.8371" stop-color="#2300a6"/><stop offset="0.8408" stop-color="#2d00a4"/><stop offset="0.8521" stop-color="#2d00a4"/><stop offset="0.8576" stop-color="#3800a3"/><stop offset="0.8578" stop-color="#0000bd"/><stop offset="0.8613" stop-color="#0000bd"/><stop offset="0.8615" stop-color="#3800a3"/><stop offset="0.867" stop-color="#4300a2"/><stop offset="0.8708" stop-color="#58009f"/><stop offset="0.8745" stop-color="#63009e"/><stop offset="0.8783" stop-color="#78009b"/><stop offset="0.8858" stop-color="#870098"/><stop offset="0.912" stop-color="#810092"/><stop offset="0.9195" stop-color="#700080"/><stop offset="0.9232" stop-color="#540060"/><stop offset="0.9532" stop-color="#09000b"/><stop offset="0.9569" stop-color="#09000b"/><stop offset="0.9607" stop-color="#000000"/><stop offset="1" stop-color="#000000"/></linearGradient><linearGradient id="g36"><stop offset="0" stop-color="#0000dd"/><stop offset="0.00367" stop-color="#0000dd"/><stop offset="0.00382" stop-color="#2f0035"/><stop offset="0.05056" stop-color="#2f0035"/><stop offset="0.05805" stop-color="#1c0020"/><stop offset="0.1442" stop-color="#1c0020"/><stop offset="0.1517" stop-color="#2f0035"/><stop offset="0.1554" stop-color="#2f0035"/><stop offset="0.1592" stop-color="#380040"/><stop offset="0.1629" stop-color="#380040"/><stop offset="0.1704" stop-color="#4b0055"/><stop offset="0.1742" stop-color="#670075"/><stop offset="0.1779" stop-color="#7a008b"/><stop offset="0.2059" stop-color="#870098"/><stop offset="0.2061" stop-color="#2d00a4"/><stop offset="0.2097" stop-color="#2d00a4"/><stop offset="0.2098" stop-color="#0000c9"/><stop offset="0.2116" stop-color="#0000c9"/><stop offset="0.2154" stop-color="#0000dd"/><stop offset="0.2284" stop-color="#0013dd"/><stop offset="0.2285" stop-color="#0078dd"/><stop offset="0.2303" stop-color="#0078dd"/><stop offset="0.2341" stop-color="#0088dd"/><stop offset="0.2453" stop-color="#009bd7"/><stop offset="0.264" stop-color="#00aaa0"/><stop offset="0.2828" stop-color="#00aa8b"/><stop offset="0.2865" stop-color="#00a97d"/><stop offset="0.2903" stop-color="#00a55d"/><stop offset="0.294" stop-color="#00a248"/><stop offset="0.2978" stop-color="#009e28"/><stop offset="0.3015" stop-color="#009b13"/><stop offset="0.3052" stop-color="#009b13"/><stop offset="0.309" stop-color="#009f00"/><stop offset="0.3277" stop-color="#00b200"/><stop offset="0.4476" stop-color="#00cf00"/><stop offset="0.4663" stop-color="#00e200"/><stop offset="0.515" stop-color="#00f700"/><stop offset="0.5225" stop-color="#00fc00"/><stop offset="0.5524" stop-color="#00e200"/><stop offset="0.5861" stop-color="#00c400"/><stop offset="0.6049" stop-color="#00a200"/><stop offset="0.6086" stop-color="#009a08"/><stop offset="0.6236" stop-color="#00aa88"/><stop offset="0.6423" stop-color="#00aaa5"/><stop offset="0.691" stop-color="#0098dd"/><stop offset="0.7172" stop-color="#007add"/><stop offset="0.7247" stop-color="#005ddd"/><stop offset="0.7265" stop-color="#005ddd"/><stop offset="0.7267" stop-color="#001cdd"/><stop offset="0.7285" stop-color="#001cdd"/><stop offset="0.7322" stop-color="#0000d9"/><stop offset="0.7415" stop-color="#0000cd"/><stop offset="0.7416" stop-color="#00bc00"/><stop offset="0.7697" stop-color="#00d700"/><stop offset="0.7715" stop-color="#00d700"/><stop offset="0.7716" stop-color="#009f00"/><stop offset="0.7752" stop-color="#009f00"/><stop offset="0.7754" stop-color="#00d700"/><stop offset="0.7827" stop-color="#00d700"/><stop offset="0.7828" stop-color="#00a700"/><stop offset="0.7864" stop-color="#00a700"/><stop offset="0.7866" stop-color="#00d700"/><stop offset="0.7977" stop-color="#00d400"/><stop offset="0.7978" stop-color="#c4fc00"/><stop offset="0.8014" stop-color="#c4fc00"/><stop offset="0.8016" stop-color="#00d200"/><stop offset="0.8239" stop-color="#00ca00"/><stop offset="0.824" stop-color="#00aa95"/><stop offset="0.8276" stop-color="#00aa95"/><stop offset="0.8278" stop-color="#2300a6"/><stop offset="0.8371" stop-color="#2300a6"/><stop offset="0.8408" stop-color="#2d00a4"/><stop offset="0.8521" stop-color="#2d00a4"/><stop offset="0.8576" stop-color="#3800a3"/><stop offset="0.8578" stop-color="#0000bd"/><stop offset="0.8613" stop-color="#0000bd"/><stop offset="0.8615" stop-color="#3800a3"/><stop offset="0.867" stop-color="#4300a2"/><stop offset="0.8708" stop-color="#58009f"/><stop offset="0.8745" stop-color="#63009e"/><stop offset="0.8783" stop-color="#78009b"/><stop offset="0.8858" stop-color="#870098"/><stop offset="0.912" stop-color="#810092"/><stop offset="0.9195" stop-color="#700080"/><stop offset="0.9232" stop-color="#540060"/><stop offset="0.9532" stop-color="#09000b"/><stop offset="0.9569" stop-color="#09000b"/><stop offset="0.9607" stop-color="#000000"/><stop offset="1" stop-color="#000000"/></linearGradient><linearGradient id="g37"><stop offset="0" stop-color="#0000dd"/><stop offset="0.00367" stop-color="#0000dd"/><stop offset="0.00382" stop-color="#2f0035"/><stop offset="0.05056" stop-color="#2f0035"/><stop offset="0.05805" stop-color="#1c0020"/><stop offset="0.1442" stop-color="#1c0020"/><stop offset="0.1517" stop-color="#2f0035"/><stop offset="0.1554" stop-color="#2f0035"/><stop offset="0.1592" stop-color="#380040"/><stop offset="0.1629" stop-color="#380040"/><stop offset="0.1704" stop-color="#4b0055"/><stop offset="0.1742" stop-color="#670075"/><stop offset="0.1779" stop-color="#7a008b"/><stop offset="0.2059" stop-color="#870098"/><stop offset="0.2061" stop-color="#2d00a4"/><stop offset="0.2097" stop-color="#2d00a4"/><stop offset="0.2098" stop-color="#0000c9"/><stop offset="0.2116" stop-color="#0000c9"/><stop offset="0.2154" stop-color="#0000dd"/><stop offset="0.2284" stop-color="#0013dd"/><stop offset="0.2285" stop-color="#0078dd"/><stop offset="0.2303" stop-color="#0078dd"/><stop offset="0.2341" stop-color="#0088dd"/><stop offset="0.2453" stop-color="#009bd7"/><stop offset="0.264" stop-color="#00aaa0"/><stop offset="0.2828" stop-color="#00aa8b"/><stop offset="0.2865" stop-color="#00a97d"/><stop offset="0.2903" stop-color="#00a55d"/><stop offset="0.294" stop-color="#00a248"/><stop offset="0.2978" stop-color="#009e28"/><stop offset="0.3015" stop-color="#009b13"/><stop offset="0.3052" stop-color="#009b13"/><stop offset="0.309" stop-color="#009f00"/><stop offset="0.3277" stop-color="#00b200"/><stop offset="0.4476" stop-color="#00cf00"/><stop offset="0.4663" stop-color="#00e200"/><stop offset="0.515" stop-color="#00f700"/><stop offset="0.5225" stop-color="#00fc00"/><stop offset="0.5524" stop-color="#00e200"/><stop offset="0.5861" stop-color="#00c400"/><stop offset="0.6049" stop-color="#00a200"/><stop offset="0.6086" stop-color="#009a08"/><stop offset="0.6236" stop-color="#00aa88"/><stop offset="0.6423" stop-color="#00aaa5"/><stop offset="0.691" stop-color="#0098dd"/><stop offset="0.7172" stop-color="#007add"/><stop offset="0.7247" stop-color="#005ddd"/><stop offset="0.7265" stop-color="#005ddd"/><stop offset="0.7267" stop-color="#001cdd"/><stop offset="0.7285" stop-color="#001cdd"/><stop offset="0.7322" stop-color="#0000d9"/><stop offset="0.7415" stop-color="#0000cd"/><stop offset="0.7416" stop-color="#00bc00"/><stop offset="0.7697" stop-color="#00d700"/><stop offset="0.7715" stop-color="#00d700"/><stop offset="0.7716" stop-color="#009f00"/><stop offset="0.7752" stop-color="#009f00"/><stop offset="0.7754" stop-color="#00d700"/><stop offset="0.7827" stop-color="#00d700"/><stop offset="0.7828" stop-color="#00a700"/><stop offset="0.7864" stop-color="#00a700"/><stop offset="0.7866" stop-color="#00d700"/><stop offset="0.7977" stop-color="#00d400"/><stop offset="0.7978" stop-color="#c4fc00"/><stop offset="0.8014" stop-color="#c4fc00"/><stop offset="0.8016" stop-color="#00d200"/><stop offset="0.8239" stop-color="#00ca00"/><stop offset="0.824" stop-color="#00aa95"/><stop offset="0.8276" stop-color="#00aa95"/><stop offset="0.8278" stop-color="#2300a6"/><stop offset="0.8371" stop-color="#2300a6"/><stop offset="0.8408" stop-color="#2d00a4"/><stop offset="0.8521" stop-color="#2d00a4"/><stop offset="0.8576" stop-color="#3800a3"/><stop offset="0.8578" stop-color="#0000bd"/><stop offset="0.8613" stop-color="#0000bd"/><stop offset="0.8615" stop-color="#3800a3"/><stop offset="0.867" stop-color="#4300a2"/><stop offset="0.8708" stop-color="#58009f"/><stop offset="0.8745" stop-color="#63009e"/><stop offset="0.8783" stop-color="#78009b"/><stop offset="0.8858" stop-color="#870098"/><stop offset="0.912" stop-color="#810092"/><stop offset="0.9195" stop-color="#700080"/><stop offset="0.9232" stop-color="#540060"/><stop offset="0.9532" stop-color="#09000b"/><stop offset="0.9569" stop-color="#09000b"/><stop offset="0.9607" stop-color="#000000"/><stop offset="1" stop-color="#000000"/></linearGradient><linearGradient id="g38"><stop offset="0" stop-color="#0000dd"/><stop offset="0.00367" stop-color="#0000dd"/><stop offset="0.00382" stop-color="#2f0035"/><stop offset="0.05056" stop-color="#2f0035"/><stop offset="0.05805" stop-color="#1c0020"/><stop offset="0.1442" stop-color="#1c0020"/><stop offset="0.1517" stop-color="#2f0035"/><stop offset="0.1554" stop-color="#2f0035"/><stop offset="0.1592" stop-color="#380040"/><stop offset="0.1629" stop-color="#380040"/><stop offset="0.1704" stop-color="#4b0055"/><stop offset="0.1742" stop-color="#670075"/><stop offset="0.1779" stop-color="#7a008b"/><stop offset="0.2059" stop-color="#870098"/><stop offset="0.2061" stop-color="#2d00a4"/><stop offset="0.2097" stop-color="#2d00a4"/><stop offset="0.2098" stop-color="#0000c9"/><stop offset="0.2116" stop-color="#0000c9"/><stop offset="0.2154" stop-color="#0000dd"/><stop offset="0.2284" stop-color="#0013dd"/><stop offset="0.2285" stop-color="#0078dd"/><stop offset="0.2303" stop-color="#0078dd"/><stop offset="0.2341" stop-color="#0088dd"/><stop offset="0.2453" stop-color="#009bd7"/><stop offset="0.264" stop-color="#00aaa0"/><stop offset="0.2828" stop-color="#00aa8b"/><stop offset="0.2865" stop-color="#00a97d"/><stop offset="0.2903" stop-color="#00a55d"/><stop offset="0.294" stop-color="#00a248"/><stop offset="0.2978" stop-color="#009e28"/><stop offset="0.3015" stop-color="#009b13"/><stop offset="0.3052" stop-color="#009b13"/><stop offset="0.309" stop-color="#009f00"/><stop offset="0.3277" stop-color="#00b200"/><stop offset="0.4476" stop-color="#00cf00"/><stop offset="0.4663" stop-color="#00e200"/><stop offset="0.515" stop-color="#00f700"/><stop offset="0.5225" stop-color="#00fc00"/><stop offset="0.5524" stop-color="#00e200"/><stop offset="0.5861" stop-color="#00c400"/><stop offset="0.6049" stop-color="#00a200"/><stop offset="0.6086" stop-color="#009a08"/><stop offset="0.6236" stop-color="#00aa88"/><stop offset="0.6423" stop-color="#00aaa5"/><stop offset="0.691" stop-color="#0098dd"/><stop offset="0.7172" stop-color="#007add"/><stop offset="0.7247" stop-color="#005ddd"/><stop offset="0.7265" stop-color="#005ddd"/><stop offset="0.7267" stop-color="#001cdd"/><stop offset="0.7285" stop-color="#001cdd"/><stop offset="0.7322" stop-color="#0000d9"/><stop offset="0.7415" stop-color="#0000cd"/><stop offset="0.7416" stop-color="#00bc00"/><stop offset="0.7697" stop-color="#00d700"/><stop offset="0.7715" stop-color="#00d700"/><stop offset="0.7716" stop-color="#009f00"/><stop offset="0.7752" stop-color="#009f00"/><stop offset="0.7754" stop-color="#00d700"/><stop offset="0.7827" stop-color="#00d700"/><stop offset="0.7828" stop-color="#00a700"/><stop offset="0.7864" stop-color="#00a700"/><stop offset="0.7866" stop-color="#00d700"/><stop offset="0.7977" stop-color="#00d400"/><stop offset="0.7978" stop-color="#c4fc00"/><stop offset="0.8014" stop-color="#c4fc00"/><stop offset="0.8016" stop-color="#00d200"/><stop offset="0.8239" stop-color="#00ca00"/><stop offset="0.824" stop-color="#00aa95"/><stop offset="0.8276" stop-color="#00aa95"/><stop offset="0.8278" stop-color="#2300a6"/><stop offset="0.8371" stop-color="#2300a6"/><stop offset="0.8408" stop-color="#2d00a4"/><stop offset="0.8521" stop-color="#2d00a4"/><stop offset="0.8576" stop-color="#3800a3"/><stop offset="0.8578" stop-color="#0000c9"/><stop offset="0.8613" stop-color="#0000c9"/><stop offset="0.8615" stop-color="#3800a3"/><stop offset="0.867" stop-color="#4300a2"/><stop offset="0.8708" stop-color="#58009f"/><stop offset="0.8745" stop-color="#63009e"/><stop offset="0.8783" stop-color="#78009b"/><stop offset="0.8858" stop-color="#870098"/><stop offset="0.912" stop-color="#810092"/><stop offset="0.9195" stop-color="#700080"/><stop offset="0.9232" stop-color="#540060"/><stop offset="0.9532" stop-color="#09000b"/><stop offset="0.9569" stop-color="#09000b"/><stop offset="0.9607" stop-color="#000000"/><stop offset="1" stop-color="#000000"/></linearGradient><linearGradient id="g39"><stop offset="0" stop-color="#0000dd"/><stop offset="0.00367" stop-color="#0000dd"/><stop offset="0.00382" stop-color="#2f0035"/><stop offset="0.05056" stop-color="#2f0035"/><stop offset="0.05805" stop-color="#1c0020"/><stop offset="0.1442" stop-color="#1c0020"/><stop offset="0.1517" stop-color="#2f0035"/><stop offset="0.1554" stop-color="#2f0035"/><stop offset="0.1592" stop-color="#380040"/><stop offset="0.1629" stop-color="#380040"/><stop offset="0.1704" stop-color="#4b0055"/><stop offset="0.1742" stop-color="#670075"/><stop offset="0.1779" stop-color="#7a008b"/><stop offset="0.2059" stop-color="#870098"/><stop offset="0.2061" stop-color="#2d00a4"/><stop offset="0.2097" stop-color="#2d00a4"/><stop offset="0.2098" stop-color="#0000c9"/><stop offset="0.2116" stop-color="#0000c9"/><stop offset="0.2154" stop-color="#0000dd"/><stop offset="0.2284" stop-color="#0013dd"/><stop offset="0.2285" stop-color="#0078dd"/><stop offset="0.2303" stop-color="#0078dd"/><stop offset="0.2341" stop-color="#0088dd"/><stop offset="0.2453" stop-color="#009bd7"/><stop offset="0.264" stop-color="#00aaa0"/><stop offset="0.2828" stop-color="#00aa8b"/><stop offset="0.2865" stop-color="#00a97d"/><stop offset="0.2903" stop-color="#00a55d"/><stop offset="0.294" stop-color="#00a248"/><stop offset="0.2978" stop-color="#009e28"/><stop offset="0.3015" stop-color="#009b13"/><stop offset="0.3052" stop-color="#009b13"/><stop offset="0.309" stop-color="#009f00"/><stop offset="0.3277" stop-color="#00b200"/><stop offset="0.4476" stop-color="#00cf00"/><stop offset="0.4663" stop-color="#00e200"/><stop offset="0.515" stop-color="#00f700"/><stop offset="0.5225" stop-color="#00fc00"/><stop offset="0.5524" stop-color="#00e200"/><stop offset="0.5861" stop-color="#00c400"/><stop offset="0.6049" stop-color="#00a200"/><stop offset="0.6086" stop-color="#009a08"/><stop offset="0.6236" stop-color="#00aa88"/><stop offset="0.6423" stop-color="#00aaa5"/><stop offset="0.691" stop-color="#0098dd"/><stop offset="0.7172" stop-color="#007add"/><stop offset="0.7247" stop-color="#005ddd"/><stop offset="0.7265" stop-color="#005ddd"/><stop offset="0.7267" stop-color="#001cdd"/><stop offset="0.7285" stop-color="#001cdd"/><stop offset="0.7322" stop-color="#0000d9"/><stop offset="0.7415" stop-color="#0000cd"/><stop offset="0.7416" stop-color="#00bc00"/><stop offset="0.7697" stop-color="#00d700"/><stop offset="0.7715" stop-color="#00d700"/><stop offset="0.7716" stop-color="#009f00"/><stop offset="0.7752" stop-color="#009f00"/><stop offset="0.7754" stop-color="#00d700"/><stop offset="0.7827" stop-color="#00d700"/><stop offset="0.7828" stop-color="#00a700"/><stop offset="0.7864" stop-color="#00a700"/><stop offset="0.7866" stop-color="#00d700"/><stop offset="0.7977" stop-color="#00d400"/><stop offset="0.7978" stop-color="#c4fc00"/><stop offset="0.8014" stop-color="#c4fc00"/><stop offset="0.8016" stop-color="#00d200"/><stop offset="0.8239" stop-color="#00ca00"/><stop offset="0.824" stop-color="#00aa95"/><stop offset="0.8276" stop-color="#00aa95"/><stop offset="0.8278" stop-color="#2300a6"/><stop offset="0.8371" stop-color="#2300a6"/><stop offset="0.8408" stop-color="#2d00a4"/><stop offset="0.8521" stop-color="#2d00a4"/><stop offset="0.8576" stop-color="#3800a3"/><stop offset="0.8578" stop-color="#0000dd"/><stop offset="0.8613" stop-color="#0000dd"/><stop offset="0.8615" stop-color="#3800a3"/><stop offset="0.867" stop-color="#4300a2"/><stop offset="0.8708" stop-color="#58009f"/><stop offset="0.8745" stop-color="#63009e"/><stop offset="0.8783" stop-color="#78009b"/><stop offset="0.8858" stop-color="#870098"/><stop offset="0.912" stop-color="#810092"/><stop offset="0.9195" stop-color="#700080"/><stop offset="0.9232" stop-color="#540060"/><stop offset="0.9532" stop-color="#09000b"/><stop offset="0.9569" stop-color="#09000b"/><stop offset="0.9607" stop-color="#000000"/><stop offset="1" stop-color="#000000"/></linearGradient><linearGradient id="g40"><stop offset="0" stop-color="#810092"/><stop offset="0.00367" stop-color="#810092"/><stop offset="0.00382" stop-color="#2f0035"/><stop offset="0.05056" stop-color="#2f0035"/><stop offset="0.05805" stop-color="#1c0020"/><stop offset="0.1442" stop-color="#1c0020"/><stop offset="0.1517" stop-color="#2f0035"/><stop offset="0.1554" stop-color="#2f0035"/><stop offset="0.1592" stop-color="#380040"/><stop offset="0.1629" stop-color="#380040"/><stop offset="0.1704" stop-color="#4b0055"/><stop offset="0.1742" stop-color="#670075"/><stop offset="0.1779" stop-color="#7a008b"/><stop offset="0.2059" stop-color="#870098"/><stop offset="0.2061" stop-color="#2d00a4"/><stop offset="0.2097" stop-color="#2d00a4"/><stop offset="0.2098" stop-color="#0000c9"/><stop offset="0.2116" stop-color="#0000c9"/><stop offset="0.2154" stop-color="#0000dd"/><stop offset="0.2284" stop-color="#0013dd"/><stop offset="0.2285" stop-color="#0078dd"/><stop offset="0.2303" stop-color="#0078dd"/><stop offset="0.2341" stop-color="#0088dd"/><stop offset="0.2453" stop-color="#009bd7"/><stop offset="0.264" stop-color="#00aaa0"/><stop offset="0.2828" stop-color="#00aa8b"/><stop offset="0.2865" stop-color="#00a97d"/><stop offset="0.2903" stop-color="#00a55d"/><stop offset="0.294" stop-color="#00a248"/><stop offset="0.2978" stop-color="#009e28"/><stop offset="0.3015" stop-color="#009b13"/><stop offset="0.3052" stop-color="#009b13"/><stop offset="0.3127" stop-color="#009a00"/><stop offset="0.4326" stop-color="#00ca00"/><stop offset="0.4513" stop-color="#00d400"/><stop offset="0.4663" stop-color="#00e200"/><stop offset="0.515" stop-color="#00f700"/><stop offset="0.5225" stop-color="#00fc00"/><stop offset="0.5524" stop-color="#00e200"/><stop offset="0.5861" stop-color="#00c400"/><stop offset="0.6049" stop-color="#00a200"/><stop offset="0.6086" stop-color="#009a08"/><stop offset="0.6236" stop-color="#00aa88"/><stop offset="0.6423" stop-color="#00aaa5"/><stop offset="0.691" stop-color="#0098dd"/><stop offset="0.7172" stop-color="#007add"/><stop offset="0.7247" stop-color="#005ddd"/><stop offset="0.7265" stop-color="#005ddd"/><stop offset="0.7267" stop-color="#001cdd"/><stop offset="0.7285" stop-color="#001cdd"/><stop offset="0.7322" stop-color="#0000d9"/><stop offset="0.7415" stop-color="#0000cd"/><stop offset="0.7416" stop-color="#00bc00"/><stop offset="0.7697" stop-color="#00d700"/><stop offset="0.7715" stop-color="#00d700"/><stop offset="0.7716" stop-color="#009f00"/><stop offset="0.7752" stop-color="#009f00"/><stop offset="0.7754" stop-color="#00d700"/><stop offset="0.7827" stop-color="#00d700"/><stop offset="0.7828" stop-color="#00a700"/><stop offset="0.7864" stop-color="#00a700"/><stop offset="0.7866" stop-color="#00d700"/><stop offset="0.7977" stop-color="#00d400"/><stop offset="0.7978" stop-color="#c4fc00"/><stop offset="0.8014" stop-color="#c4fc00"/><stop offset="0.8016" stop-color="#00d200"/><stop offset="0.8239" stop-color="#00ca00"/><stop offset="0.824" stop-color="#00aa95"/><stop offset="0.8276" stop-color="#00aa95"/><stop offset="0.8278" stop-color="#2300a6"/><stop offset="0.8371" stop-color="#2300a6"/><stop offset="0.8408" stop-color="#2d00a4"/><stop offset="0.8521" stop-color="#2d00a4"/><stop offset="0.8576" stop-color="#3800a3"/><stop offset="0.8578" stop-color="#0098dd"/><stop offset="0.8613" stop-color="#0098dd"/><stop offset="0.8615" stop-color="#3800a3"/><stop offset="0.867" stop-color="#4300a2"/><stop offset="0.8708" stop-color="#58009f"/><stop offset="0.8745" stop-color="#63009e"/><stop offset="0.8783" stop-color="#78009b"/><stop offset="0.8858" stop-color="#870098"/><stop offset="0.912" stop-color="#810092"/><stop offset="0.9195" stop-color="#700080"/><stop offset="0.9232" stop-color="#540060"/><stop offset="0.9532" stop-color="#09000b"/><stop offset="0.9569" stop-color="#09000b"/><stop offset="0.9607" stop-color="#000000"/><stop offset="1" stop-color="#000000"/></linearGradient><linearGradient id="g41"><stop offset="0" stop-color="#810092"/><stop offset="0.00367" stop-color="#810092"/><stop offset="0.00382" stop-color="#2f0035"/><stop offset="0.05056" stop-color="#2f0035"/><stop offset="0.05805" stop-color="#1c0020"/><stop offset="0.1442" stop-color="#1c0020"/><stop offset="0.1517" stop-color="#2f0035"/><stop offset="0.1554" stop-color="#2f0035"/><stop offset="0.1592" stop-color="#380040"/><stop offset="0.1629" stop-color="#380040"/><stop offset="0.1704" stop-color="#4b0055"/><stop offset="0.1742" stop-color="#670075"/><stop offset="0.1779" stop-color="#7a008b"/><stop offset="0.2059" stop-color="#870098"/><stop offset="0.2061" stop-color="#2d00a4"/><stop offset="0.2097" stop-color="#2d00a4"/><stop offset="0.2098" stop-color="#0000c9"/><stop offset="0.2116" stop-color="#0000c9"/><stop offset="0.2154" stop-color="#0000dd"/><stop offset="0.2284" stop-color="#0013dd"/><stop offset="0.2285" stop-color="#0078dd"/><stop offset="0.2303" stop-color="#0078dd"/><stop offset="0.2341" stop-color="#0088dd"/><stop offset="0.2453" stop-color="#009bd7"/><stop offset="0.264" stop-color="#00aaa0"/><stop offset="0.2828" stop-color="#00aa8b"/><stop offset="0.2865" stop-color="#00a97d"/><stop offset="0.2903" stop-color="#00a55d"/><stop offset="0.294" stop-color="#00a248"/><stop offset="0.2978" stop-color="#009e28"/><stop offset="0.3015" stop-color="#009b13"/><stop offset="0.3052" stop-color="#009b13"/><stop offset="0.3127" stop-color="#009a00"/><stop offset="0.3745" stop-color="#00b200"/><stop offset="0.3746" stop-color="#49ff00"/><stop offset="0.3782" stop-color="#49ff00"/><stop offset="0.3784" stop-color="#00b700"/><stop offset="0.4476" stop-color="#00cf00"/><stop offset="0.4663" stop-color="#00e200"/><stop offset="0.515" stop-color="#00f700"/><stop offset="0.5225" stop-color="#00fc00"/><stop offset="0.5524" stop-color="#00e200"/><stop offset="0.5861" stop-color="#00c400"/><stop offset="0.6049" stop-color="#00a200"/><stop offset="0.6086" stop-color="#009a08"/><stop offset="0.6236" stop-color="#00aa88"/><stop offset="0.6423" stop-color="#00aaa5"/><stop offset="0.691" stop-color="#0098dd"/><stop offset="0.7172" stop-color="#007add"/><stop offset="0.7247" stop-color="#005ddd"/><stop offset="0.7265" stop-color="#005ddd"/><stop offset="0.7267" stop-color="#001cdd"/><stop offset="0.7285" stop-color="#001cdd"/><stop offset="0.7322" stop-color="#0000d9"/><stop offset="0.7415" stop-color="#0000cd"/><stop offset="0.7416" stop-color="#00bc00"/><stop offset="0.7697" stop-color="#00d700"/><stop offset="0.7715" stop-color="#00d700"/><stop offset="0.7716" stop-color="#009f00"/><stop offset="0.7752" stop-color="#009f00"/><stop offset="0.7754" stop-color="#00d700"/><stop offset="0.7827" stop-color="#00d700"/><stop offset="0.7828" stop-color="#00a700"/><stop offset="0.7864" stop-color="#00a700"/><stop offset="0.7866" stop-color="#00d700"/><stop offset="0.7977" stop-color="#00d400"/><stop offset="0.7978" stop-color="#c4fc00"/><stop offset="0.8014" stop-color="#c4fc00"/><stop offset="0.8016" stop-color="#00d200"/><stop offset="0.8239" stop-color="#00ca00"/><stop offset="0.824" stop-color="#00aa95"/><stop offset="0.8276" stop-color="#00aa95"/><stop offset="0.8278" stop-color="#2300a6"/><stop offset="0.8371" stop-color="#2300a6"/><stop offset="0.8408" stop-color="#2d00a4"/><stop offset="0.8521" stop-color="#2d00a4"/><stop offset="0.8576" stop-color="#3800a3"/><stop offset="0.8578" stop-color="#00bc00"/><stop offset="0.8613" stop-color="#00bc00"/><stop offset="0.8615" stop-color="#3800a3"/><stop offset="0.867" stop-color="#4300a2"/><stop offset="0.8708" stop-color="#58009f"/><stop offset="0.8745" stop-color="#63009e"/><stop offset="0.8783" stop-color="#78009b"/><stop offset="0.8858" stop-color="#870098"/><stop offset="0.912" stop-color="#810092"/><stop offset="0.9195" stop-color="#700080"/><stop offset="0.9232" stop-color="#540060"/><stop offset="0.9532" stop-color="#09000b"/><stop offset="0.9569" stop-color="#09000b"/><stop offset="0.9607" stop-color="#000000"/><stop offset="1" stop-color="#000000"/></linearGradient><linearGradient id="g42"><stop offset="0" stop-color="#810092"/><stop offset="0.00367" stop-color="#810092"/><stop offset="0.00382" stop-color="#2f0035"/><stop offset="0.03184" stop-color="#2f0035"/><stop offset="0.03558" stop-color="#380040"/><stop offset="0.03933" stop-color="#2f0035"/><stop offset="0.05431" stop-color="#2f0035"/><stop offset="0.05805" stop-color="#25002b"/><stop offset="0.07303" stop-color="#25002b"/><stop offset="0.07678" stop-color="#1c0020"/><stop offset="0.09551" stop-color="#1c0020"/><stop offset="0.09925" stop-color="#130015"/><stop offset="0.103" stop-color="#1c0020"/><stop offset="0.1255" stop-color="#1c0020"/><stop offset="0.1292" stop-color="#25002b"/><stop offset="0.133" stop-color="#1c0020"/><stop offset="0.1367" stop-color="#1c0020"/><stop offset="0.1404" stop-color="#25002b"/><stop offset="0.1479" stop-color="#25002b"/><stop offset="0.1554" stop-color="#380040"/><stop offset="0.1854" stop-color="#380040"/><stop offset="0.1891" stop-color="#4b0055"/><stop offset="0.1929" stop-color="#540060"/><stop offset="0.1966" stop-color="#540060"/><stop offset="0.2004" stop-color="#5d006b"/><stop offset="0.2041" stop-color="#540060"/><stop offset="0.2079" stop-color="#540060"/><stop offset="0.2116" stop-color="#4b0055"/><stop offset="0.2228" stop-color="#670075"/><stop offset="0.2341" stop-color="#670075"/><stop offset="0.2378" stop-color="#540060"/><stop offset="0.2416" stop-color="#5d006b"/><stop offset="0.2453" stop-color="#700080"/><stop offset="0.2566" stop-color="#7d008e"/><stop offset="0.2715" stop-color="#7b008c"/><stop offset="0.2903" stop-color="#810092"/><stop offset="0.3352" stop-color="#7e008f"/><stop offset="0.3839" stop-color="#810092"/><stop offset="0.3989" stop-color="#830094"/><stop offset="0.4176" stop-color="#7f0090"/><stop offset="0.4925" stop-color="#830094"/><stop offset="0.5075" stop-color="#860097"/><stop offset="0.5749" stop-color="#7d008e"/><stop offset="0.6011" stop-color="#820093"/><stop offset="0.6273" stop-color="#860097"/><stop offset="0.6386" stop-color="#820093"/><stop offset="0.736" stop-color="#7e008f"/><stop offset="0.7397" stop-color="#79008a"/><stop offset="0.7434" stop-color="#5d006b"/><stop offset="0.7509" stop-color="#5d006b"/><stop offset="0.7584" stop-color="#700080"/><stop offset="0.7772" stop-color="#700080"/><stop offset="0.7809" stop-color="#670075"/><stop offset="0.7846" stop-color="#540060"/><stop offset="0.7884" stop-color="#4b0055"/><stop offset="0.7921" stop-color="#540060"/><stop offset="0.7959" stop-color="#670075"/><stop offset="0.7996" stop-color="#700080"/><stop offset="0.8034" stop-color="#700080"/><stop offset="0.8071" stop-color="#670075"/><stop offset="0.8109" stop-color="#670075"/><stop offset="0.8146" stop-color="#5d006b"/><stop offset="0.8184" stop-color="#5d006b"/><stop offset="0.8258" stop-color="#4b0055"/><stop offset="0.8296" stop-color="#540060"/><stop offset="0.8333" stop-color="#670075"/><stop offset="0.8408" stop-color="#770088"/><stop offset="0.8483" stop-color="#700080"/><stop offset="0.8521" stop-color="#670075"/><stop offset="0.8558" stop-color="#670075"/><stop offset="0.8596" stop-color="#700080"/><stop offset="0.8633" stop-color="#700080"/><stop offset="0.867" stop-color="#670075"/><stop offset="0.8708" stop-color="#540060"/><stop offset="0.8745" stop-color="#540060"/><stop offset="0.8783" stop-color="#5d006b"/><stop offset="0.8858" stop-color="#5d006b"/><stop offset="0.8895" stop-color="#540060"/><stop offset="0.8933" stop-color="#540060"/><stop offset="0.897" stop-color="#4b0055"/><stop offset="0.9007" stop-color="#4b0055"/><stop offset="0.9045" stop-color="#540060"/><stop offset="0.9082" stop-color="#540060"/><stop offset="0.912" stop-color="#41004b"/><stop offset="0.927" stop-color="#1c0020"/><stop offset="0.9307" stop-color="#1c0020"/><stop offset="0.9345" stop-color="#130015"/><stop offset="0.9382" stop-color="#130015"/><stop offset="0.9419" stop-color="#09000b"/><stop offset="0.9457" stop-color="#09000b"/><stop offset="0.9494" stop-color="#000000"/><stop offset="1" stop-color="#000000"/></linearGradient><linearGradient id="g43"><stop offset="0" stop-color="#0000dd"/><stop offset="0.00367" stop-color="#0000dd"/><stop offset="0.00382" stop-color="#25002b"/><stop offset="0.01311" stop-color="#25002b"/><stop offset="0.01685" stop-color="#2f0035"/><stop offset="0.04682" stop-color="#2f0035"/><stop offset="0.05056" stop-color="#1c0020"/><stop offset="0.103" stop-color="#1c0020"/><stop offset="0.1067" stop-color="#130015"/><stop offset="0.1142" stop-color="#130015"/><stop offset="0.118" stop-color="#1c0020"/><stop offset="0.1292" stop-color="#1c0020"/><stop offset="0.133" stop-color="#130015"/><stop offset="0.1404" stop-color="#130015"/><stop offset="0.1442" stop-color="#1c0020"/><stop offset="0.1667" stop-color="#1c0020"/><stop offset="0.1704" stop-color="#25002b"/><stop offset="0.1854" stop-color="#25002b"/><stop offset="0.1891" stop-color="#2f0035"/><stop offset="0.2266" stop-color="#2f0035"/><stop offset="0.2303" stop-color="#380040"/><stop offset="0.2341" stop-color="#2f0035"/><stop offset="0.2378" stop-color="#2f0035"/><stop offset="0.2416" stop-color="#380040"/><stop offset="0.264" stop-color="#380040"/><stop offset="0.2678" stop-color="#41004b"/><stop offset="0.3052" stop-color="#41004b"/><stop offset="0.309" stop-color="#4b0055"/><stop offset="0.339" stop-color="#4b0055"/><stop offset="0.3427" stop-color="#41004b"/><stop offset="0.3539" stop-color="#41004b"/><stop offset="0.3577" stop-color="#380040"/><stop offset="0.3614" stop-color="#41004b"/><stop offset="0.3689" stop-color="#41004b"/><stop offset="0.3764" stop-color="#540060"/><stop offset="0.3801" stop-color="#540060"/><stop offset="0.3839" stop-color="#4b0055"/><stop offset="0.3876" stop-color="#4b0055"/><stop offset="0.3914" stop-color="#41004b"/><stop offset="0.3951" stop-color="#41004b"/><stop offset="0.3989" stop-color="#4b0055"/><stop offset="0.4363" stop-color="#4b0055"/><stop offset="0.4401" stop-color="#41004b"/><stop offset="0.4476" stop-color="#41004b"/><stop offset="0.4513" stop-color="#4b0055"/><stop offset="0.4551" stop-color="#4b0055"/><stop offset="0.4588" stop-color="#540060"/><stop offset="0.4625" stop-color="#4b0055"/><stop offset="0.5" stop-color="#4b0055"/><stop offset="0.5037" stop-color="#540060"/><stop offset="0.5075" stop-color="#4b0055"/><stop offset="0.5187" stop-color="#4b0055"/><stop offset="0.5225" stop-color="#540060"/><stop offset="0.5262" stop-color="#540060"/><stop offset="0.53" stop-color="#4b0055"/><stop offset="0.5712" stop-color="#4b0055"/><stop offset="0.5749" stop-color="#41004b"/><stop offset="0.5824" stop-color="#41004b"/><stop offset="0.5861" stop-color="#4b0055"/><stop offset="0.6161" stop-color="#4b0055"/><stop offset="0.6199" stop-color="#540060"/><stop offset="0.6311" stop-color="#540060"/><stop offset="0.6348" stop-color="#4b0055"/><stop offset="0.6386" stop-color="#4b0055"/><stop offset="0.6423" stop-color="#41004b"/><stop offset="0.6461" stop-color="#4b0055"/><stop offset="0.691" stop-color="#4b0055"/><stop offset="0.6948" stop-color="#41004b"/><stop offset="0.6985" stop-color="#41004b"/><stop offset="0.7022" stop-color="#4b0055"/><stop offset="0.721" stop-color="#4b0055"/><stop offset="0.7247" stop-color="#41004b"/><stop offset="0.7397" stop-color="#41004b"/><stop offset="0.7434" stop-color="#4b0055"/><stop offset="0.7472" stop-color="#41004b"/><stop offset="0.7846" stop-color="#41004b"/><stop offset="0.7884" stop-color="#4b0055"/><stop offset="0.7996" stop-color="#2f0035"/><stop offset="0.8071" stop-color="#41004b"/><stop offset="0.8109" stop-color="#41004b"/><stop offset="0.8146" stop-color="#380040"/><stop offset="0.8371" stop-color="#380040"/><stop offset="0.8408" stop-color="#41004b"/><stop offset="0.8446" stop-color="#41004b"/><stop offset="0.8483" stop-color="#380040"/><stop offset="0.882" stop-color="#380040"/><stop offset="0.8858" stop-color="#2f0035"/><stop offset="0.9082" stop-color="#2f0035"/><stop offset="0.9157" stop-color="#1c0020"/><stop offset="0.9195" stop-color="#1c0020"/><stop offset="0.9232" stop-color="#130015"/><stop offset="0.9307" stop-color="#130015"/><stop offset="0.9345" stop-color="#09000b"/><stop offset="0.9419" stop-color="#09000b"/><stop offset="0.9457" stop-color="#000000"/><stop offset="1" stop-color="#000000"/></linearGradient><linearGradient id="g44"><stop offset="0" stop-color="#810092"/><stop offset="0.00367" stop-color="#810092"/><stop offset="0.00382" stop-color="#2f0035"/><stop offset="0.05056" stop-color="#2f0035"/><stop offset="0.05805" stop-color="#1c0020"/><stop offset="0.1442" stop-color="#1c0020"/><stop offset="0.1479" stop-color="#25002b"/><stop offset="0.1517" stop-color="#25002b"/><stop offset="0.1592" stop-color="#4b0055"/><stop offset="0.1629" stop-color="#670075"/><stop offset="0.1667" stop-color="#7a008b"/><stop offset="0.176" stop-color="#850096"/><stop offset="0.1761" stop-color="#0000b5"/><stop offset="0.1779" stop-color="#0000b5"/><stop offset="0.1854" stop-color="#0000cd"/><stop offset="0.1947" stop-color="#0000dd"/><stop offset="0.1948" stop-color="#008add"/><stop offset="0.1966" stop-color="#008add"/><stop offset="0.2004" stop-color="#00a4bb"/><stop offset="0.2022" stop-color="#00a4bb"/><stop offset="0.2023" stop-color="#00aa8d"/><stop offset="0.2059" stop-color="#00aa8d"/><stop offset="0.2061" stop-color="#009f00"/><stop offset="0.2079" stop-color="#009f00"/><stop offset="0.2191" stop-color="#00ea00"/><stop offset="0.2228" stop-color="#00fc00"/><stop offset="0.2246" stop-color="#00fc00"/><stop offset="0.2248" stop-color="#49ff00"/><stop offset="0.2284" stop-color="#49ff00"/><stop offset="0.2285" stop-color="#84ff00"/><stop offset="0.2321" stop-color="#84ff00"/><stop offset="0.2323" stop-color="#bcff00"/><stop offset="0.2453" stop-color="#d8f500"/><stop offset="0.2715" stop-color="#f4e200"/><stop offset="0.3015" stop-color="#ffc100"/><stop offset="0.3165" stop-color="#ffb100"/><stop offset="0.3539" stop-color="#ffa500"/><stop offset="0.4082" stop-color="#ffa500"/><stop offset="0.4083" stop-color="#ff3900"/><stop offset="0.4119" stop-color="#ff3900"/><stop offset="0.4121" stop-color="#ffa500"/><stop offset="0.4813" stop-color="#ffc900"/><stop offset="0.5449" stop-color="#fcd200"/><stop offset="0.5899" stop-color="#ecef00"/><stop offset="0.6011" stop-color="#d4f700"/><stop offset="0.6086" stop-color="#b0ff00"/><stop offset="0.6124" stop-color="#84ff00"/><stop offset="0.6142" stop-color="#84ff00"/><stop offset="0.6143" stop-color="#49ff00"/><stop offset="0.6161" stop-color="#49ff00"/><stop offset="0.6199" stop-color="#1dff00"/><stop offset="0.6236" stop-color="#00fc00"/><stop offset="0.6873" stop-color="#00ba00"/><stop offset="0.7097" stop-color="#009c00"/><stop offset="0.7135" stop-color="#009b13"/><stop offset="0.7247" stop-color="#00a773"/><stop offset="0.7285" stop-color="#00aa8b"/><stop offset="0.7397" stop-color="#00aaa0"/><stop offset="0.7452" stop-color="#00a8af"/><stop offset="0.7454" stop-color="#00bc00"/><stop offset="0.749" stop-color="#00bc00"/><stop offset="0.7491" stop-color="#009cd3"/><stop offset="0.7864" stop-color="#0095dd"/><stop offset="0.7866" stop-color="#00bc00"/><stop offset="0.7902" stop-color="#00bc00"/><stop offset="0.7903" stop-color="#0092dd"/><stop offset="0.7977" stop-color="#0090dd"/><stop offset="0.7978" stop-color="#00bc00"/><stop offset="0.8014" stop-color="#00bc00"/><stop offset="0.8016" stop-color="#008ddd"/><stop offset="0.8333" stop-color="#007add"/><stop offset="0.8408" stop-color="#0054dd"/><stop offset="0.8483" stop-color="#0025dd"/><stop offset="0.8558" stop-color="#0009dd"/><stop offset="0.8633" stop-color="#0000d9"/><stop offset="0.897" stop-color="#0000bd"/><stop offset="0.9025" stop-color="#0000b1"/><stop offset="0.9027" stop-color="#2d00a4"/><stop offset="0.9063" stop-color="#2d00a4"/><stop offset="0.9064" stop-color="#6d009c"/><stop offset="0.9082" stop-color="#6d009c"/><stop offset="0.912" stop-color="#860097"/><stop offset="0.927" stop-color="#770088"/><stop offset="0.9345" stop-color="#380040"/><stop offset="0.9382" stop-color="#25002b"/><stop offset="0.9532" stop-color="#000000"/><stop offset="1" stop-color="#000000"/></linearGradient><clipPath id="cl"><rect x="48" y="28" width="267" height="368"/></clipPath><clipPath id="cr"><rect x="328" y="28" width="267" height="368"/></clipPath></defs><rect width="640" height="440" fill="#fff"/><g shape-rendering="crispEdges"><rect x="48" y="27.85" width="267" height="17.03" fill="url(#g1)"/><rect x="48" y="44.58" width="267" height="17.03" fill="url(#g2)"/><rect x="48" y="61.30" width="267" height="17.03" fill="url(#g3)"/><rect x="48" y="78.03" width="267" height="17.03" fill="url(#g4)"/><rect x="48" y="94.76" width="267" height="17.03" fill="url(#g5)"/><rect x="48" y="111.49" width="267" height="17.03" fill="url(#g6)"/><rect x="48" y="128.21" width="267" height="17.03" fill="url(#g7)"/><rect x="48" y="144.94" width="267" height="17.03" fill="url(#g8)"/><rect x="48" y="161.67" width="267" height="17.03" fill="url(#g9)"/><rect x="48" y="178.40" width="267" height="17.03" fill="url(#g10)"/><rect x="48" y="195.12" width="267" height="17.03" fill="url(#g11)"/><rect x="48" y="211.85" width="267" height="17.03" fill="url(#g12)"/><rect x="48" y="228.58" width="267" height="17.03" fill="url(#g13)"/><rect x="48" y="245.30" width="267" height="17.03" fill="url(#g14)"/><rect x="48" y="262.03" width="267" height="17.03" fill="url(#g15)"/><rect x="48" y="278.76" width="267" height="17.03" fill="url(#g16)"/><rect x="48" y="295.49" width="267" height="17.03" fill="url(#g17)"/><rect x="48" y="312.21" width="267" height="17.03" fill="url(#g18)"/><rect x="48" y="328.94" width="267" height="17.03" fill="url(#g19)"/><rect x="48" y="345.67" width="267" height="17.03" fill="url(#g20)"/><rect x="48" y="362.40" width="267" height="17.03" fill="url(#g21)"/><rect x="48" y="379.12" width="267" height="17.03" fill="url(#g22)"/><rect x="328" y="27.85" width="267" height="17.03" fill="url(#g23)"/><rect x="328" y="44.58" width="267" height="17.03" fill="url(#g24)"/><rect x="328" y="61.30" width="267" height="17.03" fill="url(#g25)"/><rect x="328" y="78.03" width="267" height="17.03" fill="url(#g26)"/><rect x="328" y="94.76" width="267" height="17.03" fill="url(#g27)"/><rect x="328" y="111.49" width="267" height="17.03" fill="url(#g28)"/><rect x="328" y="128.21" width="267" height="17.03" fill="url(#g29)"/><rect x="328" y="144.94" width="267" height="17.03" fill="url(#g30)"/><rect x="328" y="161.67" width="267" height="17.03" fill="url(#g31)"/><rect x="328" y="178.40" width="267" height="17.03" fill="url(#g32)"/><rect x="328" y="195.12" width="267" height="17.03" fill="url(#g33)"/><rect x="328" y="211.85" width="267" height="17.03" fill="url(#g34)"/><rect x="328" y="228.58" width="267" height="17.03" fill="url(#g35)"/><rect x="328" y="245.30" width="267" height="17.03" fill="url(#g36)"/><rect x="328" y="262.03" width="267" height="17.03" fill="url(#g37)"/><rect x="328" y="278.76" width="267" height="17.03" fill="url(#g38)"/><rect x="328" y="295.49" width="267" height="17.03" fill="url(#g39)"/><rect x="328" y="312.21" width="267" height="17.03" fill="url(#g40)"/><rect x="328" y="328.94" width="267" height="17.03" fill="url(#g41)"/><rect x="328" y="345.67" width="267" height="17.03" fill="url(#g42)"/><rect x="328" y="362.40" width="267" height="17.03" fill="url(#g43)"/><rect x="328" y="379.12" width="267" height="17.03" fill="url(#g44)"/></g><g font-size="17.3" fill="#151515" text-anchor="middle"><text x="181.5" y="16.5" textLength="167" lengthAdjust="spacingAndGlyphs">33.4 (Tile094=94) X</text><text x="461.5" y="16.5" textLength="167" lengthAdjust="spacingAndGlyphs">33.4 (Tile094=94) Y</text></g><g font-size="14.6" fill="#151515"><text x="31.5" y="41.6" text-anchor="end">On</text><text x="612" y="41.6">On</text><text x="31.5" y="58.3" text-anchor="end">Y</text><text x="612" y="58.3">Y</text><text x="31.5" y="75.0" text-anchor="end">Off</text><text x="612" y="75.0">Off</text><text x="31.5" y="91.7" text-anchor="end">P</text><text x="612" y="91.7">P</text><text x="31.5" y="108.5" text-anchor="end">O</text><text x="612" y="108.5">O</text><text x="31.5" y="125.2" text-anchor="end">N</text><text x="612" y="125.2">N</text><text x="31.5" y="141.9" text-anchor="end">M</text><text x="612" y="141.9">M</text><text x="31.5" y="158.7" text-anchor="end">L</text><text x="612" y="158.7">L</text><text x="31.5" y="175.4" text-anchor="end">K</text><text x="612" y="175.4">K</text><text x="31.5" y="192.1" text-anchor="end">J</text><text x="612" y="192.1">J</text><text x="31.5" y="208.8" text-anchor="end">I</text><text x="612" y="208.8">I</text><text x="31.5" y="225.6" text-anchor="end">H</text><text x="612" y="225.6">H</text><text x="31.5" y="242.3" text-anchor="end">G</text><text x="612" y="242.3">G</text><text x="31.5" y="259.0" text-anchor="end">F</text><text x="612" y="259.0">F</text><text x="31.5" y="275.7" text-anchor="end">E</text><text x="612" y="275.7">E</text><text x="31.5" y="292.5" text-anchor="end">D</text><text x="612" y="292.5">D</text><text x="31.5" y="309.2" text-anchor="end">C</text><text x="612" y="309.2">C</text><text x="31.5" y="325.9" text-anchor="end">B</text><text x="612" y="325.9">B</text><text x="31.5" y="342.7" text-anchor="end">A</text><text x="612" y="342.7">A</text><text x="31.5" y="359.4" text-anchor="end">Off</text><text x="612" y="359.4">Off</text><text x="31.5" y="376.1" text-anchor="end">X</text><text x="612" y="376.1">X</text><text x="31.5" y="392.8" text-anchor="end">On</text><text x="612" y="392.8">On</text></g><rect x="24.2" y="40.3" width="1.8" height="1.8" fill="#262626"/><rect x="24.2" y="88.3" width="1.8" height="1.8" fill="#262626"/><rect x="24.2" y="136.3" width="1.8" height="1.8" fill="#262626"/><rect x="24.2" y="184.3" width="1.8" height="1.8" fill="#262626"/><text transform="translate(2.2,218) rotate(-90)" font-size="14.6" fill="#151515" text-anchor="middle">Bipole</text><g font-size="10.6" fill="#151515" text-anchor="middle" stroke="none"><rect x="48.75" y="408" width="1" height="4.6" fill="#262626"/><text x="49.25" y="426.3">0</text><rect x="89.65" y="408" width="1" height="4.6" fill="#262626"/><text x="90.15" y="426.3">50</text><rect x="130.55" y="408" width="1" height="4.6" fill="#262626"/><text x="131.05" y="426.3">100</text><rect x="171.45" y="408" width="1" height="4.6" fill="#262626"/><text x="171.95" y="426.3">150</text><rect x="212.35" y="408" width="1" height="4.6" fill="#262626"/><text x="212.85" y="426.3">200</text><rect x="253.25" y="408" width="1" height="4.6" fill="#262626"/><text x="253.75" y="426.3">250</text><rect x="294.15" y="408" width="1" height="4.6" fill="#262626"/><text x="294.65" y="426.3">300</text><rect x="328.75" y="408" width="1" height="4.6" fill="#262626"/><text x="329.25" y="426.3">0</text><rect x="369.65" y="408" width="1" height="4.6" fill="#262626"/><text x="370.15" y="426.3">50</text><rect x="410.55" y="408" width="1" height="4.6" fill="#262626"/><text x="411.05" y="426.3">100</text><rect x="451.45" y="408" width="1" height="4.6" fill="#262626"/><text x="451.95" y="426.3">150</text><rect x="492.35" y="408" width="1" height="4.6" fill="#262626"/><text x="492.85" y="426.3">200</text><rect x="533.25" y="408" width="1" height="4.6" fill="#262626"/><text x="533.75" y="426.3">250</text><rect x="574.15" y="408" width="1" height="4.6" fill="#262626"/><text x="574.65" y="426.3">300</text></g><g font-size="14.6" fill="#fff"><rect x="69.0" y="283.0" width="6" height="1" fill="#fff"/><text x="79.5" y="289.2">0</text><text x="317.5" y="289.2" text-anchor="end">0</text><rect x="69.0" y="235.0" width="6" height="1" fill="#fff"/><text x="79.5" y="241.2">5</text><text x="317.5" y="241.2" text-anchor="end">5</text><rect x="69.0" y="187.0" width="6" height="1" fill="#fff"/><text x="79.5" y="193.2">10</text><text x="317.5" y="193.2" text-anchor="end">10</text><rect x="69.0" y="139.0" width="6" height="1" fill="#fff"/><text x="79.5" y="145.2">15</text><text x="317.5" y="145.2" text-anchor="end">15</text><rect x="69.0" y="91.0" width="6" height="1" fill="#fff"/><text x="79.5" y="97.2">20</text><text x="317.5" y="97.2" text-anchor="end">20</text><rect x="69.0" y="43.0" width="6" height="1" fill="#fff"/><text x="79.5" y="49.2">25</text><text x="317.5" y="49.2" text-anchor="end">25</text><rect x="349.0" y="283.0" width="6" height="1" fill="#fff"/><text x="359.5" y="289.2">0</text><rect x="349.0" y="235.0" width="6" height="1" fill="#fff"/><text x="359.5" y="241.2">5</text><rect x="349.0" y="187.0" width="6" height="1" fill="#fff"/><text x="359.5" y="193.2">10</text><rect x="349.0" y="139.0" width="6" height="1" fill="#fff"/><text x="359.5" y="145.2">15</text><rect x="349.0" y="91.0" width="6" height="1" fill="#fff"/><text x="359.5" y="97.2">20</text><rect x="349.0" y="43.0" width="6" height="1" fill="#fff"/><text x="359.5" y="49.2">25</text></g><g fill="none" stroke="#fff" stroke-linejoin="round" stroke-linecap="round"><g clip-path="url(#cl)"><g fill="#fff" stroke="none"><polygon points="105.5,246 107.988,232.154 110.949,218.816 114.384,207.468 118.263,199.146 121.841,191.041 125.786,184.118 131.735,176.678 138.11,170.543 144.504,166.364 150.555,163.082 156.474,158.88 162.61,154.494 165.839,151.941 167.679,150.734 169.538,151.499 171.365,153.491 173.816,150.449 176.117,146.993 178.467,148.999 180.336,151.486 183.243,147.97 186.055,145.749 188.407,147.996 190.22,151.96 192.553,152.894 194.544,155.64 196.793,160.707 199.106,166.447 202.567,172.359 206.594,178.923 210.118,186.471 214.118,195.221 219.094,204.423 224.118,213.971 229.152,223.03 234.186,231.581 239.168,239.055 245.032,246.64 246.167,257.001 240.695,251.281 235.791,245.388 230.832,237.945 225.862,230.993 220.874,223.014 216.885,215.534 213.385,208.034 209.88,200.524 205.909,193.084 201.906,185.577 198.352,177.976 195.864,171.496 193.423,166.615 190.923,164.115 187.903,162.57 184.903,165.57 180.962,162.501 177.474,162.15 174.749,165.032 172.419,163.753 170.135,162.509 166.431,164.678 161.931,165.178 155.422,168.684 149.524,172.621 143.453,176.163 136.719,181.375 131.132,188.504 126.584,195.599 121.095,202.074 116.543,210.709 113.524,219.783 111.024,229.783 108.516,245.824"/></g><g fill="#fff" stroke="#fff" stroke-width="0.6"><polygon points="245.8,246 246.2,152 247.4,148 248.7,152 249.5,190 250.3,186 251.7,169.5 253.2,186 254.3,196 255,197 255.8,190 256.8,152 258,147.5 259.4,152 260.3,166 261,160 262.2,154.5 263.6,160 264.5,207 265.5,225 266,210 267.1,207 268.3,212 270.6,258 272.2,277.5 272.2,280.3 269.2,280.3 268,258 266,240 264.5,257 263.3,250 262.4,237 261.4,250 260,258 259,254 258.4,247 257.5,254 256,258 254,250 252.6,226 251,245 249.5,258 248.6,252 247.9,245.5 247.2,252 246.2,258"/></g><polyline points="49.2,207 50.3,299.5 52,301.3 88,301.3" stroke-width="2.8"/><path d="M52,301.3C64.00,301.30 74.67,301.63 88.00,301.30C101.33,300.97 89.60,301.30 92.00,300.30C94.40,299.30 94.13,298.97 95.20,298.30" stroke-width="3"/><path d="M95.2,298.3C96.13,297.03 96.27,297.50 98.00,294.50C99.73,291.50 99.07,293.47 100.40,289.30C101.73,285.13 100.97,287.20 102.00,282.00C103.03,276.80 102.57,279.70 103.50,273.70C104.43,267.70 103.93,270.90 104.80,264.00C105.67,257.10 105.30,259.67 106.10,253.00C106.90,246.33 106.37,249.67 107.20,244.00C108.03,238.33 107.50,242.00 108.60,236.00C109.70,230.00 109.87,229.33 110.50,226.00" stroke-width="4.2"/><path d="M269.5,279C273.33,279.00 276.50,279.57 281.00,279.00C285.50,278.43 281.67,276.63 283.00,277.30C284.33,277.97 283.17,276.77 285.00,281.00C286.83,285.23 285.83,284.33 288.50,290.00C291.17,295.67 289.67,293.50 293.00,298.00C296.33,302.50 295.17,301.17 298.50,303.50C301.83,305.83 297.17,304.50 303.00,305.00C308.83,305.50 311.67,305.00 316.00,305.00" stroke-width="2.8"/><g fill="#fff" stroke-width="0.6"><polygon points="127.1,184 127.584,154 128.2,152 128.816,154 129.3,184"/></g><g fill="#fff" stroke-width="0.6"><polygon points="129.6,181 130.04,156 130.6,154 131.16,156 131.6,181"/></g><g fill="#fff" stroke-width="0.6"><polygon points="146.9,168 147.648,97 148.6,95 149.552,97 150.3,168"/></g><g fill="#fff" stroke-width="0.6"><polygon points="150.7,165 151.624,127 152.8,125 153.976,127 154.9,165"/></g><g fill="#fff" stroke-width="0.6"><polygon points="154.4,163 155.104,93 156,91 156.896,93 157.6,163"/></g><g fill="#fff" stroke-width="0.6"><polygon points="275.8,280 276.636,138 277.7,136 278.764,138 279.6,280"/></g></g><g clip-path="url(#cr)"><g fill="#fff" stroke="#fff" stroke-width="0.8"><polygon points="521,236 524,241 526,244 526.1,120 527.8,116.4 529.6,120 530.2,127.5 530.9,121 532.25,118 533.6,122 535.4,141.75 536.6,130 538,126 539.4,130 540,118 541.35,114.6 542.8,119 546.25,155.75 547,155 548,154.9 549.4,157 550.6,180 551.5,240 551.5,270 548,271.5 548,210 547.1,208 543.6,180 543.2,166 542.75,165 542.2,168 541.9,180 541.5,200 540.1,222 538.5,205 537.3,202 536.6,206 535.5,200 534.9,180 534,178.5 533,178.5 532.6,185 532.25,202.75 530,225 528.75,239.5 527.5,258 526.5,252 520,246"/><polygon points="555.9,270 556.5,153 558,149.6 559.5,153 560.6,270"/></g><polyline points="329.3,251 330.2,299.5 332,300.6 364,300.6 370,299.3" stroke-width="2.8"/><path d="M364,300.6C366.00,300.17 366.17,301.17 370.00,299.30C373.83,297.43 372.50,298.43 375.50,295.00C378.50,291.57 376.92,293.17 379.00,289.00C381.08,284.83 380.08,288.50 381.75,282.50C383.42,276.50 382.33,280.17 384.00,271.00C385.67,261.83 385.83,260.33 386.75,255.00" stroke-width="3"/><path d="M384,271C384.92,265.67 384.58,268.67 386.75,255.00C388.92,241.33 387.75,245.43 390.50,230.00C393.25,214.57 393.50,215.80 395.00,208.70" stroke-width="3.8"/><path d="M390.5,230C392.00,222.90 391.20,220.80 395.00,208.70C398.80,196.60 399.60,198.70 401.90,193.70" stroke-width="4.5"/><path d="M395,208.7C397.30,203.70 396.90,203.07 401.90,193.70C406.90,184.33 403.97,187.87 410.00,180.60C416.03,173.33 412.50,178.13 420.00,171.90C427.50,165.67 424.17,168.37 432.50,161.90C440.83,155.43 437.10,158.57 445.00,152.50C452.90,146.43 449.12,147.87 456.20,143.70C463.28,139.53 459.98,138.73 466.25,140.00C472.52,141.27 470.02,140.63 475.00,147.50C479.98,154.37 476.63,151.03 481.20,160.60C485.77,170.17 483.07,164.73 488.70,176.20C494.33,187.67 493.10,184.37 498.10,195.00C503.10,205.63 498.90,198.53 503.70,208.10C508.50,217.67 507.90,215.57 512.50,223.70C517.10,231.83 514.33,226.73 517.50,232.50C520.67,238.27 519.00,235.33 522.00,241.00C525.00,246.67 525.00,246.67 526.50,249.50" stroke-width="5.2"/><polyline points="549,269 560.5,269.5" stroke-width="3"/><path d="M560.5,269.5C561.17,270.17 560.83,268.80 562.50,271.50C564.17,274.20 563.67,274.43 565.50,277.60C567.33,280.77 566.25,278.37 568.00,281.00C569.75,283.63 568.92,281.50 570.75,285.50C572.58,289.50 571.75,288.33 573.50,293.00C575.25,297.67 574.17,296.33 576.00,299.50C577.83,302.67 576.33,300.67 579.00,302.50C581.67,304.33 578.33,303.73 584.00,305.00C589.67,306.27 592.00,305.87 596.00,306.30" stroke-width="3"/><g fill="#fff" stroke-width="0.6"><polygon points="407.5,184 407.94,168 408.5,166 409.06,168 409.5,184"/></g><g fill="#fff" stroke-width="0.6"><polygon points="427.55,161 428.078,132 428.75,130 429.422,132 429.95,161"/></g><g fill="#fff" stroke-width="0.6"><polygon points="435.15,156 435.524,12 436,10 436.476,12 436.85,156"/></g><g fill="#fff" stroke-width="0.6"><polygon points="436.65,156 437.024,12 437.5,10 437.976,12 438.35,156"/></g><g fill="#fff" stroke-width="0.6"><polygon points="446.3,150 446.828,130.5 447.5,128.5 448.172,130.5 448.7,150"/></g></g></g></svg></body></html>
